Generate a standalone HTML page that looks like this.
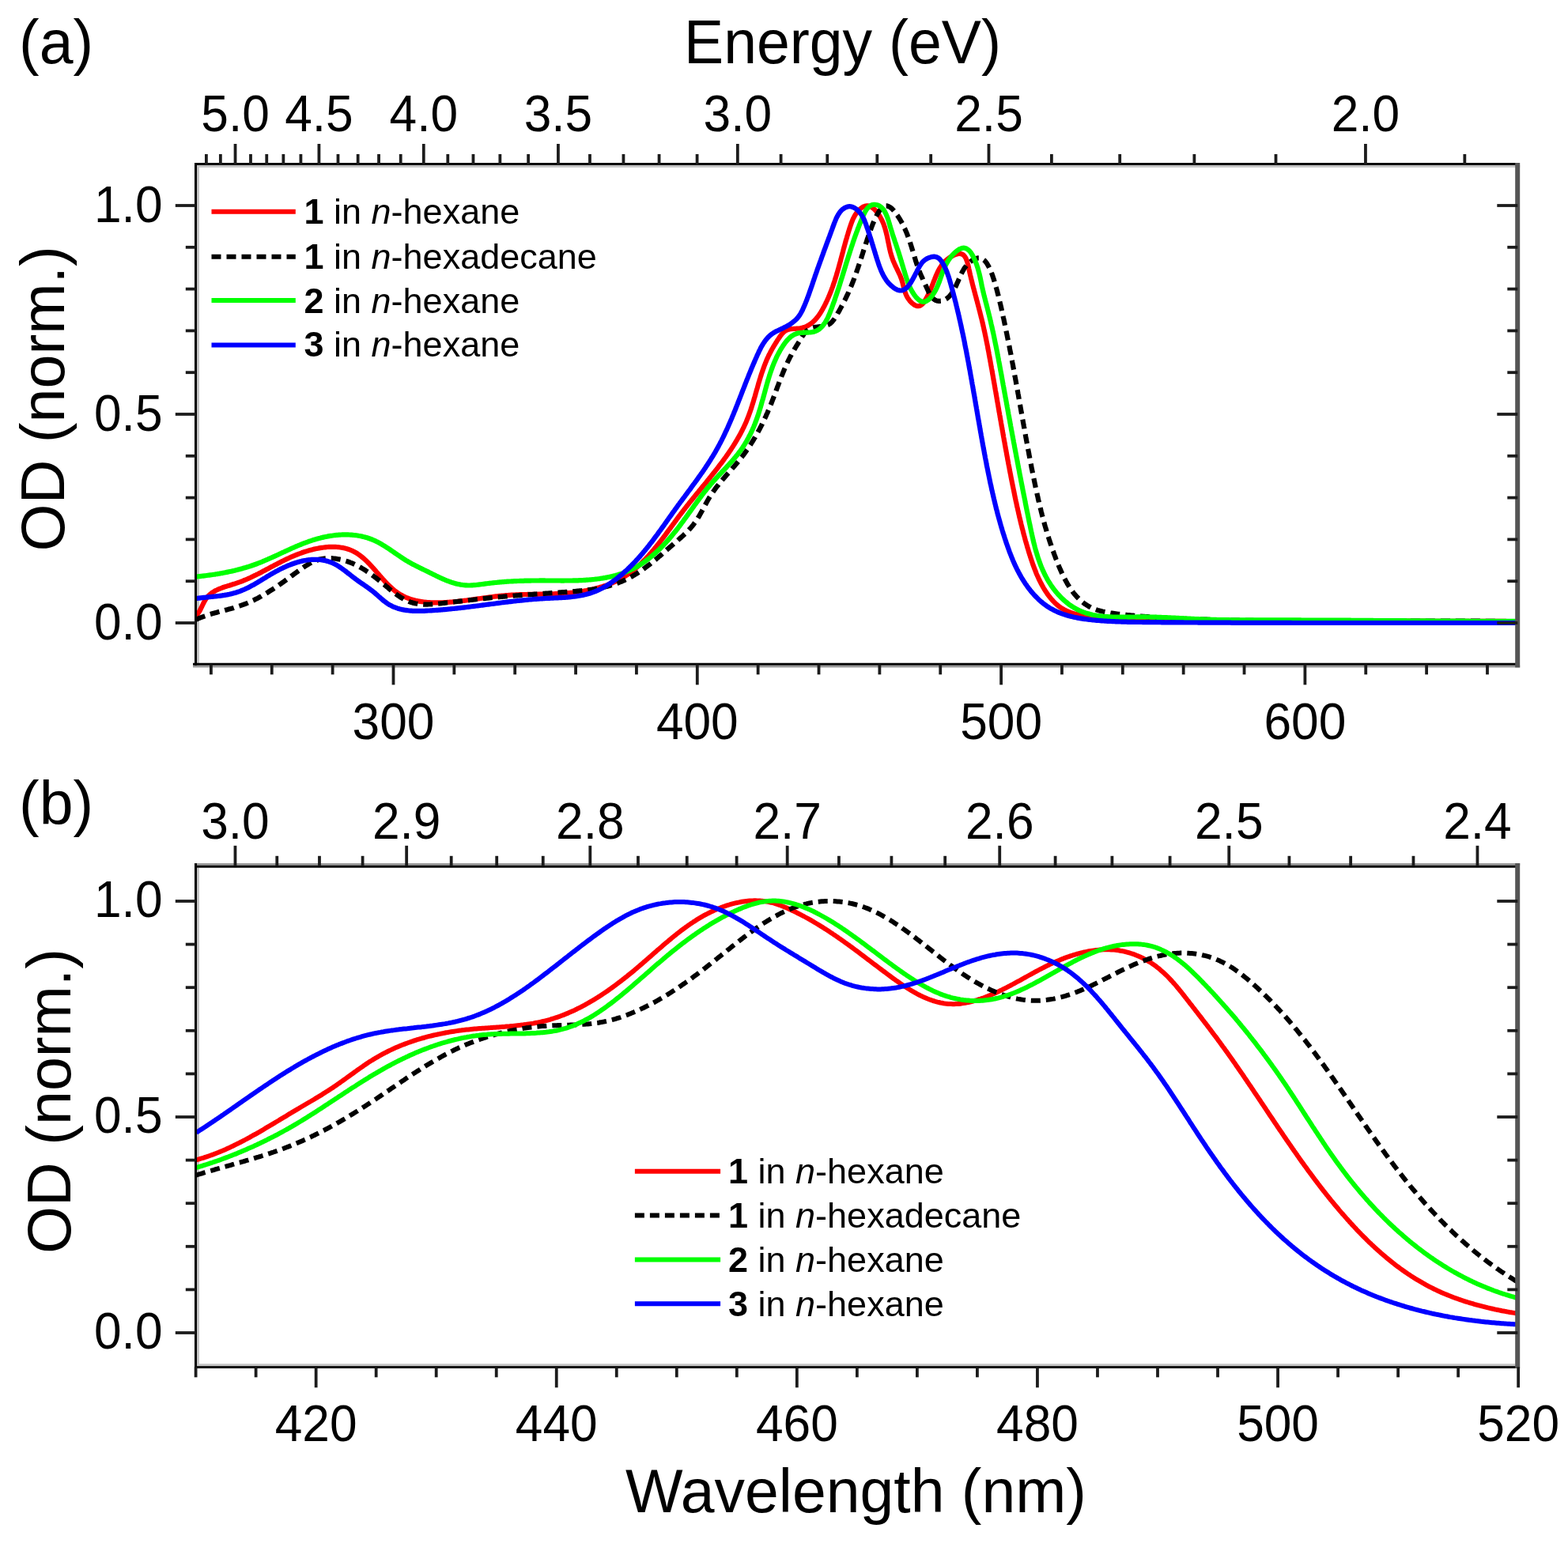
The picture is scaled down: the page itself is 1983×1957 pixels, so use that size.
<!DOCTYPE html>
<html><head><meta charset="utf-8"><title>OD spectra</title>
<style>html,body{margin:0;padding:0;background:#fff;overflow:hidden;}svg{display:block;}</style></head>
<body><svg xmlns="http://www.w3.org/2000/svg" width="1983" height="1957" viewBox="0 0 1983 1957">
<rect width="1983" height="1957" fill="#fff"/>
<defs><clipPath id="ca"><rect x="247.8" y="208.0" width="1671.5" height="632.3"/></clipPath>
<clipPath id="cb"><rect x="247.8" y="1095.8" width="1671.5" height="633.5"/></clipPath></defs>
<rect x="249.00" y="206.00" width="3.00" height="635.60" fill="#c4c4c4" stroke="none"/>
<rect x="246.00" y="208.80" width="1676.20" height="3.00" fill="#c4c4c4" stroke="none"/>
<rect x="244.00" y="841.50" width="1678.20" height="2.90" fill="#9a9a9a" stroke="none"/>
<rect x="249.00" y="1097.70" width="3.00" height="630.40" fill="#c4c4c4" stroke="none"/>
<rect x="246.00" y="1092.00" width="1676.20" height="2.90" fill="#9a9a9a" stroke="none"/>
<rect x="252.00" y="1725.20" width="1664.20" height="3.00" fill="#c4c4c4" stroke="none"/>
<g clip-path="url(#ca)" fill="none" stroke-linejoin="round">
<path d="M248.0,778.5 L249.0,777.5 L250.0,776.5 L250.8,775.4 L251.7,774.2 L252.5,772.9 L253.2,771.5 L253.9,770.1 L254.6,768.7 L255.3,767.3 L256.0,765.8 L256.7,764.3 L257.4,762.9 L258.1,761.5 L258.9,760.1 L259.7,758.7 L260.5,757.5 L261.4,756.3 L262.3,755.1 L263.3,754.0 L264.4,753.0 L265.5,752.0 L266.6,751.1 L267.7,750.2 L268.9,749.4 L270.2,748.6 L271.4,747.8 L272.7,747.1 L274.0,746.5 L275.4,745.8 L276.8,745.2 L278.2,744.6 L279.6,744.1 L281.0,743.5 L282.4,743.0 L283.9,742.5 L285.4,742.1 L286.8,741.6 L288.3,741.1 L289.8,740.7 L291.3,740.2 L292.8,739.7 L294.2,739.3 L295.7,738.8 L297.2,738.4 L298.6,737.9 L300.1,737.4 L301.5,736.9 L303.0,736.4 L304.4,735.9 L305.8,735.3 L307.2,734.8 L308.6,734.2 L310.0,733.6 L311.3,733.1 L312.7,732.5 L314.0,731.9 L315.4,731.3 L316.7,730.7 L318.1,730.0 L319.4,729.4 L320.7,728.8 L322.0,728.1 L323.4,727.5 L324.7,726.8 L326.0,726.2 L327.3,725.5 L328.6,724.9 L329.9,724.2 L331.2,723.5 L332.5,722.8 L333.8,722.1 L335.1,721.5 L336.3,720.8 L337.6,720.1 L338.9,719.4 L340.2,718.7 L341.5,718.0 L342.8,717.3 L344.1,716.6 L345.4,716.0 L346.7,715.3 L348.0,714.6 L349.3,713.9 L350.6,713.2 L351.9,712.5 L353.2,711.9 L354.5,711.2 L355.8,710.5 L357.2,709.8 L358.5,709.2 L359.8,708.5 L361.2,707.9 L362.5,707.2 L363.9,706.6 L365.3,706.0 L366.7,705.3 L368.0,704.7 L369.4,704.1 L370.8,703.5 L372.3,702.9 L373.7,702.3 L375.1,701.7 L376.6,701.2 L378.0,700.6 L379.5,700.1 L380.9,699.6 L382.4,699.0 L383.9,698.5 L385.4,698.0 L386.9,697.6 L388.4,697.1 L389.9,696.6 L391.4,696.2 L392.9,695.8 L394.4,695.4 L395.9,695.0 L397.5,694.6 L399.0,694.3 L400.5,694.0 L402.0,693.7 L403.6,693.4 L405.1,693.1 L406.6,692.9 L408.1,692.7 L409.6,692.5 L411.2,692.3 L412.7,692.1 L414.2,692.0 L415.7,691.9 L417.2,691.8 L418.7,691.8 L420.2,691.8 L421.7,691.8 L423.1,691.8 L424.6,691.9 L426.1,692.0 L427.5,692.1 L429.0,692.3 L430.4,692.5 L431.8,692.7 L433.3,692.9 L434.7,693.2 L436.1,693.5 L437.4,693.9 L438.8,694.3 L440.2,694.7 L441.5,695.2 L442.8,695.7 L444.2,696.2 L445.5,696.8 L446.8,697.4 L448.0,698.0 L449.3,698.7 L450.5,699.4 L451.7,700.2 L452.9,701.0 L454.1,701.8 L455.3,702.7 L456.5,703.6 L457.6,704.5 L458.8,705.5 L459.9,706.4 L461.1,707.5 L462.2,708.5 L463.3,709.5 L464.4,710.6 L465.5,711.7 L466.5,712.8 L467.6,713.9 L468.7,715.1 L469.7,716.2 L470.8,717.4 L471.9,718.5 L472.9,719.7 L474.0,720.9 L475.0,722.1 L476.0,723.3 L477.1,724.5 L478.1,725.7 L479.2,726.9 L480.2,728.1 L481.3,729.3 L482.3,730.5 L483.4,731.7 L484.4,732.9 L485.5,734.0 L486.5,735.2 L487.6,736.3 L488.7,737.5 L489.8,738.6 L490.9,739.7 L492.0,740.8 L493.1,741.8 L494.2,742.9 L495.3,743.9 L496.4,744.9 L497.6,745.9 L498.7,746.8 L499.9,747.8 L501.1,748.6 L502.3,749.5 L503.5,750.3 L504.7,751.1 L506.0,751.9 L507.2,752.6 L508.5,753.3 L509.7,754.0 L511.0,754.6 L512.3,755.2 L513.6,755.8 L515.0,756.3 L516.3,756.9 L517.6,757.3 L519.0,757.8 L520.4,758.3 L521.7,758.7 L523.1,759.1 L524.5,759.4 L525.9,759.8 L527.3,760.1 L528.8,760.4 L530.2,760.6 L531.6,760.9 L533.1,761.1 L534.5,761.3 L536.0,761.5 L537.4,761.7 L538.9,761.8 L540.4,762.0 L541.8,762.1 L543.3,762.2 L544.8,762.3 L546.3,762.3 L547.8,762.4 L549.3,762.4 L550.8,762.4 L552.3,762.4 L553.8,762.4 L555.3,762.4 L556.8,762.4 L558.3,762.3 L559.8,762.3 L561.3,762.2 L562.8,762.1 L564.3,762.0 L565.8,761.9 L567.4,761.8 L568.9,761.7 L570.4,761.6 L571.9,761.5 L573.4,761.3 L574.9,761.2 L576.4,761.0 L577.9,760.9 L579.4,760.7 L580.9,760.6 L582.4,760.4 L583.9,760.2 L585.4,760.0 L586.9,759.8 L588.4,759.7 L589.9,759.5 L591.4,759.3 L592.9,759.1 L594.4,758.9 L595.9,758.7 L597.4,758.5 L598.9,758.3 L600.4,758.0 L601.9,757.8 L603.4,757.6 L604.9,757.4 L606.4,757.2 L607.9,757.0 L609.4,756.8 L610.9,756.6 L612.4,756.4 L613.9,756.2 L615.4,756.0 L616.9,755.8 L618.4,755.6 L619.9,755.4 L621.4,755.2 L622.8,755.0 L624.3,754.8 L625.8,754.6 L627.3,754.4 L628.8,754.3 L630.3,754.1 L631.8,753.9 L633.3,753.8 L634.8,753.6 L636.3,753.5 L637.8,753.4 L639.3,753.2 L640.8,753.1 L642.3,753.0 L643.7,752.9 L645.2,752.8 L646.7,752.7 L648.2,752.6 L649.7,752.5 L651.2,752.5 L652.7,752.4 L654.2,752.3 L655.7,752.3 L657.2,752.2 L658.7,752.2 L660.2,752.1 L661.7,752.1 L663.1,752.0 L664.6,752.0 L666.1,752.0 L667.6,751.9 L669.1,751.9 L670.6,751.9 L672.1,751.9 L673.6,751.8 L675.1,751.8 L676.6,751.8 L678.1,751.8 L679.6,751.8 L681.1,751.7 L682.6,751.7 L684.1,751.7 L685.6,751.7 L687.1,751.6 L688.6,751.6 L690.1,751.6 L691.6,751.5 L693.1,751.5 L694.6,751.5 L696.1,751.4 L697.6,751.4 L699.1,751.3 L700.6,751.3 L702.1,751.2 L703.6,751.2 L705.1,751.1 L706.6,751.0 L708.1,750.9 L709.6,750.9 L711.1,750.8 L712.6,750.7 L714.1,750.6 L715.6,750.4 L717.1,750.3 L718.6,750.2 L720.1,750.1 L721.6,749.9 L723.1,749.8 L724.6,749.6 L726.1,749.4 L727.6,749.2 L729.1,749.0 L730.6,748.8 L732.1,748.6 L733.6,748.4 L735.1,748.2 L736.6,748.0 L738.1,747.7 L739.6,747.4 L741.1,747.2 L742.6,746.9 L744.1,746.6 L745.5,746.3 L747.0,746.0 L748.5,745.7 L749.9,745.3 L751.4,745.0 L752.9,744.6 L754.3,744.2 L755.7,743.8 L757.2,743.4 L758.6,743.0 L760.0,742.6 L761.5,742.2 L762.9,741.7 L764.3,741.2 L765.7,740.8 L767.1,740.3 L768.5,739.8 L769.9,739.2 L771.2,738.7 L772.6,738.1 L774.0,737.6 L775.3,737.0 L776.7,736.4 L778.0,735.8 L779.3,735.1 L780.6,734.5 L781.9,733.8 L783.2,733.2 L784.5,732.5 L785.8,731.8 L787.0,731.0 L788.3,730.3 L789.5,729.5 L790.8,728.7 L792.0,727.9 L793.2,727.1 L794.4,726.3 L795.6,725.4 L796.8,724.6 L798.0,723.7 L799.1,722.8 L800.3,721.9 L801.4,721.0 L802.6,720.1 L803.7,719.1 L804.8,718.2 L805.9,717.2 L807.0,716.2 L808.1,715.2 L809.2,714.2 L810.3,713.2 L811.4,712.1 L812.4,711.1 L813.5,710.0 L814.5,709.0 L815.6,707.9 L816.6,706.8 L817.7,705.7 L818.7,704.6 L819.7,703.5 L820.7,702.4 L821.7,701.2 L822.7,700.1 L823.7,699.0 L824.7,697.8 L825.7,696.6 L826.7,695.5 L827.6,694.3 L828.6,693.1 L829.6,691.9 L830.5,690.7 L831.5,689.5 L832.5,688.3 L833.4,687.1 L834.3,685.9 L835.3,684.7 L836.2,683.5 L837.2,682.3 L838.1,681.0 L839.0,679.8 L839.9,678.6 L840.9,677.3 L841.8,676.1 L842.7,674.9 L843.6,673.6 L844.5,672.4 L845.4,671.2 L846.4,669.9 L847.3,668.7 L848.2,667.4 L849.1,666.2 L850.0,665.0 L850.9,663.7 L851.8,662.5 L852.7,661.3 L853.6,660.0 L854.5,658.8 L855.4,657.6 L856.3,656.3 L857.2,655.1 L858.1,653.9 L859.0,652.7 L859.9,651.5 L860.8,650.3 L861.7,649.1 L862.7,647.9 L863.6,646.7 L864.5,645.5 L865.4,644.3 L866.3,643.2 L867.2,642.0 L868.1,640.8 L869.1,639.7 L870.0,638.5 L870.9,637.4 L871.8,636.2 L872.7,635.0 L873.7,633.9 L874.6,632.8 L875.5,631.6 L876.4,630.5 L877.4,629.3 L878.3,628.2 L879.2,627.0 L880.2,625.9 L881.1,624.8 L882.0,623.6 L883.0,622.5 L883.9,621.3 L884.8,620.2 L885.8,619.1 L886.7,617.9 L887.6,616.8 L888.6,615.6 L889.5,614.5 L890.4,613.4 L891.4,612.2 L892.3,611.1 L893.3,609.9 L894.2,608.8 L895.1,607.6 L896.1,606.4 L897.0,605.3 L898.0,604.1 L898.9,602.9 L899.8,601.8 L900.8,600.6 L901.7,599.4 L902.6,598.2 L903.6,597.1 L904.5,595.9 L905.4,594.7 L906.4,593.5 L907.3,592.3 L908.2,591.1 L909.1,589.9 L910.0,588.7 L910.9,587.5 L911.9,586.3 L912.8,585.1 L913.7,583.9 L914.6,582.7 L915.4,581.5 L916.3,580.2 L917.2,579.0 L918.1,577.8 L919.0,576.5 L919.8,575.3 L920.7,574.1 L921.5,572.8 L922.4,571.6 L923.2,570.3 L924.1,569.1 L924.9,567.8 L925.7,566.6 L926.6,565.3 L927.4,564.0 L928.2,562.7 L929.0,561.5 L929.8,560.2 L930.5,558.9 L931.3,557.6 L932.1,556.3 L932.8,555.0 L933.6,553.7 L934.3,552.4 L935.1,551.1 L935.8,549.8 L936.5,548.5 L937.2,547.1 L937.9,545.8 L938.6,544.5 L939.2,543.1 L939.9,541.8 L940.6,540.5 L941.2,539.1 L941.8,537.7 L942.5,536.4 L943.1,535.0 L943.7,533.6 L944.2,532.3 L944.8,530.9 L945.4,529.5 L945.9,528.1 L946.5,526.7 L947.0,525.3 L947.5,523.9 L948.0,522.5 L948.5,521.1 L949.0,519.7 L949.5,518.3 L950.0,516.9 L950.4,515.4 L950.9,514.0 L951.3,512.6 L951.8,511.1 L952.2,509.7 L952.7,508.3 L953.1,506.8 L953.5,505.4 L953.9,503.9 L954.4,502.5 L954.8,501.1 L955.2,499.6 L955.6,498.2 L956.0,496.7 L956.4,495.3 L956.8,493.8 L957.2,492.4 L957.7,490.9 L958.1,489.5 L958.5,488.0 L958.9,486.6 L959.3,485.1 L959.7,483.7 L960.2,482.2 L960.6,480.8 L961.0,479.4 L961.5,477.9 L961.9,476.5 L962.4,475.1 L962.8,473.6 L963.3,472.2 L963.8,470.8 L964.3,469.4 L964.8,467.9 L965.3,466.5 L965.8,465.1 L966.3,463.7 L966.8,462.3 L967.4,460.9 L967.9,459.5 L968.5,458.1 L969.1,456.7 L969.6,455.3 L970.2,454.0 L970.9,452.6 L971.5,451.2 L972.1,449.9 L972.8,448.5 L973.5,447.2 L974.2,445.8 L974.9,444.5 L975.6,443.2 L976.3,441.8 L977.1,440.5 L977.9,439.2 L978.6,437.9 L979.4,436.6 L980.2,435.3 L981.0,434.0 L981.8,432.8 L982.6,431.5 L983.4,430.2 L984.3,429.0 L985.1,427.7 L985.9,426.5 L986.8,425.2 L987.7,424.0 L988.6,422.9 L989.5,421.8 L990.5,420.7 L991.5,419.8 L992.6,418.9 L993.8,418.1 L995.1,417.5 L996.4,417.0 L997.9,416.6 L999.4,416.3 L1000.9,416.1 L1002.6,416.0 L1004.2,415.9 L1005.8,415.8 L1007.5,415.7 L1009.1,415.6 L1010.7,415.5 L1012.3,415.2 L1013.8,414.9 L1015.3,414.5 L1016.7,414.1 L1018.1,413.6 L1019.5,413.0 L1020.8,412.4 L1022.0,411.7 L1023.3,411.0 L1024.5,410.2 L1025.6,409.3 L1026.8,408.5 L1027.9,407.5 L1028.9,406.6 L1030.0,405.5 L1031.0,404.5 L1032.0,403.4 L1032.9,402.3 L1033.8,401.1 L1034.7,400.0 L1035.6,398.8 L1036.5,397.5 L1037.3,396.3 L1038.1,395.0 L1038.9,393.7 L1039.6,392.4 L1040.4,391.1 L1041.1,389.7 L1041.9,388.4 L1042.6,387.1 L1043.2,385.7 L1043.9,384.4 L1044.6,383.0 L1045.2,381.6 L1045.9,380.3 L1046.5,378.9 L1047.1,377.5 L1047.7,376.2 L1048.3,374.8 L1048.9,373.4 L1049.5,372.0 L1050.0,370.6 L1050.6,369.2 L1051.1,367.8 L1051.6,366.5 L1052.1,365.1 L1052.7,363.6 L1053.2,362.2 L1053.7,360.8 L1054.1,359.4 L1054.6,358.0 L1055.1,356.6 L1055.6,355.2 L1056.0,353.8 L1056.5,352.3 L1056.9,350.9 L1057.4,349.5 L1057.8,348.1 L1058.2,346.6 L1058.6,345.2 L1059.1,343.8 L1059.5,342.3 L1059.9,340.9 L1060.3,339.5 L1060.7,338.0 L1061.1,336.6 L1061.5,335.1 L1061.9,333.7 L1062.3,332.2 L1062.7,330.8 L1063.1,329.4 L1063.4,327.9 L1063.8,326.5 L1064.2,325.0 L1064.6,323.6 L1065.0,322.1 L1065.4,320.6 L1065.8,319.2 L1066.2,317.7 L1066.5,316.3 L1066.9,314.8 L1067.3,313.4 L1067.7,311.9 L1068.1,310.5 L1068.5,309.0 L1068.9,307.6 L1069.3,306.1 L1069.7,304.6 L1070.1,303.2 L1070.6,301.7 L1071.0,300.3 L1071.4,298.8 L1071.8,297.4 L1072.3,295.9 L1072.7,294.5 L1073.2,293.0 L1073.6,291.5 L1074.1,290.1 L1074.5,288.6 L1075.0,287.2 L1075.5,285.7 L1076.0,284.3 L1076.5,282.9 L1077.0,281.4 L1077.6,280.0 L1078.1,278.6 L1078.7,277.2 L1079.4,275.8 L1080.1,274.5 L1080.8,273.1 L1081.5,271.8 L1082.4,270.6 L1083.2,269.3 L1084.2,268.1 L1085.2,267.0 L1086.2,265.8 L1087.3,264.8 L1088.5,263.7 L1089.8,262.8 L1091.0,262.0 L1092.3,261.3 L1093.7,260.8 L1095.0,260.5 L1096.3,260.3 L1097.6,260.4 L1098.8,260.6 L1100.1,261.0 L1101.3,261.6 L1102.5,262.2 L1103.7,263.1 L1104.9,264.0 L1106.0,265.0 L1107.1,266.1 L1108.1,267.3 L1109.1,268.5 L1110.1,269.8 L1111.0,271.1 L1111.9,272.4 L1112.7,273.7 L1113.5,275.1 L1114.2,276.4 L1114.9,277.8 L1115.6,279.1 L1116.2,280.5 L1116.8,281.9 L1117.4,283.3 L1117.9,284.7 L1118.4,286.2 L1118.9,287.6 L1119.3,289.0 L1119.7,290.5 L1120.1,291.9 L1120.5,293.4 L1120.9,294.8 L1121.2,296.3 L1121.6,297.7 L1121.9,299.2 L1122.2,300.7 L1122.5,302.1 L1122.8,303.6 L1123.1,305.1 L1123.4,306.5 L1123.7,308.0 L1124.0,309.5 L1124.3,310.9 L1124.6,312.4 L1124.9,313.9 L1125.2,315.3 L1125.6,316.8 L1125.9,318.2 L1126.3,319.7 L1126.7,321.1 L1127.1,322.5 L1127.5,324.0 L1128.0,325.4 L1128.5,326.8 L1129.0,328.2 L1129.5,329.6 L1130.1,331.0 L1130.7,332.4 L1131.3,333.8 L1131.9,335.1 L1132.5,336.5 L1133.2,337.9 L1133.9,339.2 L1134.5,340.6 L1135.2,342.0 L1135.8,343.3 L1136.5,344.7 L1137.1,346.1 L1137.8,347.4 L1138.4,348.8 L1138.9,350.2 L1139.5,351.6 L1140.0,353.0 L1140.5,354.4 L1140.9,355.8 L1141.3,357.2 L1141.7,358.7 L1142.0,360.1 L1142.4,361.5 L1142.7,363.0 L1143.1,364.5 L1143.5,365.9 L1143.9,367.4 L1144.4,368.8 L1144.9,370.3 L1145.4,371.7 L1146.0,373.2 L1146.8,374.6 L1147.5,376.1 L1148.4,377.5 L1149.4,378.9 L1150.4,380.3 L1151.6,381.6 L1152.7,382.8 L1153.9,383.9 L1155.2,384.9 L1156.4,385.7 L1157.7,386.4 L1159.0,386.9 L1160.2,387.2 L1161.5,387.2 L1162.7,387.0 L1163.8,386.6 L1164.9,385.9 L1166.0,385.1 L1167.0,384.1 L1168.0,382.9 L1168.9,381.6 L1169.8,380.2 L1170.7,378.8 L1171.5,377.3 L1172.3,375.9 L1173.0,374.4 L1173.8,372.9 L1174.5,371.5 L1175.1,370.1 L1175.8,368.7 L1176.4,367.2 L1177.0,365.8 L1177.6,364.4 L1178.1,363.0 L1178.7,361.7 L1179.2,360.3 L1179.8,358.9 L1180.3,357.5 L1180.8,356.2 L1181.4,354.8 L1181.9,353.5 L1182.4,352.1 L1183.0,350.8 L1183.5,349.4 L1184.1,348.1 L1184.7,346.7 L1185.3,345.4 L1185.9,344.1 L1186.5,342.8 L1187.2,341.5 L1187.9,340.2 L1188.7,338.9 L1189.5,337.6 L1190.3,336.4 L1191.2,335.1 L1192.2,333.9 L1193.2,332.7 L1194.3,331.5 L1195.4,330.4 L1196.6,329.3 L1197.9,328.2 L1199.3,327.1 L1200.7,326.1 L1202.1,325.1 L1203.6,324.2 L1205.1,323.4 L1206.6,322.7 L1208.1,322.1 L1209.6,321.6 L1211.0,321.3 L1212.4,321.0 L1213.7,321.0 L1215.0,321.1 L1216.2,321.4 L1217.3,321.9 L1218.3,322.5 L1219.2,323.4 L1220.0,324.4 L1220.8,325.5 L1221.5,326.8 L1222.1,328.2 L1222.6,329.7 L1223.2,331.2 L1223.6,332.8 L1224.1,334.5 L1224.5,336.2 L1224.9,337.9 L1225.2,339.6 L1225.6,341.3 L1226.0,343.0 L1226.3,344.6 L1226.7,346.2 L1227.0,347.7 L1227.4,349.3 L1227.8,350.8 L1228.1,352.3 L1228.5,353.8 L1228.9,355.3 L1229.2,356.7 L1229.6,358.1 L1229.9,359.6 L1230.3,361.0 L1230.7,362.4 L1231.0,363.8 L1231.4,365.2 L1231.8,366.5 L1232.1,367.9 L1232.5,369.3 L1232.9,370.7 L1233.2,372.1 L1233.6,373.5 L1234.0,374.9 L1234.4,376.3 L1234.7,377.7 L1235.1,379.1 L1235.5,380.5 L1235.9,381.9 L1236.2,383.3 L1236.6,384.8 L1237.0,386.2 L1237.4,387.7 L1237.8,389.1 L1238.1,390.5 L1238.5,392.0 L1238.9,393.5 L1239.3,394.9 L1239.6,396.4 L1240.0,397.8 L1240.4,399.3 L1240.7,400.8 L1241.1,402.2 L1241.5,403.7 L1241.8,405.2 L1242.2,406.6 L1242.5,408.1 L1242.9,409.6 L1243.2,411.0 L1243.5,412.5 L1243.9,414.0 L1244.2,415.5 L1244.5,416.9 L1244.8,418.4 L1245.2,419.9 L1245.5,421.3 L1245.8,422.8 L1246.1,424.3 L1246.4,425.7 L1246.7,427.2 L1247.0,428.7 L1247.3,430.2 L1247.6,431.6 L1247.9,433.1 L1248.2,434.6 L1248.5,436.0 L1248.8,437.5 L1249.1,439.0 L1249.3,440.5 L1249.6,441.9 L1249.9,443.4 L1250.2,444.9 L1250.5,446.4 L1250.7,447.8 L1251.0,449.3 L1251.3,450.8 L1251.5,452.3 L1251.8,453.7 L1252.1,455.2 L1252.3,456.7 L1252.6,458.2 L1252.9,459.6 L1253.1,461.1 L1253.4,462.6 L1253.7,464.0 L1253.9,465.5 L1254.2,467.0 L1254.5,468.5 L1254.7,469.9 L1255.0,471.4 L1255.2,472.9 L1255.5,474.4 L1255.8,475.8 L1256.0,477.3 L1256.3,478.8 L1256.5,480.3 L1256.8,481.7 L1257.0,483.2 L1257.3,484.7 L1257.6,486.2 L1257.8,487.6 L1258.1,489.1 L1258.3,490.6 L1258.6,492.1 L1258.8,493.5 L1259.1,495.0 L1259.4,496.5 L1259.6,498.0 L1259.9,499.4 L1260.1,500.9 L1260.4,502.4 L1260.6,503.9 L1260.9,505.3 L1261.1,506.8 L1261.4,508.3 L1261.7,509.8 L1261.9,511.2 L1262.2,512.7 L1262.4,514.2 L1262.7,515.7 L1262.9,517.1 L1263.2,518.6 L1263.4,520.1 L1263.7,521.6 L1264.0,523.0 L1264.2,524.5 L1264.5,526.0 L1264.7,527.5 L1265.0,528.9 L1265.2,530.4 L1265.5,531.9 L1265.8,533.4 L1266.0,534.8 L1266.3,536.3 L1266.5,537.8 L1266.8,539.3 L1267.1,540.7 L1267.3,542.2 L1267.6,543.7 L1267.8,545.2 L1268.1,546.6 L1268.4,548.1 L1268.6,549.6 L1268.9,551.1 L1269.1,552.5 L1269.4,554.0 L1269.7,555.5 L1269.9,557.0 L1270.2,558.4 L1270.5,559.9 L1270.7,561.4 L1271.0,562.9 L1271.3,564.3 L1271.5,565.8 L1271.8,567.3 L1272.1,568.8 L1272.3,570.2 L1272.6,571.7 L1272.9,573.2 L1273.1,574.7 L1273.4,576.1 L1273.7,577.6 L1274.0,579.1 L1274.2,580.6 L1274.5,582.1 L1274.8,583.5 L1275.1,585.0 L1275.3,586.5 L1275.6,588.0 L1275.9,589.4 L1276.2,590.9 L1276.5,592.4 L1276.7,593.9 L1277.0,595.3 L1277.3,596.8 L1277.6,598.3 L1277.9,599.8 L1278.2,601.2 L1278.4,602.7 L1278.7,604.2 L1279.0,605.7 L1279.3,607.2 L1279.6,608.6 L1279.9,610.1 L1280.2,611.6 L1280.5,613.1 L1280.8,614.5 L1281.1,616.0 L1281.4,617.5 L1281.7,619.0 L1282.0,620.4 L1282.3,621.9 L1282.6,623.4 L1282.9,624.9 L1283.2,626.3 L1283.5,627.8 L1283.8,629.3 L1284.1,630.8 L1284.4,632.2 L1284.7,633.7 L1285.1,635.2 L1285.4,636.7 L1285.7,638.1 L1286.0,639.6 L1286.3,641.1 L1286.7,642.5 L1287.0,644.0 L1287.3,645.5 L1287.7,646.9 L1288.0,648.4 L1288.3,649.9 L1288.7,651.3 L1289.0,652.8 L1289.3,654.3 L1289.7,655.7 L1290.0,657.2 L1290.4,658.6 L1290.7,660.1 L1291.1,661.6 L1291.4,663.0 L1291.8,664.5 L1292.2,665.9 L1292.5,667.4 L1292.9,668.8 L1293.3,670.3 L1293.7,671.7 L1294.0,673.2 L1294.4,674.6 L1294.8,676.1 L1295.2,677.5 L1295.6,679.0 L1296.0,680.4 L1296.3,681.8 L1296.7,683.3 L1297.1,684.7 L1297.6,686.1 L1298.0,687.6 L1298.4,689.0 L1298.8,690.4 L1299.2,691.9 L1299.6,693.3 L1300.1,694.7 L1300.5,696.1 L1300.9,697.5 L1301.3,699.0 L1301.8,700.4 L1302.2,701.8 L1302.7,703.2 L1303.1,704.6 L1303.6,706.0 L1304.0,707.4 L1304.5,708.8 L1305.0,710.2 L1305.5,711.6 L1305.9,713.0 L1306.4,714.4 L1306.9,715.8 L1307.5,717.2 L1308.0,718.6 L1308.5,720.0 L1309.1,721.4 L1309.6,722.8 L1310.2,724.2 L1310.7,725.6 L1311.3,727.0 L1311.9,728.3 L1312.6,729.7 L1313.2,731.1 L1313.8,732.5 L1314.5,733.9 L1315.2,735.3 L1315.9,736.6 L1316.6,738.0 L1317.3,739.4 L1318.1,740.8 L1318.8,742.1 L1319.6,743.5 L1320.4,744.8 L1321.2,746.2 L1322.0,747.5 L1322.9,748.8 L1323.8,750.1 L1324.6,751.4 L1325.5,752.6 L1326.5,753.9 L1327.4,755.1 L1328.4,756.3 L1329.3,757.5 L1330.3,758.6 L1331.3,759.8 L1332.4,760.9 L1333.4,761.9 L1334.5,763.0 L1335.6,764.0 L1336.7,765.0 L1337.8,765.9 L1338.9,766.8 L1340.1,767.7 L1341.3,768.5 L1342.5,769.3 L1343.7,770.1 L1345.0,770.8 L1346.2,771.5 L1347.5,772.1 L1348.8,772.7 L1350.1,773.3 L1351.4,773.9 L1352.8,774.4 L1354.1,774.9 L1355.5,775.3 L1356.9,775.8 L1358.2,776.2 L1359.7,776.6 L1361.1,776.9 L1362.5,777.3 L1363.9,777.6 L1365.4,777.9 L1366.8,778.2 L1368.3,778.4 L1369.8,778.7 L1371.2,778.9 L1372.7,779.1 L1374.2,779.3 L1375.7,779.5 L1377.2,779.7 L1378.7,779.9 L1380.2,780.0 L1381.7,780.2 L1383.2,780.3 L1384.8,780.4 L1386.3,780.5 L1387.8,780.7 L1389.3,780.8 L1390.8,780.9 L1392.3,781.0 L1393.9,781.1 L1395.4,781.2 L1396.9,781.3 L1398.4,781.4 L1399.9,781.5 L1401.4,781.6 L1403.0,781.7 L1404.5,781.8 L1406.0,781.9 L1407.5,782.0 L1409.0,782.1 L1410.5,782.2 L1412.0,782.3 L1413.6,782.4 L1415.1,782.5 L1416.6,782.5 L1418.1,782.6 L1419.6,782.7 L1421.1,782.8 L1422.6,782.9 L1424.1,782.9 L1425.6,783.0 L1427.1,783.1 L1428.6,783.1 L1430.2,783.2 L1431.7,783.3 L1433.2,783.3 L1434.7,783.4 L1436.2,783.5 L1437.7,783.5 L1439.2,783.6 L1440.7,783.6 L1442.2,783.7 L1443.7,783.8 L1445.2,783.8 L1446.7,783.9 L1448.2,783.9 L1449.7,784.0 L1451.2,784.0 L1452.7,784.0 L1454.2,784.1 L1455.7,784.1 L1457.2,784.2 L1458.7,784.2 L1460.2,784.3 L1461.7,784.3 L1463.2,784.3 L1464.7,784.4 L1466.2,784.4 L1467.7,784.4 L1469.2,784.5 L1470.7,784.5 L1472.2,784.5 L1473.7,784.6 L1475.2,784.6 L1476.7,784.6 L1478.2,784.6 L1479.7,784.7 L1481.2,784.7 L1482.7,784.7 L1484.2,784.7 L1485.7,784.8 L1487.2,784.8 L1488.7,784.8 L1490.2,784.8 L1491.7,784.8 L1493.2,784.9 L1494.7,784.9 L1496.2,784.9 L1497.7,784.9 L1499.2,784.9 L1500.7,784.9 L1502.2,785.0 L1503.7,785.0 L1505.2,785.0 L1506.7,785.0 L1508.2,785.0 L1509.7,785.0 L1511.2,785.0 L1512.7,785.0 L1514.2,785.0 L1515.7,785.1 L1517.2,785.1 L1518.7,785.1 L1520.2,785.1 L1521.7,785.1 L1523.2,785.1 L1524.6,785.1 L1526.1,785.1 L1527.6,785.1 L1529.1,785.1 L1530.6,785.1 L1532.1,785.1 L1533.6,785.1 L1535.1,785.1 L1536.6,785.1 L1538.1,785.1 L1539.6,785.1 L1541.1,785.1 L1542.6,785.1 L1544.1,785.1 L1545.6,785.1 L1547.1,785.1 L1548.6,785.1 L1550.1,785.1 L1551.6,785.1 L1553.1,785.1 L1554.6,785.1 L1556.1,785.1 L1557.6,785.1 L1559.0,785.1 L1560.5,785.2 L1562.0,785.2 L1563.5,785.2 L1565.0,785.2 L1566.5,785.2 L1568.0,785.2 L1569.5,785.2 L1571.0,785.2 L1572.5,785.2 L1574.0,785.2 L1575.5,785.2 L1577.0,785.2 L1578.5,785.2 L1580.0,785.2 L1581.5,785.2 L1583.0,785.2 L1584.5,785.2 L1586.0,785.2 L1587.5,785.2 L1589.0,785.2 L1590.5,785.2 L1592.0,785.2 L1593.5,785.2 L1595.0,785.2 L1596.5,785.2 L1598.0,785.2 L1599.5,785.2 L1601.0,785.2 L1602.5,785.2 L1604.0,785.2 L1605.5,785.2 L1607.0,785.2 L1608.5,785.2 L1610.0,785.2 L1611.5,785.2 L1613.0,785.2 L1614.5,785.2 L1616.0,785.2 L1617.5,785.2 L1619.0,785.2 L1620.5,785.2 L1622.0,785.2 L1623.5,785.3 L1625.0,785.3 L1626.5,785.3 L1628.0,785.3 L1629.5,785.3 L1631.0,785.3 L1632.5,785.3 L1634.0,785.3 L1635.5,785.3 L1637.0,785.3 L1638.5,785.3 L1640.0,785.3 L1641.5,785.3 L1643.0,785.3 L1644.5,785.3 L1646.0,785.3 L1647.5,785.3 L1649.0,785.3 L1650.5,785.3 L1652.0,785.3 L1653.5,785.3 L1655.0,785.3 L1656.5,785.3 L1658.0,785.3 L1659.5,785.3 L1661.0,785.3 L1662.5,785.3 L1664.0,785.4 L1665.5,785.4 L1667.0,785.4 L1668.5,785.4 L1670.0,785.4 L1671.5,785.4 L1673.0,785.4 L1674.5,785.4 L1676.0,785.4 L1677.5,785.4 L1679.0,785.4 L1680.5,785.4 L1682.0,785.4 L1683.5,785.4 L1685.0,785.4 L1686.5,785.4 L1688.0,785.4 L1689.5,785.4 L1691.0,785.4 L1692.5,785.4 L1694.0,785.4 L1695.5,785.4 L1697.0,785.4 L1698.5,785.4 L1700.0,785.5 L1701.5,785.5 L1703.0,785.5 L1704.5,785.5 L1706.0,785.5 L1707.5,785.5 L1709.0,785.5 L1710.5,785.5 L1712.0,785.5 L1713.5,785.5 L1715.0,785.5 L1716.5,785.5 L1718.0,785.5 L1719.5,785.5 L1721.0,785.5 L1722.5,785.5 L1724.0,785.5 L1725.5,785.5 L1727.0,785.5 L1728.5,785.5 L1730.0,785.5 L1731.5,785.5 L1733.0,785.6 L1734.5,785.6 L1736.0,785.6 L1737.5,785.6 L1739.0,785.6 L1740.5,785.6 L1742.0,785.6 L1743.5,785.6 L1745.0,785.6 L1746.5,785.6 L1748.0,785.6 L1749.5,785.6 L1751.0,785.6 L1752.5,785.6 L1754.0,785.6 L1755.5,785.6 L1757.0,785.6 L1758.5,785.6 L1760.0,785.6 L1761.5,785.6 L1763.0,785.6 L1764.5,785.6 L1766.0,785.6 L1767.5,785.7 L1769.0,785.7 L1770.5,785.7 L1772.1,785.7 L1773.6,785.7 L1775.1,785.7 L1776.6,785.7 L1778.1,785.7 L1779.6,785.7 L1781.1,785.7 L1782.6,785.7 L1784.1,785.7 L1785.6,785.7 L1787.1,785.7 L1788.6,785.7 L1790.1,785.7 L1791.6,785.7 L1793.1,785.7 L1794.6,785.7 L1796.1,785.7 L1797.6,785.7 L1799.1,785.7 L1800.6,785.7 L1802.1,785.7 L1803.6,785.8 L1805.1,785.8 L1806.6,785.8 L1808.1,785.8 L1809.6,785.8 L1811.1,785.8 L1812.6,785.8 L1814.1,785.8 L1815.6,785.8 L1817.1,785.8 L1818.6,785.8 L1820.1,785.8 L1821.6,785.8 L1823.1,785.8 L1824.6,785.8 L1826.1,785.8 L1827.6,785.8 L1829.1,785.8 L1830.6,785.8 L1832.1,785.8 L1833.6,785.8 L1835.1,785.8 L1836.6,785.8 L1838.1,785.8 L1839.6,785.8 L1841.1,785.8 L1842.6,785.8 L1844.1,785.9 L1845.6,785.9 L1847.1,785.9 L1848.6,785.9 L1850.1,785.9 L1851.6,785.9 L1853.1,785.9 L1854.6,785.9 L1856.1,785.9 L1857.6,785.9 L1859.1,785.9 L1860.6,785.9 L1862.1,785.9 L1863.5,785.9 L1865.0,785.9 L1866.5,785.9 L1868.0,785.9 L1869.5,785.9 L1871.0,785.9 L1872.5,785.9 L1874.0,785.9 L1875.5,785.9 L1877.0,785.9 L1878.5,785.9 L1880.0,785.9 L1881.5,785.9 L1883.0,785.9 L1884.5,785.9 L1886.0,785.9 L1887.5,785.9 L1889.0,785.9 L1890.5,785.9 L1892.0,785.9 L1893.5,785.9 L1895.0,785.9 L1896.5,785.9 L1898.0,785.9 L1899.5,785.9 L1901.0,785.9 L1902.5,785.9 L1904.0,785.9 L1905.5,786.0 L1907.0,786.0 L1908.5,786.0 L1910.0,786.0 L1911.5,786.0 L1913.0,786.0 L1914.4,786.0 L1915.9,786.0 L1917.4,786.0 L1918.9,786.0" stroke="#ff0000" stroke-width="6.2"/>
<path d="M248.1,783.7 L249.5,783.1 L250.8,782.5 L252.1,781.9 L253.5,781.3 L254.9,780.8 L256.3,780.3 L257.7,779.8 L259.1,779.3 L260.5,778.8 L261.9,778.3 L263.3,777.8 L264.8,777.4 L266.2,777.0 L267.6,776.5 L269.1,776.1 L270.5,775.7 L272.0,775.3 L273.5,774.9 L274.9,774.5 L276.4,774.1 L277.9,773.7 L279.3,773.3 L280.8,773.0 L282.3,772.6 L283.8,772.2 L285.2,771.8 L286.7,771.4 L288.2,771.0 L289.6,770.6 L291.1,770.2 L292.6,769.8 L294.0,769.4 L295.5,769.0 L296.9,768.5 L298.4,768.1 L299.8,767.7 L301.3,767.2 L302.7,766.7 L304.1,766.2 L305.5,765.7 L306.9,765.2 L308.3,764.7 L309.7,764.1 L311.1,763.6 L312.5,763.0 L313.8,762.4 L315.2,761.8 L316.5,761.2 L317.9,760.6 L319.2,760.0 L320.6,759.4 L321.9,758.7 L323.2,758.0 L324.5,757.4 L325.9,756.7 L327.2,756.0 L328.5,755.3 L329.8,754.6 L331.1,753.8 L332.4,753.1 L333.6,752.4 L334.9,751.6 L336.2,750.9 L337.5,750.1 L338.7,749.3 L340.0,748.5 L341.3,747.7 L342.5,746.9 L343.8,746.1 L345.0,745.3 L346.3,744.5 L347.5,743.7 L348.8,742.8 L350.0,742.0 L351.2,741.2 L352.5,740.3 L353.7,739.4 L355.0,738.6 L356.2,737.7 L357.4,736.8 L358.6,736.0 L359.9,735.1 L361.1,734.2 L362.3,733.3 L363.5,732.4 L364.8,731.5 L366.0,730.6 L367.2,729.7 L368.4,728.8 L369.7,727.9 L370.9,727.0 L372.1,726.1 L373.3,725.2 L374.6,724.3 L375.8,723.4 L377.0,722.5 L378.3,721.6 L379.5,720.7 L380.7,719.8 L382.0,718.9 L383.2,718.1 L384.5,717.2 L385.7,716.4 L387.0,715.6 L388.3,714.8 L389.6,714.0 L390.8,713.3 L392.1,712.6 L393.5,711.9 L394.8,711.2 L396.1,710.6 L397.4,710.0 L398.8,709.5 L400.2,708.9 L401.5,708.5 L402.9,708.0 L404.3,707.6 L405.7,707.3 L407.2,707.0 L408.6,706.8 L410.1,706.6 L411.6,706.4 L413.0,706.3 L414.5,706.2 L416.0,706.2 L417.5,706.2 L419.0,706.2 L420.6,706.3 L422.1,706.5 L423.6,706.6 L425.1,706.8 L426.6,707.1 L428.2,707.3 L429.7,707.6 L431.2,707.9 L432.7,708.3 L434.2,708.7 L435.7,709.1 L437.2,709.6 L438.6,710.0 L440.1,710.5 L441.5,711.0 L443.0,711.6 L444.4,712.1 L445.8,712.7 L447.2,713.3 L448.5,714.0 L449.9,714.6 L451.2,715.3 L452.6,716.0 L453.9,716.7 L455.2,717.4 L456.5,718.1 L457.8,718.9 L459.0,719.6 L460.3,720.4 L461.6,721.2 L462.8,722.0 L464.0,722.8 L465.3,723.6 L466.5,724.5 L467.7,725.3 L468.9,726.2 L470.1,727.0 L471.3,727.9 L472.5,728.8 L473.6,729.7 L474.8,730.6 L476.0,731.5 L477.1,732.4 L478.3,733.3 L479.4,734.3 L480.6,735.2 L481.7,736.1 L482.9,737.1 L484.0,738.0 L485.2,739.0 L486.4,739.9 L487.5,740.9 L488.7,741.9 L489.9,742.8 L491.0,743.8 L492.2,744.8 L493.4,745.8 L494.6,746.8 L495.8,747.7 L497.0,748.7 L498.3,749.6 L499.5,750.6 L500.7,751.5 L502.0,752.4 L503.2,753.3 L504.5,754.1 L505.7,755.0 L507.0,755.8 L508.3,756.6 L509.6,757.3 L510.9,758.1 L512.2,758.8 L513.5,759.4 L514.9,760.0 L516.2,760.6 L517.6,761.2 L518.9,761.7 L520.3,762.1 L521.7,762.5 L523.1,762.9 L524.5,763.2 L525.9,763.5 L527.4,763.7 L528.8,764.0 L530.3,764.1 L531.7,764.3 L533.2,764.4 L534.7,764.5 L536.1,764.6 L537.6,764.6 L539.1,764.6 L540.6,764.6 L542.1,764.5 L543.6,764.5 L545.1,764.4 L546.6,764.3 L548.1,764.2 L549.6,764.1 L551.1,764.0 L552.7,763.8 L554.2,763.7 L555.7,763.5 L557.2,763.4 L558.7,763.2 L560.2,763.0 L561.7,762.9 L563.3,762.7 L564.8,762.5 L566.3,762.4 L567.8,762.2 L569.3,762.0 L570.8,761.8 L572.3,761.7 L573.8,761.5 L575.3,761.3 L576.8,761.1 L578.3,761.0 L579.8,760.8 L581.3,760.6 L582.8,760.4 L584.3,760.3 L585.8,760.1 L587.3,759.9 L588.8,759.7 L590.2,759.6 L591.7,759.4 L593.2,759.2 L594.7,759.0 L596.2,758.9 L597.7,758.7 L599.2,758.5 L600.7,758.4 L602.2,758.2 L603.6,758.0 L605.1,757.9 L606.6,757.7 L608.1,757.5 L609.6,757.4 L611.1,757.2 L612.6,757.1 L614.1,756.9 L615.5,756.7 L617.0,756.6 L618.5,756.4 L620.0,756.3 L621.5,756.1 L623.0,756.0 L624.5,755.8 L626.0,755.7 L627.4,755.6 L628.9,755.4 L630.4,755.3 L631.9,755.1 L633.4,755.0 L634.9,754.9 L636.4,754.7 L637.9,754.6 L639.4,754.5 L640.8,754.4 L642.3,754.2 L643.8,754.1 L645.3,754.0 L646.8,753.9 L648.3,753.8 L649.8,753.6 L651.3,753.5 L652.8,753.4 L654.3,753.3 L655.8,753.2 L657.3,753.1 L658.7,752.9 L660.2,752.8 L661.7,752.7 L663.2,752.6 L664.7,752.5 L666.2,752.4 L667.7,752.3 L669.2,752.2 L670.7,752.1 L672.2,752.0 L673.7,751.9 L675.2,751.7 L676.7,751.6 L678.1,751.5 L679.6,751.4 L681.1,751.3 L682.6,751.2 L684.1,751.1 L685.6,751.0 L687.1,750.9 L688.6,750.8 L690.1,750.7 L691.6,750.6 L693.1,750.5 L694.6,750.4 L696.1,750.3 L697.5,750.2 L699.0,750.1 L700.5,750.0 L702.0,749.9 L703.5,749.8 L705.0,749.6 L706.5,749.5 L708.0,749.4 L709.5,749.3 L711.0,749.2 L712.5,749.1 L713.9,749.0 L715.4,748.9 L716.9,748.8 L718.4,748.7 L719.9,748.5 L721.4,748.4 L722.9,748.3 L724.4,748.2 L725.9,748.1 L727.3,748.0 L728.8,747.8 L730.3,747.7 L731.8,747.6 L733.3,747.4 L734.8,747.3 L736.3,747.1 L737.7,747.0 L739.2,746.8 L740.7,746.7 L742.2,746.5 L743.7,746.3 L745.1,746.1 L746.6,745.9 L748.1,745.7 L749.6,745.5 L751.0,745.2 L752.5,745.0 L754.0,744.7 L755.5,744.5 L756.9,744.2 L758.4,743.9 L759.9,743.6 L761.3,743.3 L762.8,743.0 L764.2,742.6 L765.7,742.3 L767.1,741.9 L768.6,741.6 L770.0,741.2 L771.4,740.8 L772.9,740.3 L774.3,739.9 L775.7,739.5 L777.1,739.0 L778.5,738.5 L779.9,738.0 L781.3,737.5 L782.7,737.0 L784.1,736.4 L785.5,735.9 L786.9,735.3 L788.2,734.7 L789.6,734.1 L790.9,733.5 L792.2,732.9 L793.6,732.2 L794.9,731.5 L796.2,730.8 L797.5,730.1 L798.8,729.4 L800.1,728.7 L801.4,727.9 L802.6,727.2 L803.9,726.4 L805.2,725.6 L806.4,724.8 L807.7,724.0 L808.9,723.2 L810.1,722.4 L811.4,721.5 L812.6,720.7 L813.8,719.8 L815.0,718.9 L816.2,718.0 L817.4,717.1 L818.6,716.2 L819.8,715.3 L821.0,714.4 L822.2,713.5 L823.4,712.5 L824.5,711.6 L825.7,710.6 L826.9,709.7 L828.0,708.7 L829.2,707.8 L830.4,706.8 L831.5,705.8 L832.7,704.8 L833.8,703.8 L835.0,702.9 L836.1,701.9 L837.3,700.9 L838.4,699.9 L839.6,698.9 L840.7,697.9 L841.8,696.9 L843.0,695.9 L844.1,694.9 L845.3,693.9 L846.4,692.9 L847.5,691.9 L848.7,690.9 L849.8,689.9 L851.0,688.9 L852.1,687.9 L853.2,686.9 L854.4,686.0 L855.5,685.0 L856.7,684.0 L857.8,683.0 L858.9,682.0 L860.0,681.0 L861.2,680.0 L862.3,679.0 L863.4,678.0 L864.5,677.0 L865.5,676.0 L866.6,675.0 L867.7,673.9 L868.7,672.9 L869.8,671.8 L870.8,670.8 L871.8,669.7 L872.8,668.6 L873.8,667.5 L874.7,666.4 L875.7,665.2 L876.6,664.1 L877.5,662.9 L878.4,661.7 L879.3,660.5 L880.1,659.3 L880.9,658.0 L881.7,656.8 L882.5,655.5 L883.3,654.2 L884.1,653.0 L884.8,651.7 L885.6,650.3 L886.3,649.0 L887.1,647.7 L887.8,646.4 L888.5,645.0 L889.2,643.7 L889.9,642.4 L890.7,641.0 L891.4,639.7 L892.1,638.3 L892.8,637.0 L893.5,635.7 L894.3,634.3 L895.0,633.0 L895.8,631.7 L896.5,630.4 L897.3,629.1 L898.1,627.8 L898.9,626.5 L899.7,625.3 L900.6,624.0 L901.4,622.8 L902.3,621.5 L903.2,620.3 L904.0,619.1 L904.9,617.9 L905.8,616.7 L906.7,615.5 L907.7,614.3 L908.6,613.2 L909.5,612.0 L910.5,610.8 L911.4,609.7 L912.4,608.5 L913.3,607.4 L914.3,606.2 L915.3,605.1 L916.3,603.9 L917.2,602.8 L918.2,601.7 L919.2,600.5 L920.2,599.4 L921.2,598.3 L922.2,597.2 L923.2,596.0 L924.1,594.9 L925.1,593.8 L926.1,592.6 L927.1,591.5 L928.1,590.4 L929.1,589.2 L930.0,588.1 L931.0,587.0 L932.0,585.8 L932.9,584.7 L933.9,583.5 L934.8,582.4 L935.7,581.2 L936.7,580.0 L937.6,578.8 L938.5,577.7 L939.4,576.5 L940.3,575.3 L941.2,574.1 L942.1,572.9 L942.9,571.7 L943.8,570.4 L944.6,569.2 L945.5,568.0 L946.3,566.7 L947.2,565.5 L948.0,564.3 L948.8,563.0 L949.6,561.8 L950.4,560.5 L951.2,559.2 L952.0,558.0 L952.8,556.7 L953.5,555.4 L954.3,554.1 L955.1,552.8 L955.8,551.5 L956.6,550.2 L957.3,548.9 L958.0,547.6 L958.7,546.3 L959.4,545.0 L960.2,543.7 L960.9,542.3 L961.5,541.0 L962.2,539.7 L962.9,538.4 L963.6,537.0 L964.2,535.7 L964.9,534.3 L965.6,533.0 L966.2,531.6 L966.8,530.3 L967.5,528.9 L968.1,527.5 L968.7,526.2 L969.3,524.8 L969.9,523.4 L970.6,522.1 L971.1,520.7 L971.7,519.3 L972.3,517.9 L972.9,516.5 L973.5,515.1 L974.0,513.8 L974.6,512.4 L975.2,511.0 L975.7,509.6 L976.2,508.2 L976.8,506.8 L977.3,505.4 L977.9,504.0 L978.4,502.6 L978.9,501.2 L979.5,499.8 L980.0,498.4 L980.5,497.0 L981.0,495.5 L981.5,494.1 L982.1,492.7 L982.6,491.3 L983.1,489.9 L983.6,488.5 L984.2,487.1 L984.7,485.7 L985.2,484.3 L985.7,482.9 L986.3,481.5 L986.8,480.1 L987.4,478.7 L987.9,477.3 L988.4,475.9 L989.0,474.5 L989.6,473.1 L990.1,471.7 L990.7,470.4 L991.3,469.0 L991.8,467.6 L992.4,466.2 L993.0,464.8 L993.6,463.5 L994.2,462.1 L994.8,460.7 L995.5,459.4 L996.1,458.0 L996.7,456.7 L997.4,455.3 L998.1,454.0 L998.7,452.6 L999.4,451.3 L1000.1,450.0 L1000.8,448.7 L1001.5,447.3 L1002.3,446.0 L1003.0,444.7 L1003.8,443.4 L1004.5,442.1 L1005.3,440.8 L1006.1,439.5 L1006.9,438.2 L1007.7,436.9 L1008.5,435.6 L1009.3,434.3 L1010.1,433.0 L1010.9,431.7 L1011.7,430.3 L1012.5,429.0 L1013.3,427.7 L1014.2,426.3 L1015.0,425.0 L1015.9,423.8 L1016.7,422.5 L1017.7,421.4 L1018.6,420.3 L1019.6,419.2 L1020.6,418.2 L1021.7,417.4 L1022.9,416.6 L1024.1,415.9 L1025.4,415.3 L1026.7,414.8 L1028.1,414.5 L1029.6,414.1 L1031.0,413.9 L1032.5,413.7 L1034.0,413.5 L1035.5,413.3 L1037.1,413.2 L1038.6,413.0 L1040.1,412.8 L1041.5,412.6 L1043.0,412.3 L1044.3,412.0 L1045.7,411.5 L1047.0,411.0 L1048.2,410.4 L1049.3,409.7 L1050.4,408.9 L1051.4,408.0 L1052.4,407.0 L1053.3,405.9 L1054.2,404.8 L1055.0,403.6 L1055.8,402.4 L1056.6,401.2 L1057.4,399.9 L1058.2,398.6 L1058.9,397.3 L1059.6,396.0 L1060.4,394.8 L1061.1,393.5 L1061.8,392.2 L1062.5,390.9 L1063.2,389.6 L1063.9,388.3 L1064.6,387.0 L1065.3,385.7 L1066.0,384.4 L1066.7,383.0 L1067.4,381.7 L1068.0,380.4 L1068.7,379.1 L1069.3,377.8 L1070.0,376.4 L1070.6,375.1 L1071.2,373.8 L1071.9,372.5 L1072.5,371.1 L1073.1,369.8 L1073.7,368.4 L1074.3,367.1 L1074.9,365.7 L1075.5,364.4 L1076.0,363.0 L1076.6,361.6 L1077.2,360.3 L1077.7,358.9 L1078.3,357.5 L1078.8,356.1 L1079.3,354.8 L1079.9,353.4 L1080.4,352.0 L1080.9,350.6 L1081.4,349.2 L1081.9,347.8 L1082.4,346.4 L1082.9,345.0 L1083.4,343.6 L1083.9,342.1 L1084.4,340.7 L1084.9,339.3 L1085.4,337.9 L1085.8,336.5 L1086.3,335.1 L1086.8,333.6 L1087.2,332.2 L1087.7,330.8 L1088.2,329.3 L1088.6,327.9 L1089.1,326.5 L1089.6,325.1 L1090.0,323.6 L1090.5,322.2 L1091.0,320.8 L1091.4,319.3 L1091.9,317.9 L1092.3,316.5 L1092.8,315.0 L1093.3,313.6 L1093.7,312.2 L1094.2,310.7 L1094.7,309.3 L1095.1,307.9 L1095.6,306.4 L1096.1,305.0 L1096.5,303.6 L1097.0,302.1 L1097.5,300.7 L1098.0,299.3 L1098.5,297.9 L1099.0,296.5 L1099.5,295.0 L1100.0,293.6 L1100.5,292.2 L1101.0,290.8 L1101.5,289.4 L1102.0,288.0 L1102.5,286.6 L1103.1,285.2 L1103.6,283.8 L1104.2,282.4 L1104.8,281.0 L1105.4,279.6 L1106.0,278.1 L1106.7,276.7 L1107.3,275.3 L1108.1,273.8 L1108.8,272.4 L1109.6,270.9 L1110.5,269.5 L1111.3,268.1 L1112.2,266.7 L1113.2,265.5 L1114.1,264.3 L1115.1,263.2 L1116.1,262.3 L1117.1,261.5 L1118.1,260.9 L1119.2,260.5 L1120.3,260.4 L1121.3,260.4 L1122.4,260.6 L1123.5,261.0 L1124.6,261.5 L1125.7,262.2 L1126.8,263.0 L1127.9,263.9 L1128.9,265.0 L1130.0,266.1 L1131.0,267.3 L1132.0,268.6 L1133.1,269.9 L1134.0,271.3 L1135.0,272.6 L1135.9,274.0 L1136.8,275.4 L1137.7,276.8 L1138.5,278.2 L1139.3,279.5 L1140.1,280.9 L1140.8,282.3 L1141.6,283.7 L1142.3,285.1 L1143.0,286.5 L1143.6,287.9 L1144.3,289.3 L1144.9,290.7 L1145.5,292.1 L1146.1,293.5 L1146.7,294.9 L1147.2,296.3 L1147.8,297.7 L1148.3,299.1 L1148.8,300.5 L1149.3,301.9 L1149.8,303.3 L1150.3,304.7 L1150.8,306.1 L1151.2,307.5 L1151.7,309.0 L1152.1,310.4 L1152.6,311.8 L1153.0,313.2 L1153.4,314.6 L1153.9,316.0 L1154.3,317.4 L1154.7,318.8 L1155.1,320.2 L1155.5,321.6 L1156.0,323.0 L1156.4,324.4 L1156.8,325.8 L1157.3,327.3 L1157.7,328.7 L1158.1,330.1 L1158.6,331.5 L1159.0,332.9 L1159.5,334.3 L1160.0,335.7 L1160.5,337.1 L1161.0,338.5 L1161.5,339.9 L1162.0,341.3 L1162.5,342.6 L1163.1,344.0 L1163.6,345.4 L1164.2,346.8 L1164.8,348.2 L1165.4,349.6 L1166.1,351.0 L1166.7,352.4 L1167.3,353.8 L1168.0,355.2 L1168.7,356.7 L1169.3,358.1 L1170.0,359.6 L1170.7,361.1 L1171.4,362.6 L1172.1,364.2 L1172.8,365.7 L1173.5,367.2 L1174.2,368.8 L1174.9,370.2 L1175.7,371.7 L1176.5,373.0 L1177.4,374.4 L1178.2,375.6 L1179.2,376.7 L1180.2,377.7 L1181.2,378.6 L1182.3,379.4 L1183.4,380.0 L1184.6,380.4 L1185.9,380.7 L1187.2,380.8 L1188.6,380.8 L1190.0,380.7 L1191.3,380.4 L1192.7,380.0 L1194.0,379.5 L1195.2,378.9 L1196.4,378.3 L1197.6,377.5 L1198.6,376.7 L1199.7,375.7 L1200.7,374.8 L1201.6,373.7 L1202.6,372.6 L1203.4,371.4 L1204.3,370.2 L1205.1,368.9 L1205.9,367.6 L1206.6,366.2 L1207.4,364.8 L1208.1,363.4 L1208.8,362.0 L1209.5,360.5 L1210.1,359.0 L1210.8,357.5 L1211.5,356.1 L1212.1,354.6 L1212.7,353.1 L1213.4,351.6 L1214.0,350.1 L1214.7,348.7 L1215.3,347.2 L1216.0,345.8 L1216.7,344.5 L1217.4,343.1 L1218.2,341.8 L1218.9,340.5 L1219.7,339.2 L1220.6,338.0 L1221.5,336.8 L1222.4,335.6 L1223.4,334.5 L1224.5,333.4 L1225.6,332.3 L1226.8,331.3 L1228.0,330.4 L1229.3,329.5 L1230.6,328.7 L1232.0,328.0 L1233.3,327.4 L1234.7,326.9 L1236.0,326.6 L1237.4,326.4 L1238.7,326.4 L1239.9,326.5 L1241.1,326.9 L1242.3,327.5 L1243.4,328.2 L1244.5,329.0 L1245.5,330.0 L1246.5,331.1 L1247.4,332.3 L1248.3,333.6 L1249.1,335.0 L1249.9,336.4 L1250.7,337.8 L1251.4,339.2 L1252.1,340.7 L1252.7,342.1 L1253.3,343.6 L1253.9,345.1 L1254.5,346.5 L1255.0,348.0 L1255.5,349.4 L1256.0,350.9 L1256.5,352.4 L1256.9,353.8 L1257.4,355.3 L1257.8,356.7 L1258.3,358.2 L1258.7,359.7 L1259.1,361.1 L1259.5,362.6 L1259.9,364.0 L1260.3,365.5 L1260.7,366.9 L1261.1,368.4 L1261.5,369.8 L1261.8,371.3 L1262.2,372.7 L1262.6,374.2 L1262.9,375.6 L1263.3,377.1 L1263.6,378.5 L1264.0,380.0 L1264.3,381.4 L1264.7,382.9 L1265.0,384.3 L1265.4,385.8 L1265.7,387.2 L1266.0,388.7 L1266.4,390.1 L1266.7,391.6 L1267.0,393.0 L1267.3,394.5 L1267.7,395.9 L1268.0,397.4 L1268.3,398.8 L1268.6,400.3 L1268.9,401.7 L1269.3,403.2 L1269.6,404.6 L1269.9,406.1 L1270.2,407.6 L1270.5,409.0 L1270.8,410.5 L1271.1,411.9 L1271.4,413.4 L1271.7,414.9 L1272.0,416.3 L1272.3,417.8 L1272.6,419.3 L1272.9,420.7 L1273.2,422.2 L1273.5,423.7 L1273.8,425.1 L1274.1,426.6 L1274.4,428.1 L1274.7,429.5 L1275.0,431.0 L1275.3,432.5 L1275.6,433.9 L1275.9,435.4 L1276.2,436.9 L1276.5,438.3 L1276.8,439.8 L1277.0,441.3 L1277.3,442.8 L1277.6,444.2 L1277.9,445.7 L1278.2,447.2 L1278.5,448.7 L1278.7,450.1 L1279.0,451.6 L1279.3,453.1 L1279.6,454.6 L1279.9,456.0 L1280.1,457.5 L1280.4,459.0 L1280.7,460.5 L1281.0,462.0 L1281.2,463.4 L1281.5,464.9 L1281.8,466.4 L1282.1,467.9 L1282.3,469.4 L1282.6,470.8 L1282.9,472.3 L1283.2,473.8 L1283.4,475.3 L1283.7,476.8 L1284.0,478.2 L1284.2,479.7 L1284.5,481.2 L1284.8,482.7 L1285.0,484.2 L1285.3,485.7 L1285.6,487.1 L1285.8,488.6 L1286.1,490.1 L1286.4,491.6 L1286.6,493.1 L1286.9,494.5 L1287.2,496.0 L1287.4,497.5 L1287.7,499.0 L1288.0,500.5 L1288.2,502.0 L1288.5,503.4 L1288.7,504.9 L1289.0,506.4 L1289.3,507.9 L1289.5,509.4 L1289.8,510.9 L1290.1,512.3 L1290.3,513.8 L1290.6,515.3 L1290.9,516.8 L1291.1,518.3 L1291.4,519.8 L1291.6,521.2 L1291.9,522.7 L1292.2,524.2 L1292.4,525.7 L1292.7,527.2 L1293.0,528.7 L1293.2,530.1 L1293.5,531.6 L1293.8,533.1 L1294.0,534.6 L1294.3,536.1 L1294.6,537.5 L1294.8,539.0 L1295.1,540.5 L1295.4,542.0 L1295.6,543.5 L1295.9,544.9 L1296.2,546.4 L1296.4,547.9 L1296.7,549.4 L1297.0,550.9 L1297.2,552.3 L1297.5,553.8 L1297.8,555.3 L1298.0,556.8 L1298.3,558.2 L1298.6,559.7 L1298.9,561.2 L1299.1,562.7 L1299.4,564.1 L1299.7,565.6 L1299.9,567.1 L1300.2,568.6 L1300.5,570.0 L1300.8,571.5 L1301.1,573.0 L1301.3,574.5 L1301.6,575.9 L1301.9,577.4 L1302.2,578.9 L1302.4,580.3 L1302.7,581.8 L1303.0,583.3 L1303.3,584.7 L1303.6,586.2 L1303.9,587.7 L1304.2,589.1 L1304.4,590.6 L1304.7,592.1 L1305.0,593.5 L1305.3,595.0 L1305.6,596.4 L1305.9,597.9 L1306.2,599.4 L1306.5,600.8 L1306.8,602.3 L1307.1,603.7 L1307.4,605.2 L1307.7,606.7 L1308.0,608.1 L1308.3,609.6 L1308.6,611.0 L1308.9,612.5 L1309.2,613.9 L1309.5,615.4 L1309.8,616.8 L1310.1,618.3 L1310.4,619.7 L1310.7,621.2 L1311.1,622.6 L1311.4,624.1 L1311.7,625.5 L1312.0,627.0 L1312.4,628.4 L1312.7,629.9 L1313.0,631.3 L1313.3,632.8 L1313.7,634.2 L1314.0,635.7 L1314.4,637.1 L1314.7,638.6 L1315.1,640.0 L1315.4,641.4 L1315.8,642.9 L1316.1,644.3 L1316.5,645.8 L1316.8,647.2 L1317.2,648.7 L1317.6,650.1 L1317.9,651.5 L1318.3,653.0 L1318.7,654.4 L1319.1,655.9 L1319.5,657.3 L1319.8,658.7 L1320.2,660.2 L1320.6,661.6 L1321.0,663.1 L1321.4,664.5 L1321.8,665.9 L1322.3,667.4 L1322.7,668.8 L1323.1,670.2 L1323.5,671.7 L1323.9,673.1 L1324.4,674.6 L1324.8,676.0 L1325.3,677.4 L1325.7,678.9 L1326.2,680.3 L1326.6,681.7 L1327.1,683.2 L1327.5,684.6 L1328.0,686.0 L1328.5,687.5 L1329.0,688.9 L1329.5,690.3 L1329.9,691.8 L1330.4,693.2 L1330.9,694.6 L1331.4,696.1 L1332.0,697.5 L1332.5,699.0 L1333.0,700.4 L1333.5,701.8 L1334.1,703.3 L1334.6,704.7 L1335.1,706.1 L1335.7,707.6 L1336.3,709.0 L1336.8,710.4 L1337.4,711.9 L1338.0,713.3 L1338.5,714.7 L1339.1,716.2 L1339.7,717.6 L1340.3,719.0 L1340.9,720.4 L1341.6,721.9 L1342.2,723.3 L1342.8,724.7 L1343.5,726.1 L1344.1,727.5 L1344.8,728.8 L1345.5,730.2 L1346.2,731.6 L1346.9,732.9 L1347.6,734.3 L1348.3,735.6 L1349.1,736.9 L1349.8,738.3 L1350.6,739.6 L1351.4,740.8 L1352.2,742.1 L1353.0,743.4 L1353.8,744.6 L1354.6,745.8 L1355.5,747.0 L1356.3,748.2 L1357.2,749.4 L1358.1,750.6 L1359.0,751.7 L1360.0,752.8 L1360.9,753.9 L1361.9,755.0 L1362.9,756.0 L1363.9,757.0 L1364.9,758.0 L1365.9,759.0 L1367.0,760.0 L1368.1,760.9 L1369.2,761.8 L1370.3,762.7 L1371.4,763.5 L1372.6,764.4 L1373.8,765.1 L1375.0,765.9 L1376.2,766.6 L1377.4,767.4 L1378.7,768.0 L1380.0,768.7 L1381.3,769.3 L1382.7,769.9 L1384.0,770.4 L1385.4,770.9 L1386.8,771.4 L1388.2,771.9 L1389.7,772.3 L1391.1,772.7 L1392.6,773.1 L1394.1,773.5 L1395.6,773.8 L1397.1,774.1 L1398.6,774.4 L1400.1,774.7 L1401.7,775.0 L1403.2,775.2 L1404.7,775.5 L1406.3,775.7 L1407.8,775.9 L1409.4,776.1 L1410.9,776.3 L1412.5,776.5 L1414.0,776.7 L1415.6,776.9 L1417.1,777.0 L1418.7,777.2 L1420.2,777.4 L1421.7,777.5 L1423.2,777.7 L1424.8,777.9 L1426.3,778.0 L1427.8,778.2 L1429.3,778.3 L1430.8,778.5 L1432.3,778.6 L1433.8,778.7 L1435.2,778.9 L1436.7,779.0 L1438.2,779.2 L1439.7,779.3 L1441.2,779.4 L1442.6,779.5 L1444.1,779.7 L1445.6,779.8 L1447.1,779.9 L1448.5,780.0 L1450.0,780.1 L1451.5,780.2 L1453.0,780.3 L1454.4,780.5 L1455.9,780.6 L1457.4,780.7 L1458.8,780.8 L1460.3,780.9 L1461.8,781.0 L1463.3,781.1 L1464.8,781.1 L1466.2,781.2 L1467.7,781.3 L1469.2,781.4 L1470.7,781.5 L1472.2,781.6 L1473.6,781.7 L1475.1,781.8 L1476.6,781.8 L1478.1,781.9 L1479.6,782.0 L1481.1,782.1 L1482.6,782.1 L1484.1,782.2 L1485.6,782.3 L1487.1,782.4 L1488.5,782.4 L1490.0,782.5 L1491.5,782.6 L1493.0,782.6 L1494.5,782.7 L1496.0,782.7 L1497.5,782.8 L1499.0,782.9 L1500.5,782.9 L1502.0,783.0 L1503.5,783.0 L1505.0,783.1 L1506.5,783.1 L1508.0,783.2 L1509.5,783.2 L1511.0,783.3 L1512.5,783.3 L1514.0,783.4 L1515.5,783.4 L1517.0,783.5 L1518.5,783.5 L1520.0,783.6 L1521.5,783.6 L1523.0,783.7 L1524.5,783.7 L1526.0,783.7 L1527.5,783.8 L1529.0,783.8 L1530.5,783.9 L1532.0,783.9 L1533.5,783.9 L1535.0,784.0 L1536.5,784.0 L1538.1,784.1 L1539.6,784.1 L1541.1,784.1 L1542.6,784.2 L1544.1,784.2 L1545.6,784.2 L1547.1,784.3 L1548.6,784.3 L1550.1,784.3 L1551.6,784.4 L1553.1,784.4 L1554.6,784.4 L1556.1,784.5 L1557.6,784.5 L1559.1,784.5 L1560.6,784.5 L1562.1,784.6 L1563.6,784.6 L1565.1,784.6 L1566.6,784.7 L1568.1,784.7 L1569.6,784.7 L1571.1,784.7 L1572.6,784.8 L1574.1,784.8 L1575.6,784.8 L1577.1,784.8 L1578.6,784.9 L1580.1,784.9 L1581.6,784.9 L1583.1,784.9 L1584.6,784.9 L1586.1,785.0 L1587.6,785.0 L1589.1,785.0 L1590.6,785.0 L1592.1,785.1 L1593.6,785.1 L1595.1,785.1 L1596.6,785.1 L1598.1,785.1 L1599.6,785.1 L1601.1,785.2 L1602.6,785.2 L1604.1,785.2 L1605.6,785.2 L1607.1,785.2 L1608.6,785.2 L1610.1,785.3 L1611.6,785.3 L1613.1,785.3 L1614.6,785.3 L1616.1,785.3 L1617.6,785.3 L1619.1,785.3 L1620.6,785.3 L1622.1,785.4 L1623.6,785.4 L1625.1,785.4 L1626.6,785.4 L1628.1,785.4 L1629.6,785.4 L1631.1,785.4 L1632.6,785.4 L1634.1,785.4 L1635.6,785.5 L1637.1,785.5 L1638.6,785.5 L1640.1,785.5 L1641.6,785.5 L1643.1,785.5 L1644.6,785.5 L1646.1,785.5 L1647.6,785.5 L1649.1,785.5 L1650.6,785.5 L1652.1,785.5 L1653.6,785.5 L1655.1,785.5 L1656.6,785.6 L1658.1,785.6 L1659.6,785.6 L1661.1,785.6 L1662.6,785.6 L1664.1,785.6 L1665.6,785.6 L1667.1,785.6 L1668.6,785.6 L1670.1,785.6 L1671.6,785.6 L1673.1,785.6 L1674.6,785.6 L1676.1,785.6 L1677.6,785.6 L1679.1,785.6 L1680.6,785.6 L1682.1,785.6 L1683.6,785.6 L1685.1,785.6 L1686.6,785.6 L1688.1,785.6 L1689.6,785.6 L1691.1,785.6 L1692.6,785.6 L1694.1,785.6 L1695.6,785.6 L1697.1,785.6 L1698.6,785.6 L1700.1,785.6 L1701.6,785.6 L1703.1,785.6 L1704.6,785.6 L1706.1,785.6 L1707.6,785.6 L1709.1,785.6 L1710.6,785.6 L1712.1,785.6 L1713.6,785.6 L1715.1,785.6 L1716.6,785.6 L1718.1,785.6 L1719.6,785.6 L1721.1,785.6 L1722.6,785.6 L1724.1,785.6 L1725.6,785.6 L1727.1,785.6 L1728.6,785.6 L1730.1,785.6 L1731.6,785.6 L1733.1,785.6 L1734.6,785.6 L1736.1,785.6 L1737.6,785.6 L1739.1,785.6 L1740.5,785.6 L1742.0,785.6 L1743.5,785.6 L1745.0,785.6 L1746.5,785.6 L1748.0,785.6 L1749.5,785.6 L1751.0,785.6 L1752.5,785.6 L1754.0,785.6 L1755.5,785.6 L1757.0,785.5 L1758.5,785.5 L1760.0,785.5 L1761.5,785.5 L1763.0,785.5 L1764.5,785.5 L1766.0,785.5 L1767.5,785.5 L1769.0,785.5 L1770.5,785.5 L1772.0,785.5 L1773.5,785.5 L1775.0,785.5 L1776.5,785.5 L1778.0,785.5 L1779.5,785.5 L1781.0,785.5 L1782.5,785.5 L1784.0,785.5 L1785.5,785.5 L1787.0,785.5 L1788.5,785.5 L1790.0,785.5 L1791.5,785.5 L1793.0,785.5 L1794.5,785.5 L1796.0,785.5 L1797.5,785.5 L1799.0,785.5 L1800.5,785.5 L1802.0,785.5 L1803.5,785.5 L1805.0,785.5 L1806.5,785.5 L1808.0,785.5 L1809.5,785.5 L1811.0,785.5 L1812.5,785.5 L1814.0,785.5 L1815.5,785.5 L1817.0,785.5 L1818.5,785.5 L1820.0,785.5 L1821.5,785.5 L1823.0,785.5 L1824.5,785.5 L1826.0,785.5 L1827.5,785.5 L1829.0,785.5 L1830.5,785.5 L1832.0,785.5 L1833.5,785.5 L1835.0,785.6 L1836.5,785.6 L1838.0,785.6 L1839.5,785.6 L1841.0,785.6 L1842.5,785.6 L1844.0,785.6 L1845.5,785.6 L1847.0,785.6 L1848.5,785.6 L1850.0,785.6 L1851.5,785.6 L1853.0,785.6 L1854.5,785.6 L1856.0,785.6 L1857.5,785.6 L1859.0,785.7 L1860.5,785.7 L1862.0,785.7 L1863.5,785.7 L1865.0,785.7 L1866.5,785.7 L1868.0,785.7 L1869.5,785.7 L1871.0,785.7 L1872.5,785.7 L1874.0,785.8 L1875.5,785.8 L1877.0,785.8 L1878.5,785.8 L1880.0,785.8 L1881.5,785.8 L1883.0,785.8 L1884.5,785.8 L1886.0,785.9 L1887.5,785.9 L1889.0,785.9 L1890.5,785.9 L1892.0,785.9 L1893.5,785.9 L1895.0,785.9 L1896.5,786.0 L1898.0,786.0 L1899.5,786.0 L1901.0,786.0 L1902.5,786.0 L1904.0,786.1 L1905.5,786.1 L1907.0,786.1 L1908.5,786.1 L1910.0,786.1 L1911.5,786.1 L1913.0,786.2 L1914.5,786.2 L1916.0,786.2 L1917.5,786.2 L1919.0,786.3" stroke="#000000" stroke-width="6.2" stroke-dasharray="12 7"/>
<path d="M248.0,729.5 L249.5,729.4 L251.0,729.2 L252.5,729.1 L254.0,728.9 L255.4,728.7 L256.9,728.6 L258.4,728.4 L259.9,728.2 L261.4,728.0 L262.9,727.8 L264.4,727.6 L265.9,727.4 L267.4,727.2 L268.8,727.0 L270.3,726.8 L271.8,726.6 L273.3,726.3 L274.8,726.1 L276.3,725.8 L277.7,725.6 L279.2,725.3 L280.7,725.1 L282.2,724.8 L283.7,724.5 L285.1,724.2 L286.6,723.9 L288.1,723.6 L289.5,723.3 L291.0,723.0 L292.5,722.7 L293.9,722.4 L295.4,722.0 L296.9,721.7 L298.3,721.3 L299.8,721.0 L301.2,720.6 L302.7,720.2 L304.1,719.8 L305.6,719.4 L307.0,719.0 L308.4,718.6 L309.9,718.2 L311.3,717.8 L312.8,717.3 L314.2,716.9 L315.6,716.4 L317.0,716.0 L318.4,715.5 L319.9,715.0 L321.3,714.5 L322.7,714.0 L324.1,713.5 L325.5,713.0 L326.9,712.4 L328.3,711.9 L329.7,711.3 L331.1,710.8 L332.4,710.2 L333.8,709.6 L335.2,709.0 L336.6,708.4 L338.0,707.8 L339.3,707.2 L340.7,706.6 L342.1,706.0 L343.5,705.4 L344.8,704.8 L346.2,704.2 L347.6,703.6 L348.9,702.9 L350.3,702.3 L351.6,701.7 L353.0,701.0 L354.4,700.4 L355.7,699.8 L357.1,699.1 L358.5,698.5 L359.8,697.9 L361.2,697.2 L362.6,696.6 L363.9,696.0 L365.3,695.4 L366.7,694.7 L368.0,694.1 L369.4,693.5 L370.8,692.9 L372.2,692.3 L373.5,691.7 L374.9,691.1 L376.3,690.5 L377.7,689.9 L379.1,689.4 L380.5,688.8 L381.9,688.2 L383.3,687.7 L384.7,687.1 L386.1,686.6 L387.5,686.1 L388.9,685.6 L390.3,685.0 L391.7,684.6 L393.2,684.1 L394.6,683.6 L396.0,683.1 L397.5,682.7 L398.9,682.3 L400.3,681.8 L401.8,681.4 L403.3,681.0 L404.7,680.7 L406.2,680.3 L407.7,679.9 L409.1,679.6 L410.6,679.3 L412.1,679.0 L413.6,678.7 L415.0,678.4 L416.5,678.1 L418.0,677.9 L419.5,677.7 L421.0,677.5 L422.5,677.3 L424.0,677.1 L425.5,676.9 L427.0,676.8 L428.5,676.7 L429.9,676.6 L431.4,676.5 L432.9,676.4 L434.4,676.4 L435.9,676.4 L437.4,676.4 L438.9,676.4 L440.4,676.4 L441.8,676.5 L443.3,676.6 L444.8,676.7 L446.3,676.8 L447.7,677.0 L449.2,677.1 L450.7,677.3 L452.1,677.5 L453.6,677.8 L455.0,678.0 L456.5,678.3 L457.9,678.6 L459.3,679.0 L460.8,679.3 L462.2,679.7 L463.6,680.1 L465.0,680.5 L466.4,681.0 L467.8,681.5 L469.2,682.0 L470.6,682.5 L471.9,683.1 L473.3,683.7 L474.7,684.3 L476.0,685.0 L477.3,685.6 L478.7,686.3 L480.0,687.1 L481.3,687.8 L482.6,688.5 L483.9,689.3 L485.2,690.1 L486.5,690.9 L487.8,691.7 L489.1,692.6 L490.4,693.4 L491.7,694.2 L493.0,695.1 L494.2,696.0 L495.5,696.8 L496.8,697.7 L498.1,698.6 L499.3,699.5 L500.6,700.3 L501.9,701.2 L503.1,702.1 L504.4,702.9 L505.7,703.8 L506.9,704.7 L508.2,705.5 L509.5,706.3 L510.7,707.2 L512.0,708.0 L513.3,708.8 L514.6,709.6 L515.9,710.3 L517.1,711.1 L518.4,711.8 L519.7,712.5 L521.0,713.2 L522.3,713.9 L523.6,714.6 L525.0,715.3 L526.3,716.0 L527.6,716.6 L528.9,717.3 L530.2,717.9 L531.5,718.6 L532.9,719.2 L534.2,719.9 L535.5,720.5 L536.9,721.2 L538.2,721.8 L539.5,722.5 L540.9,723.1 L542.2,723.8 L543.5,724.5 L544.9,725.1 L546.2,725.8 L547.6,726.5 L548.9,727.1 L550.3,727.8 L551.7,728.5 L553.0,729.1 L554.4,729.8 L555.8,730.4 L557.1,731.1 L558.5,731.7 L559.9,732.3 L561.3,732.9 L562.7,733.5 L564.0,734.1 L565.4,734.6 L566.8,735.2 L568.2,735.7 L569.7,736.2 L571.1,736.7 L572.5,737.1 L573.9,737.6 L575.4,738.0 L576.8,738.4 L578.2,738.7 L579.7,739.0 L581.1,739.3 L582.6,739.6 L584.1,739.8 L585.5,740.0 L587.0,740.2 L588.5,740.3 L590.0,740.4 L591.5,740.5 L593.0,740.5 L594.5,740.5 L596.0,740.4 L597.5,740.3 L599.0,740.2 L600.6,740.1 L602.1,740.0 L603.6,739.8 L605.2,739.6 L606.7,739.4 L608.2,739.2 L609.7,739.0 L611.3,738.8 L612.8,738.6 L614.3,738.4 L615.8,738.2 L617.4,738.0 L618.9,737.8 L620.4,737.7 L621.9,737.5 L623.4,737.3 L624.9,737.2 L626.4,737.0 L627.9,736.9 L629.4,736.7 L630.9,736.6 L632.4,736.4 L633.9,736.3 L635.4,736.2 L636.9,736.1 L638.3,735.9 L639.8,735.8 L641.3,735.7 L642.8,735.6 L644.3,735.5 L645.7,735.5 L647.2,735.4 L648.7,735.3 L650.2,735.2 L651.6,735.1 L653.1,735.1 L654.6,735.0 L656.1,735.0 L657.5,734.9 L659.0,734.8 L660.5,734.8 L662.0,734.8 L663.4,734.7 L664.9,734.7 L666.4,734.6 L667.8,734.6 L669.3,734.6 L670.8,734.6 L672.3,734.5 L673.8,734.5 L675.2,734.5 L676.7,734.5 L678.2,734.5 L679.7,734.5 L681.2,734.5 L682.7,734.4 L684.1,734.4 L685.6,734.4 L687.1,734.4 L688.6,734.4 L690.1,734.5 L691.6,734.5 L693.1,734.5 L694.6,734.5 L696.1,734.5 L697.6,734.5 L699.2,734.5 L700.7,734.5 L702.2,734.5 L703.7,734.5 L705.2,734.5 L706.7,734.5 L708.3,734.5 L709.8,734.6 L711.3,734.6 L712.8,734.6 L714.3,734.5 L715.9,734.5 L717.4,734.5 L718.9,734.5 L720.4,734.5 L722.0,734.5 L723.5,734.5 L725.0,734.4 L726.5,734.4 L728.0,734.4 L729.6,734.3 L731.1,734.3 L732.6,734.2 L734.1,734.1 L735.6,734.1 L737.1,734.0 L738.7,733.9 L740.2,733.8 L741.7,733.7 L743.2,733.6 L744.7,733.5 L746.2,733.4 L747.7,733.3 L749.2,733.1 L750.7,733.0 L752.2,732.8 L753.7,732.6 L755.1,732.5 L756.6,732.3 L758.1,732.1 L759.6,731.8 L761.0,731.6 L762.5,731.4 L764.0,731.1 L765.4,730.9 L766.9,730.6 L768.4,730.3 L769.8,730.0 L771.2,729.7 L772.7,729.4 L774.1,729.1 L775.5,728.7 L777.0,728.3 L778.4,728.0 L779.8,727.6 L781.2,727.2 L782.6,726.7 L784.0,726.3 L785.4,725.8 L786.8,725.4 L788.2,724.9 L789.5,724.4 L790.9,723.8 L792.3,723.3 L793.6,722.7 L795.0,722.2 L796.3,721.6 L797.6,720.9 L798.9,720.3 L800.3,719.7 L801.6,719.0 L802.9,718.3 L804.2,717.6 L805.5,716.9 L806.7,716.1 L808.0,715.3 L809.3,714.6 L810.5,713.8 L811.8,712.9 L813.0,712.1 L814.3,711.2 L815.5,710.4 L816.7,709.5 L817.9,708.6 L819.1,707.7 L820.3,706.8 L821.5,705.8 L822.7,704.9 L823.9,703.9 L825.0,702.9 L826.2,701.9 L827.3,700.9 L828.5,699.9 L829.6,698.9 L830.7,697.8 L831.8,696.8 L833.0,695.7 L834.1,694.6 L835.2,693.6 L836.2,692.5 L837.3,691.4 L838.4,690.3 L839.5,689.1 L840.5,688.0 L841.6,686.9 L842.6,685.8 L843.6,684.6 L844.7,683.5 L845.7,682.3 L846.7,681.2 L847.7,680.0 L848.7,678.8 L849.7,677.7 L850.6,676.5 L851.6,675.3 L852.6,674.1 L853.5,672.9 L854.5,671.8 L855.4,670.6 L856.3,669.4 L857.3,668.2 L858.2,667.0 L859.1,665.8 L860.0,664.6 L860.9,663.4 L861.8,662.2 L862.7,661.0 L863.6,659.8 L864.5,658.6 L865.3,657.4 L866.2,656.2 L867.1,655.0 L867.9,653.8 L868.8,652.6 L869.7,651.4 L870.5,650.2 L871.4,649.0 L872.2,647.8 L873.1,646.6 L874.0,645.4 L874.8,644.2 L875.7,643.0 L876.5,641.8 L877.4,640.6 L878.2,639.4 L879.1,638.2 L880.0,637.1 L880.8,635.9 L881.7,634.7 L882.5,633.5 L883.4,632.3 L884.3,631.1 L885.2,629.9 L886.1,628.8 L886.9,627.6 L887.8,626.4 L888.7,625.2 L889.6,624.1 L890.5,622.9 L891.4,621.7 L892.4,620.6 L893.3,619.4 L894.2,618.2 L895.2,617.1 L896.1,615.9 L897.1,614.8 L898.0,613.7 L899.0,612.5 L900.0,611.4 L901.0,610.2 L902.0,609.1 L903.0,608.0 L904.0,606.9 L905.0,605.8 L906.0,604.6 L907.1,603.5 L908.1,602.4 L909.1,601.3 L910.2,600.2 L911.2,599.1 L912.3,598.0 L913.3,596.8 L914.3,595.7 L915.4,594.6 L916.4,593.5 L917.5,592.4 L918.5,591.3 L919.5,590.2 L920.6,589.0 L921.6,587.9 L922.6,586.8 L923.6,585.6 L924.7,584.5 L925.7,583.4 L926.7,582.2 L927.7,581.1 L928.6,579.9 L929.6,578.8 L930.6,577.6 L931.5,576.4 L932.5,575.3 L933.4,574.1 L934.3,572.9 L935.2,571.7 L936.1,570.5 L937.0,569.3 L937.8,568.0 L938.7,566.8 L939.5,565.6 L940.3,564.3 L941.1,563.1 L941.9,561.8 L942.7,560.6 L943.4,559.3 L944.2,558.0 L944.9,556.7 L945.6,555.4 L946.4,554.1 L947.0,552.8 L947.7,551.5 L948.4,550.2 L949.1,548.9 L949.7,547.5 L950.4,546.2 L951.0,544.8 L951.6,543.5 L952.2,542.1 L952.8,540.8 L953.4,539.4 L953.9,538.0 L954.5,536.6 L955.0,535.2 L955.6,533.8 L956.1,532.4 L956.6,531.0 L957.1,529.6 L957.6,528.2 L958.1,526.8 L958.6,525.4 L959.1,523.9 L959.5,522.5 L960.0,521.1 L960.4,519.6 L960.9,518.2 L961.3,516.7 L961.8,515.3 L962.2,513.8 L962.6,512.4 L963.0,510.9 L963.4,509.4 L963.8,508.0 L964.2,506.5 L964.7,505.1 L965.1,503.6 L965.5,502.1 L965.9,500.7 L966.3,499.2 L966.7,497.7 L967.1,496.2 L967.5,494.8 L967.9,493.3 L968.3,491.8 L968.7,490.4 L969.1,488.9 L969.5,487.4 L969.9,486.0 L970.3,484.5 L970.7,483.1 L971.2,481.6 L971.6,480.2 L972.0,478.7 L972.5,477.3 L972.9,475.8 L973.4,474.4 L973.8,473.0 L974.3,471.5 L974.8,470.1 L975.3,468.7 L975.8,467.3 L976.3,465.9 L976.8,464.4 L977.3,463.0 L977.9,461.7 L978.4,460.3 L979.0,458.9 L979.6,457.5 L980.2,456.1 L980.8,454.8 L981.4,453.4 L982.0,452.1 L982.6,450.7 L983.3,449.4 L984.0,448.1 L984.7,446.8 L985.4,445.5 L986.1,444.2 L986.8,442.9 L987.6,441.6 L988.4,440.3 L989.2,439.1 L990.0,437.8 L990.8,436.6 L991.7,435.4 L992.5,434.2 L993.4,433.0 L994.4,431.8 L995.3,430.7 L996.3,429.6 L997.3,428.6 L998.3,427.6 L999.4,426.6 L1000.5,425.7 L1001.7,424.9 L1002.9,424.1 L1004.1,423.4 L1005.4,422.8 L1006.7,422.3 L1008.0,421.8 L1009.4,421.4 L1010.9,421.2 L1012.4,421.0 L1013.9,420.8 L1015.5,420.8 L1017.0,420.7 L1018.6,420.7 L1020.2,420.6 L1021.8,420.6 L1023.4,420.5 L1025.0,420.4 L1026.5,420.2 L1028.0,419.9 L1029.5,419.6 L1030.9,419.1 L1032.3,418.6 L1033.6,417.9 L1034.9,417.1 L1036.1,416.3 L1037.3,415.3 L1038.4,414.3 L1039.4,413.2 L1040.5,412.1 L1041.4,410.9 L1042.3,409.7 L1043.2,408.5 L1044.0,407.2 L1044.8,405.9 L1045.5,404.5 L1046.2,403.2 L1046.9,401.8 L1047.5,400.4 L1048.2,399.0 L1048.7,397.6 L1049.3,396.2 L1049.9,394.8 L1050.4,393.3 L1051.0,391.9 L1051.5,390.5 L1052.1,389.1 L1052.6,387.6 L1053.1,386.2 L1053.6,384.8 L1054.1,383.4 L1054.7,381.9 L1055.2,380.5 L1055.7,379.1 L1056.1,377.7 L1056.6,376.3 L1057.1,374.8 L1057.6,373.4 L1058.1,372.0 L1058.5,370.6 L1059.0,369.2 L1059.5,367.8 L1059.9,366.4 L1060.4,364.9 L1060.9,363.5 L1061.3,362.1 L1061.8,360.7 L1062.2,359.3 L1062.6,357.9 L1063.1,356.5 L1063.5,355.1 L1064.0,353.6 L1064.4,352.2 L1064.9,350.8 L1065.3,349.4 L1065.7,348.0 L1066.2,346.6 L1066.6,345.2 L1067.0,343.7 L1067.5,342.3 L1067.9,340.9 L1068.3,339.5 L1068.8,338.1 L1069.2,336.7 L1069.6,335.3 L1070.1,333.8 L1070.5,332.4 L1070.9,331.0 L1071.4,329.6 L1071.8,328.2 L1072.3,326.8 L1072.7,325.3 L1073.2,323.9 L1073.6,322.5 L1074.1,321.1 L1074.5,319.6 L1075.0,318.2 L1075.4,316.8 L1075.9,315.4 L1076.4,313.9 L1076.8,312.5 L1077.3,311.1 L1077.8,309.7 L1078.3,308.2 L1078.7,306.8 L1079.2,305.4 L1079.7,303.9 L1080.2,302.5 L1080.7,301.0 L1081.2,299.6 L1081.7,298.2 L1082.3,296.7 L1082.8,295.3 L1083.3,293.8 L1083.9,292.4 L1084.4,290.9 L1084.9,289.5 L1085.5,288.0 L1086.1,286.6 L1086.6,285.1 L1087.2,283.6 L1087.8,282.2 L1088.4,280.7 L1089.0,279.3 L1089.6,277.8 L1090.2,276.3 L1090.8,274.8 L1091.5,273.4 L1092.1,271.9 L1092.8,270.5 L1093.5,269.1 L1094.2,267.8 L1094.9,266.5 L1095.7,265.3 L1096.5,264.1 L1097.4,263.1 L1098.3,262.1 L1099.2,261.2 L1100.3,260.5 L1101.3,259.9 L1102.4,259.4 L1103.6,259.0 L1104.9,258.9 L1106.2,258.8 L1107.6,259.0 L1109.0,259.2 L1110.3,259.7 L1111.6,260.2 L1112.8,260.9 L1113.9,261.7 L1115.0,262.6 L1116.0,263.6 L1116.9,264.7 L1117.8,265.9 L1118.6,267.2 L1119.4,268.6 L1120.1,270.0 L1120.8,271.5 L1121.4,273.0 L1122.1,274.6 L1122.6,276.2 L1123.2,277.8 L1123.7,279.4 L1124.2,281.1 L1124.7,282.7 L1125.2,284.4 L1125.6,286.0 L1126.1,287.6 L1126.6,289.2 L1127.1,290.7 L1127.5,292.3 L1128.0,293.8 L1128.5,295.3 L1128.9,296.7 L1129.4,298.2 L1129.9,299.6 L1130.3,301.0 L1130.8,302.4 L1131.3,303.8 L1131.7,305.2 L1132.2,306.6 L1132.7,307.9 L1133.1,309.3 L1133.6,310.7 L1134.0,312.0 L1134.5,313.4 L1134.9,314.7 L1135.4,316.1 L1135.8,317.5 L1136.3,318.8 L1136.7,320.2 L1137.1,321.6 L1137.6,323.0 L1138.0,324.4 L1138.4,325.8 L1138.9,327.3 L1139.3,328.7 L1139.7,330.1 L1140.2,331.5 L1140.6,333.0 L1141.0,334.4 L1141.4,335.8 L1141.9,337.3 L1142.3,338.7 L1142.7,340.2 L1143.2,341.6 L1143.6,343.0 L1144.1,344.5 L1144.5,345.9 L1144.9,347.4 L1145.4,348.8 L1145.9,350.2 L1146.3,351.7 L1146.8,353.1 L1147.3,354.5 L1147.8,355.9 L1148.3,357.4 L1148.8,358.8 L1149.4,360.2 L1150.0,361.6 L1150.6,363.0 L1151.2,364.4 L1151.9,365.8 L1152.7,367.2 L1153.5,368.6 L1154.3,370.0 L1155.2,371.4 L1156.1,372.8 L1157.1,374.1 L1158.1,375.4 L1159.2,376.7 L1160.3,377.8 L1161.5,378.9 L1162.6,379.8 L1163.8,380.6 L1165.0,381.2 L1166.2,381.6 L1167.4,381.8 L1168.6,381.8 L1169.9,381.6 L1171.1,381.1 L1172.2,380.5 L1173.4,379.7 L1174.6,378.8 L1175.7,377.7 L1176.8,376.6 L1177.8,375.3 L1178.9,374.0 L1179.8,372.6 L1180.7,371.3 L1181.6,369.9 L1182.4,368.5 L1183.2,367.1 L1183.9,365.7 L1184.6,364.4 L1185.2,363.0 L1185.8,361.6 L1186.4,360.2 L1186.9,358.9 L1187.5,357.5 L1188.0,356.1 L1188.5,354.7 L1189.0,353.4 L1189.4,352.0 L1189.9,350.6 L1190.4,349.2 L1190.9,347.9 L1191.3,346.5 L1191.8,345.1 L1192.3,343.7 L1192.9,342.3 L1193.4,341.0 L1194.0,339.6 L1194.6,338.2 L1195.3,336.8 L1195.9,335.4 L1196.7,334.0 L1197.4,332.6 L1198.3,331.2 L1199.1,329.8 L1200.1,328.4 L1201.1,327.0 L1202.1,325.6 L1203.2,324.2 L1204.3,322.9 L1205.5,321.6 L1206.7,320.4 L1208.0,319.2 L1209.2,318.1 L1210.5,317.1 L1211.8,316.2 L1213.0,315.4 L1214.3,314.8 L1215.6,314.3 L1216.8,313.9 L1218.1,313.7 L1219.3,313.7 L1220.5,313.9 L1221.6,314.2 L1222.7,314.8 L1223.8,315.5 L1224.8,316.3 L1225.9,317.3 L1226.8,318.4 L1227.8,319.6 L1228.6,320.9 L1229.5,322.3 L1230.3,323.8 L1231.1,325.3 L1231.9,326.9 L1232.6,328.4 L1233.3,330.0 L1233.9,331.6 L1234.5,333.2 L1235.1,334.7 L1235.6,336.3 L1236.1,337.8 L1236.6,339.3 L1237.0,340.8 L1237.4,342.3 L1237.8,343.8 L1238.2,345.3 L1238.6,346.7 L1238.9,348.2 L1239.3,349.6 L1239.6,351.1 L1239.9,352.5 L1240.2,353.9 L1240.5,355.4 L1240.8,356.8 L1241.1,358.2 L1241.3,359.6 L1241.6,361.1 L1241.9,362.5 L1242.2,363.9 L1242.6,365.3 L1242.9,366.8 L1243.2,368.2 L1243.5,369.6 L1243.9,371.0 L1244.2,372.5 L1244.6,373.9 L1244.9,375.3 L1245.3,376.8 L1245.7,378.2 L1246.0,379.7 L1246.4,381.1 L1246.8,382.6 L1247.2,384.0 L1247.5,385.4 L1247.9,386.9 L1248.3,388.3 L1248.7,389.8 L1249.0,391.2 L1249.4,392.7 L1249.8,394.2 L1250.1,395.6 L1250.5,397.1 L1250.9,398.5 L1251.2,400.0 L1251.6,401.4 L1251.9,402.9 L1252.3,404.4 L1252.6,405.8 L1253.0,407.3 L1253.3,408.8 L1253.6,410.2 L1254.0,411.7 L1254.3,413.2 L1254.6,414.6 L1255.0,416.1 L1255.3,417.6 L1255.6,419.0 L1255.9,420.5 L1256.3,422.0 L1256.6,423.5 L1256.9,424.9 L1257.2,426.4 L1257.5,427.9 L1257.8,429.4 L1258.1,430.8 L1258.4,432.3 L1258.7,433.8 L1259.0,435.3 L1259.3,436.7 L1259.6,438.2 L1259.9,439.7 L1260.2,441.2 L1260.5,442.7 L1260.8,444.1 L1261.1,445.6 L1261.4,447.1 L1261.6,448.6 L1261.9,450.0 L1262.2,451.5 L1262.5,453.0 L1262.8,454.5 L1263.0,456.0 L1263.3,457.5 L1263.6,458.9 L1263.9,460.4 L1264.2,461.9 L1264.4,463.4 L1264.7,464.9 L1265.0,466.3 L1265.2,467.8 L1265.5,469.3 L1265.8,470.8 L1266.1,472.3 L1266.3,473.7 L1266.6,475.2 L1266.9,476.7 L1267.1,478.2 L1267.4,479.7 L1267.7,481.1 L1267.9,482.6 L1268.2,484.1 L1268.5,485.6 L1268.7,487.0 L1269.0,488.5 L1269.3,490.0 L1269.5,491.5 L1269.8,492.9 L1270.1,494.4 L1270.3,495.9 L1270.6,497.4 L1270.9,498.8 L1271.2,500.3 L1271.4,501.8 L1271.7,503.3 L1272.0,504.7 L1272.2,506.2 L1272.5,507.7 L1272.8,509.1 L1273.0,510.6 L1273.3,512.1 L1273.6,513.5 L1273.8,515.0 L1274.1,516.5 L1274.4,518.0 L1274.6,519.4 L1274.9,520.9 L1275.2,522.4 L1275.4,523.8 L1275.7,525.3 L1276.0,526.8 L1276.2,528.2 L1276.5,529.7 L1276.8,531.2 L1277.1,532.6 L1277.3,534.1 L1277.6,535.6 L1277.9,537.0 L1278.1,538.5 L1278.4,540.0 L1278.7,541.4 L1278.9,542.9 L1279.2,544.4 L1279.5,545.8 L1279.8,547.3 L1280.0,548.8 L1280.3,550.2 L1280.6,551.7 L1280.8,553.2 L1281.1,554.6 L1281.4,556.1 L1281.7,557.5 L1281.9,559.0 L1282.2,560.5 L1282.5,561.9 L1282.8,563.4 L1283.0,564.9 L1283.3,566.3 L1283.6,567.8 L1283.9,569.3 L1284.1,570.7 L1284.4,572.2 L1284.7,573.7 L1285.0,575.1 L1285.2,576.6 L1285.5,578.1 L1285.8,579.5 L1286.1,581.0 L1286.4,582.5 L1286.6,583.9 L1286.9,585.4 L1287.2,586.9 L1287.5,588.3 L1287.7,589.8 L1288.0,591.3 L1288.3,592.7 L1288.6,594.2 L1288.9,595.7 L1289.2,597.1 L1289.4,598.6 L1289.7,600.1 L1290.0,601.5 L1290.3,603.0 L1290.6,604.5 L1290.9,605.9 L1291.1,607.4 L1291.4,608.9 L1291.7,610.4 L1292.0,611.8 L1292.3,613.3 L1292.6,614.8 L1292.9,616.2 L1293.1,617.7 L1293.4,619.2 L1293.7,620.7 L1294.0,622.1 L1294.3,623.6 L1294.6,625.1 L1294.9,626.6 L1295.2,628.0 L1295.5,629.5 L1295.8,631.0 L1296.1,632.5 L1296.4,633.9 L1296.6,635.4 L1296.9,636.9 L1297.2,638.4 L1297.5,639.9 L1297.8,641.3 L1298.1,642.8 L1298.4,644.3 L1298.7,645.8 L1299.0,647.3 L1299.3,648.7 L1299.6,650.2 L1299.9,651.7 L1300.2,653.2 L1300.5,654.7 L1300.8,656.2 L1301.1,657.6 L1301.4,659.1 L1301.7,660.6 L1302.0,662.1 L1302.4,663.6 L1302.7,665.1 L1303.0,666.6 L1303.3,668.1 L1303.6,669.5 L1303.9,671.0 L1304.2,672.5 L1304.5,674.0 L1304.9,675.5 L1305.2,677.0 L1305.5,678.5 L1305.9,680.0 L1306.2,681.4 L1306.5,682.9 L1306.9,684.4 L1307.2,685.9 L1307.6,687.3 L1308.0,688.8 L1308.4,690.3 L1308.7,691.7 L1309.1,693.2 L1309.5,694.7 L1309.9,696.1 L1310.3,697.6 L1310.8,699.0 L1311.2,700.5 L1311.6,701.9 L1312.1,703.3 L1312.5,704.8 L1313.0,706.2 L1313.5,707.6 L1314.0,709.0 L1314.5,710.5 L1315.0,711.9 L1315.5,713.3 L1316.0,714.7 L1316.6,716.1 L1317.1,717.4 L1317.7,718.8 L1318.3,720.2 L1318.9,721.6 L1319.5,722.9 L1320.1,724.3 L1320.8,725.6 L1321.4,726.9 L1322.1,728.3 L1322.8,729.6 L1323.5,730.9 L1324.2,732.2 L1324.9,733.5 L1325.7,734.8 L1326.5,736.1 L1327.2,737.3 L1328.1,738.6 L1328.9,739.9 L1329.7,741.1 L1330.6,742.3 L1331.4,743.5 L1332.3,744.8 L1333.3,746.0 L1334.2,747.1 L1335.1,748.3 L1336.1,749.5 L1337.1,750.6 L1338.0,751.7 L1339.1,752.8 L1340.1,753.9 L1341.1,755.0 L1342.2,756.1 L1343.2,757.1 L1344.3,758.1 L1345.4,759.1 L1346.5,760.1 L1347.7,761.1 L1348.8,762.0 L1350.0,763.0 L1351.1,763.9 L1352.3,764.8 L1353.5,765.6 L1354.7,766.4 L1355.9,767.3 L1357.2,768.0 L1358.4,768.8 L1359.7,769.5 L1361.0,770.2 L1362.3,770.9 L1363.6,771.6 L1364.9,772.2 L1366.2,772.8 L1367.5,773.4 L1368.9,773.9 L1370.2,774.4 L1371.6,774.9 L1373.0,775.4 L1374.4,775.8 L1375.8,776.2 L1377.2,776.6 L1378.6,777.0 L1380.0,777.3 L1381.4,777.7 L1382.9,778.0 L1384.3,778.2 L1385.8,778.5 L1387.2,778.8 L1388.7,779.0 L1390.2,779.2 L1391.7,779.4 L1393.2,779.6 L1394.7,779.7 L1396.2,779.9 L1397.7,780.0 L1399.2,780.1 L1400.7,780.2 L1402.2,780.3 L1403.8,780.4 L1405.3,780.4 L1406.8,780.5 L1408.4,780.5 L1409.9,780.6 L1411.5,780.6 L1413.0,780.6 L1414.5,780.6 L1416.1,780.6 L1417.6,780.6 L1419.2,780.6 L1420.8,780.6 L1422.3,780.6 L1423.9,780.6 L1425.4,780.6 L1427.0,780.6 L1428.5,780.6 L1430.1,780.5 L1431.6,780.5 L1433.2,780.5 L1434.7,780.5 L1436.3,780.5 L1437.8,780.4 L1439.4,780.4 L1440.9,780.4 L1442.4,780.4 L1444.0,780.4 L1445.5,780.4 L1447.0,780.4 L1448.6,780.4 L1450.1,780.5 L1451.6,780.5 L1453.1,780.5 L1454.6,780.5 L1456.1,780.6 L1457.7,780.6 L1459.2,780.6 L1460.7,780.7 L1462.2,780.7 L1463.7,780.8 L1465.2,780.8 L1466.7,780.9 L1468.2,780.9 L1469.7,781.0 L1471.2,781.0 L1472.6,781.1 L1474.1,781.2 L1475.6,781.2 L1477.1,781.3 L1478.6,781.4 L1480.1,781.4 L1481.6,781.5 L1483.0,781.6 L1484.5,781.6 L1486.0,781.7 L1487.5,781.8 L1489.0,781.9 L1490.4,781.9 L1491.9,782.0 L1493.4,782.1 L1494.9,782.2 L1496.4,782.2 L1497.8,782.3 L1499.3,782.4 L1500.8,782.5 L1502.3,782.6 L1503.7,782.6 L1505.2,782.7 L1506.7,782.8 L1508.2,782.8 L1509.6,782.9 L1511.1,783.0 L1512.6,783.1 L1514.1,783.1 L1515.6,783.2 L1517.0,783.3 L1518.5,783.3 L1520.0,783.4 L1521.5,783.4 L1523.0,783.5 L1524.4,783.5 L1525.9,783.6 L1527.4,783.6 L1528.9,783.7 L1530.4,783.7 L1531.9,783.8 L1533.4,783.8 L1534.9,783.9 L1536.3,783.9 L1537.8,783.9 L1539.3,784.0 L1540.8,784.0 L1542.3,784.0 L1543.8,784.1 L1545.3,784.1 L1546.8,784.1 L1548.3,784.1 L1549.8,784.2 L1551.3,784.2 L1552.8,784.2 L1554.3,784.2 L1555.8,784.3 L1557.3,784.3 L1558.8,784.3 L1560.3,784.3 L1561.8,784.3 L1563.3,784.3 L1564.8,784.3 L1566.3,784.3 L1567.8,784.4 L1569.3,784.4 L1570.8,784.4 L1572.3,784.4 L1573.8,784.4 L1575.3,784.4 L1576.8,784.4 L1578.4,784.4 L1579.9,784.4 L1581.4,784.4 L1582.9,784.4 L1584.4,784.4 L1585.9,784.4 L1587.4,784.4 L1588.9,784.4 L1590.4,784.4 L1591.9,784.4 L1593.4,784.4 L1594.9,784.4 L1596.4,784.4 L1597.9,784.4 L1599.5,784.4 L1601.0,784.4 L1602.5,784.4 L1604.0,784.4 L1605.5,784.4 L1607.0,784.4 L1608.5,784.4 L1610.0,784.4 L1611.5,784.4 L1613.0,784.4 L1614.5,784.4 L1616.0,784.4 L1617.5,784.4 L1619.0,784.4 L1620.5,784.4 L1622.0,784.4 L1623.6,784.4 L1625.1,784.4 L1626.6,784.4 L1628.1,784.4 L1629.6,784.4 L1631.1,784.4 L1632.6,784.4 L1634.1,784.4 L1635.6,784.4 L1637.1,784.4 L1638.6,784.4 L1640.1,784.4 L1641.6,784.4 L1643.1,784.4 L1644.6,784.4 L1646.1,784.5 L1647.6,784.5 L1649.1,784.5 L1650.6,784.5 L1652.1,784.5 L1653.6,784.5 L1655.1,784.5 L1656.6,784.5 L1658.1,784.5 L1659.6,784.5 L1661.1,784.5 L1662.6,784.5 L1664.1,784.5 L1665.6,784.5 L1667.1,784.5 L1668.6,784.5 L1670.1,784.5 L1671.6,784.6 L1673.1,784.6 L1674.6,784.6 L1676.1,784.6 L1677.6,784.6 L1679.1,784.6 L1680.6,784.6 L1682.1,784.6 L1683.6,784.6 L1685.1,784.6 L1686.6,784.6 L1688.1,784.6 L1689.6,784.6 L1691.1,784.7 L1692.6,784.7 L1694.1,784.7 L1695.6,784.7 L1697.1,784.7 L1698.6,784.7 L1700.1,784.7 L1701.6,784.7 L1703.1,784.7 L1704.6,784.7 L1706.1,784.7 L1707.6,784.7 L1709.1,784.8 L1710.6,784.8 L1712.1,784.8 L1713.6,784.8 L1715.1,784.8 L1716.6,784.8 L1718.1,784.8 L1719.6,784.8 L1721.1,784.8 L1722.6,784.8 L1724.1,784.9 L1725.6,784.9 L1727.1,784.9 L1728.6,784.9 L1730.1,784.9 L1731.6,784.9 L1733.1,784.9 L1734.6,784.9 L1736.1,784.9 L1737.6,785.0 L1739.1,785.0 L1740.6,785.0 L1742.1,785.0 L1743.6,785.0 L1745.1,785.0 L1746.6,785.0 L1748.1,785.0 L1749.6,785.0 L1751.1,785.0 L1752.6,785.1 L1754.1,785.1 L1755.6,785.1 L1757.1,785.1 L1758.6,785.1 L1760.0,785.1 L1761.5,785.1 L1763.0,785.1 L1764.5,785.1 L1766.0,785.2 L1767.5,785.2 L1769.0,785.2 L1770.5,785.2 L1772.0,785.2 L1773.5,785.2 L1775.0,785.2 L1776.5,785.2 L1778.0,785.2 L1779.5,785.3 L1781.0,785.3 L1782.5,785.3 L1784.0,785.3 L1785.5,785.3 L1787.0,785.3 L1788.5,785.3 L1790.0,785.3 L1791.5,785.3 L1793.0,785.4 L1794.5,785.4 L1796.0,785.4 L1797.5,785.4 L1799.0,785.4 L1800.5,785.4 L1802.0,785.4 L1803.5,785.4 L1805.0,785.4 L1806.5,785.4 L1808.0,785.5 L1809.5,785.5 L1811.0,785.5 L1812.5,785.5 L1814.0,785.5 L1815.5,785.5 L1817.0,785.5 L1818.5,785.5 L1820.0,785.5 L1821.5,785.5 L1823.0,785.6 L1824.5,785.6 L1826.0,785.6 L1827.4,785.6 L1828.9,785.6 L1830.4,785.6 L1831.9,785.6 L1833.4,785.6 L1834.9,785.6 L1836.4,785.6 L1837.9,785.6 L1839.4,785.7 L1840.9,785.7 L1842.4,785.7 L1843.9,785.7 L1845.4,785.7 L1846.9,785.7 L1848.4,785.7 L1849.9,785.7 L1851.4,785.7 L1852.9,785.7 L1854.4,785.7 L1855.9,785.7 L1857.4,785.7 L1858.9,785.8 L1860.4,785.8 L1861.9,785.8 L1863.4,785.8 L1864.9,785.8 L1866.4,785.8 L1868.0,785.8 L1869.5,785.8 L1871.0,785.8 L1872.5,785.8 L1874.0,785.8 L1875.5,785.8 L1877.0,785.8 L1878.5,785.8 L1880.0,785.8 L1881.5,785.8 L1883.0,785.8 L1884.5,785.9 L1886.0,785.9 L1887.5,785.9 L1889.0,785.9 L1890.5,785.9 L1892.0,785.9 L1893.5,785.9 L1895.0,785.9 L1896.5,785.9 L1898.0,785.9 L1899.5,785.9 L1901.0,785.9 L1902.5,785.9 L1904.0,785.9 L1905.5,785.9 L1907.0,785.9 L1908.5,785.9 L1910.0,785.9 L1911.5,785.9 L1913.1,785.9 L1914.6,785.9 L1916.1,785.9 L1917.6,785.9 L1919.1,785.9" stroke="#00ff00" stroke-width="6.2"/>
<path d="M248.0,757.1 L249.4,756.9 L250.8,756.7 L252.2,756.6 L253.6,756.4 L255.1,756.2 L256.5,756.1 L258.0,755.9 L259.5,755.8 L261.0,755.6 L262.5,755.4 L264.0,755.3 L265.5,755.1 L267.0,755.0 L268.5,754.8 L270.1,754.7 L271.6,754.5 L273.1,754.3 L274.7,754.2 L276.2,754.0 L277.8,753.8 L279.3,753.6 L280.8,753.4 L282.4,753.1 L283.9,752.9 L285.4,752.6 L287.0,752.4 L288.5,752.1 L290.0,751.8 L291.5,751.4 L293.0,751.1 L294.4,750.7 L295.9,750.3 L297.4,749.9 L298.8,749.5 L300.2,749.0 L301.6,748.6 L303.0,748.1 L304.4,747.5 L305.8,747.0 L307.1,746.4 L308.5,745.9 L309.8,745.3 L311.2,744.6 L312.5,744.0 L313.8,743.4 L315.1,742.7 L316.4,742.0 L317.7,741.3 L319.0,740.6 L320.3,739.9 L321.6,739.2 L322.9,738.5 L324.1,737.7 L325.4,737.0 L326.7,736.2 L327.9,735.4 L329.2,734.7 L330.5,733.9 L331.7,733.1 L333.0,732.3 L334.3,731.6 L335.6,730.8 L336.8,730.0 L338.1,729.2 L339.4,728.4 L340.7,727.7 L342.0,726.9 L343.3,726.1 L344.6,725.4 L345.9,724.6 L347.3,723.9 L348.6,723.1 L349.9,722.4 L351.3,721.7 L352.6,721.0 L354.0,720.3 L355.4,719.6 L356.8,718.9 L358.2,718.2 L359.6,717.6 L361.0,717.0 L362.4,716.3 L363.8,715.7 L365.2,715.1 L366.6,714.6 L368.1,714.0 L369.5,713.5 L370.9,713.0 L372.4,712.5 L373.8,712.0 L375.3,711.6 L376.7,711.1 L378.2,710.7 L379.6,710.3 L381.1,710.0 L382.5,709.6 L384.0,709.3 L385.4,709.0 L386.9,708.8 L388.3,708.5 L389.8,708.3 L391.3,708.2 L392.7,708.0 L394.2,707.9 L395.6,707.8 L397.1,707.8 L398.5,707.8 L400.0,707.8 L401.4,707.8 L402.8,707.9 L404.3,708.0 L405.7,708.2 L407.1,708.4 L408.6,708.6 L410.0,708.9 L411.4,709.2 L412.8,709.6 L414.2,709.9 L415.6,710.4 L417.0,710.8 L418.4,711.4 L419.7,711.9 L421.1,712.5 L422.5,713.2 L423.8,713.8 L425.1,714.6 L426.5,715.3 L427.8,716.1 L429.1,717.0 L430.4,717.9 L431.7,718.8 L433.0,719.7 L434.3,720.6 L435.6,721.6 L436.9,722.5 L438.1,723.5 L439.4,724.5 L440.6,725.5 L441.9,726.4 L443.1,727.4 L444.4,728.4 L445.6,729.4 L446.8,730.3 L448.0,731.2 L449.2,732.2 L450.4,733.0 L451.7,733.9 L452.8,734.8 L454.0,735.6 L455.2,736.4 L456.4,737.3 L457.6,738.1 L458.8,738.9 L460.0,739.7 L461.1,740.5 L462.3,741.3 L463.5,742.1 L464.6,742.9 L465.8,743.8 L467.0,744.6 L468.1,745.5 L469.3,746.4 L470.5,747.3 L471.6,748.2 L472.8,749.2 L474.0,750.1 L475.1,751.1 L476.3,752.2 L477.5,753.2 L478.7,754.3 L479.9,755.3 L481.1,756.4 L482.3,757.4 L483.5,758.5 L484.7,759.5 L485.9,760.5 L487.2,761.4 L488.4,762.4 L489.7,763.3 L490.9,764.1 L492.2,764.9 L493.5,765.6 L494.9,766.3 L496.2,767.0 L497.5,767.6 L498.9,768.2 L500.3,768.7 L501.6,769.2 L503.0,769.7 L504.4,770.1 L505.8,770.5 L507.3,770.8 L508.7,771.2 L510.1,771.4 L511.6,771.7 L513.0,771.9 L514.5,772.1 L515.9,772.3 L517.4,772.5 L518.9,772.6 L520.4,772.7 L521.8,772.8 L523.3,772.9 L524.8,772.9 L526.3,772.9 L527.8,772.9 L529.3,772.9 L530.8,772.9 L532.3,772.9 L533.8,772.9 L535.3,772.8 L536.9,772.8 L538.4,772.7 L539.9,772.6 L541.4,772.5 L542.9,772.5 L544.4,772.4 L545.9,772.3 L547.4,772.2 L548.9,772.1 L550.4,772.0 L551.9,771.9 L553.4,771.8 L554.9,771.7 L556.4,771.6 L557.9,771.4 L559.4,771.3 L560.9,771.2 L562.4,771.1 L563.9,770.9 L565.4,770.8 L566.9,770.6 L568.4,770.5 L569.8,770.3 L571.3,770.2 L572.8,770.0 L574.3,769.9 L575.8,769.7 L577.3,769.6 L578.8,769.4 L580.3,769.2 L581.8,769.1 L583.2,768.9 L584.7,768.7 L586.2,768.6 L587.7,768.4 L589.2,768.2 L590.7,768.0 L592.2,767.8 L593.6,767.7 L595.1,767.5 L596.6,767.3 L598.1,767.1 L599.6,766.9 L601.1,766.7 L602.5,766.5 L604.0,766.4 L605.5,766.2 L607.0,766.0 L608.5,765.8 L610.0,765.6 L611.4,765.4 L612.9,765.2 L614.4,765.0 L615.9,764.8 L617.4,764.6 L618.9,764.4 L620.3,764.2 L621.8,764.0 L623.3,763.9 L624.8,763.7 L626.3,763.5 L627.8,763.3 L629.2,763.1 L630.7,762.9 L632.2,762.7 L633.7,762.5 L635.2,762.3 L636.7,762.1 L638.1,762.0 L639.6,761.8 L641.1,761.6 L642.6,761.4 L644.1,761.2 L645.6,761.1 L647.1,760.9 L648.5,760.7 L650.0,760.5 L651.5,760.4 L653.0,760.2 L654.5,760.0 L656.0,759.9 L657.5,759.7 L659.0,759.6 L660.5,759.4 L662.0,759.3 L663.4,759.1 L664.9,759.0 L666.4,758.8 L667.9,758.7 L669.4,758.5 L670.9,758.4 L672.4,758.3 L673.9,758.1 L675.4,758.0 L676.9,757.9 L678.4,757.8 L679.9,757.7 L681.4,757.6 L682.9,757.5 L684.4,757.4 L685.9,757.3 L687.4,757.2 L688.9,757.1 L690.4,757.0 L692.0,756.9 L693.5,756.9 L695.0,756.8 L696.5,756.7 L698.0,756.6 L699.5,756.6 L701.0,756.5 L702.5,756.4 L704.0,756.4 L705.5,756.3 L707.1,756.2 L708.6,756.1 L710.1,756.1 L711.6,756.0 L713.1,755.9 L714.6,755.8 L716.1,755.7 L717.6,755.6 L719.1,755.4 L720.5,755.3 L722.0,755.2 L723.5,755.0 L725.0,754.8 L726.5,754.6 L727.9,754.5 L729.4,754.2 L730.9,754.0 L732.3,753.8 L733.8,753.5 L735.2,753.3 L736.7,753.0 L738.1,752.6 L739.6,752.3 L741.0,752.0 L742.4,751.6 L743.8,751.2 L745.3,750.8 L746.7,750.4 L748.1,749.9 L749.5,749.4 L750.8,748.9 L752.2,748.4 L753.6,747.8 L755.0,747.2 L756.3,746.6 L757.7,746.0 L759.0,745.3 L760.3,744.7 L761.7,744.0 L763.0,743.2 L764.3,742.5 L765.6,741.8 L766.9,741.0 L768.2,740.2 L769.5,739.4 L770.7,738.6 L772.0,737.7 L773.3,736.9 L774.5,736.0 L775.7,735.1 L777.0,734.2 L778.2,733.3 L779.4,732.4 L780.6,731.4 L781.8,730.5 L783.0,729.5 L784.2,728.5 L785.4,727.6 L786.5,726.6 L787.7,725.6 L788.8,724.6 L789.9,723.5 L791.1,722.5 L792.2,721.5 L793.3,720.5 L794.4,719.4 L795.5,718.4 L796.6,717.3 L797.6,716.3 L798.7,715.2 L799.7,714.1 L800.8,713.1 L801.8,712.0 L802.9,710.9 L803.9,709.8 L804.9,708.7 L805.9,707.6 L806.9,706.5 L807.9,705.4 L808.9,704.3 L809.9,703.2 L810.8,702.0 L811.8,700.9 L812.8,699.8 L813.7,698.6 L814.7,697.5 L815.6,696.3 L816.6,695.2 L817.5,694.0 L818.5,692.9 L819.4,691.7 L820.3,690.6 L821.2,689.4 L822.1,688.2 L823.0,687.0 L824.0,685.9 L824.9,684.7 L825.8,683.5 L826.6,682.3 L827.5,681.1 L828.4,679.9 L829.3,678.7 L830.2,677.5 L831.1,676.4 L832.0,675.2 L832.8,673.9 L833.7,672.7 L834.6,671.5 L835.5,670.3 L836.3,669.1 L837.2,667.9 L838.1,666.7 L838.9,665.5 L839.8,664.3 L840.6,663.1 L841.5,661.8 L842.4,660.6 L843.2,659.4 L844.1,658.2 L845.0,657.0 L845.8,655.7 L846.7,654.5 L847.5,653.3 L848.4,652.1 L849.3,650.9 L850.1,649.6 L851.0,648.4 L851.9,647.2 L852.8,646.0 L853.6,644.8 L854.5,643.5 L855.4,642.3 L856.3,641.1 L857.1,639.9 L858.0,638.7 L858.9,637.5 L859.8,636.2 L860.7,635.0 L861.6,633.8 L862.5,632.6 L863.4,631.4 L864.3,630.2 L865.2,629.0 L866.1,627.8 L867.0,626.5 L867.9,625.3 L868.8,624.1 L869.7,622.9 L870.6,621.7 L871.5,620.5 L872.4,619.3 L873.3,618.1 L874.1,616.8 L875.0,615.6 L875.9,614.4 L876.8,613.2 L877.7,612.0 L878.6,610.8 L879.5,609.5 L880.4,608.3 L881.3,607.1 L882.2,605.9 L883.0,604.6 L883.9,603.4 L884.8,602.2 L885.7,601.0 L886.5,599.7 L887.4,598.5 L888.3,597.3 L889.1,596.0 L890.0,594.8 L890.8,593.5 L891.7,592.3 L892.5,591.0 L893.3,589.8 L894.2,588.5 L895.0,587.3 L895.8,586.0 L896.6,584.8 L897.4,583.5 L898.2,582.3 L899.0,581.0 L899.8,579.7 L900.6,578.4 L901.4,577.2 L902.2,575.9 L902.9,574.6 L903.7,573.3 L904.5,572.0 L905.2,570.7 L905.9,569.4 L906.7,568.1 L907.4,566.8 L908.1,565.5 L908.8,564.2 L909.5,562.9 L910.2,561.6 L910.9,560.3 L911.6,558.9 L912.3,557.6 L913.0,556.3 L913.6,554.9 L914.3,553.6 L914.9,552.3 L915.6,550.9 L916.2,549.6 L916.9,548.2 L917.5,546.9 L918.1,545.5 L918.8,544.2 L919.4,542.8 L920.0,541.5 L920.6,540.1 L921.2,538.7 L921.8,537.4 L922.4,536.0 L923.0,534.6 L923.6,533.3 L924.2,531.9 L924.8,530.5 L925.4,529.1 L925.9,527.8 L926.5,526.4 L927.1,525.0 L927.7,523.6 L928.2,522.2 L928.8,520.8 L929.4,519.5 L929.9,518.1 L930.5,516.7 L931.0,515.3 L931.6,513.9 L932.1,512.5 L932.7,511.1 L933.2,509.7 L933.8,508.3 L934.3,506.9 L934.9,505.5 L935.4,504.1 L936.0,502.7 L936.5,501.3 L937.1,499.9 L937.6,498.5 L938.1,497.1 L938.7,495.7 L939.2,494.3 L939.8,492.9 L940.3,491.5 L940.9,490.1 L941.4,488.7 L942.0,487.3 L942.5,485.9 L943.0,484.5 L943.6,483.1 L944.1,481.7 L944.7,480.3 L945.3,478.9 L945.8,477.5 L946.4,476.1 L946.9,474.7 L947.5,473.3 L948.1,472.0 L948.6,470.6 L949.2,469.2 L949.8,467.8 L950.3,466.4 L950.9,465.0 L951.5,463.6 L952.1,462.2 L952.7,460.8 L953.3,459.4 L953.9,458.1 L954.4,456.7 L955.1,455.3 L955.7,453.9 L956.3,452.5 L956.9,451.2 L957.5,449.8 L958.1,448.4 L958.8,447.1 L959.4,445.7 L960.0,444.3 L960.7,443.0 L961.4,441.6 L962.0,440.3 L962.7,439.0 L963.5,437.7 L964.2,436.4 L965.0,435.1 L965.8,433.9 L966.6,432.7 L967.4,431.5 L968.3,430.3 L969.2,429.2 L970.1,428.1 L971.1,427.0 L972.1,426.0 L973.2,424.9 L974.3,424.0 L975.4,423.1 L976.6,422.2 L977.9,421.3 L979.2,420.5 L980.5,419.8 L981.9,419.0 L983.3,418.4 L984.7,417.7 L986.1,417.0 L987.6,416.3 L989.0,415.7 L990.4,415.0 L991.8,414.3 L993.2,413.6 L994.6,412.9 L995.9,412.1 L997.3,411.4 L998.5,410.6 L999.8,409.8 L1001.0,408.9 L1002.2,408.0 L1003.4,407.1 L1004.5,406.2 L1005.6,405.2 L1006.7,404.2 L1007.7,403.2 L1008.7,402.1 L1009.6,401.0 L1010.4,399.8 L1011.3,398.6 L1012.1,397.4 L1012.8,396.1 L1013.5,394.8 L1014.2,393.5 L1014.9,392.2 L1015.5,390.8 L1016.1,389.4 L1016.7,388.1 L1017.3,386.7 L1017.9,385.3 L1018.5,383.9 L1019.0,382.5 L1019.6,381.1 L1020.2,379.7 L1020.7,378.3 L1021.2,376.8 L1021.8,375.4 L1022.3,374.0 L1022.8,372.6 L1023.3,371.2 L1023.8,369.7 L1024.3,368.3 L1024.8,366.9 L1025.3,365.4 L1025.8,364.0 L1026.3,362.6 L1026.8,361.2 L1027.3,359.7 L1027.8,358.3 L1028.2,356.9 L1028.7,355.5 L1029.2,354.1 L1029.7,352.6 L1030.2,351.2 L1030.6,349.8 L1031.1,348.4 L1031.6,347.0 L1032.1,345.6 L1032.6,344.2 L1033.1,342.8 L1033.5,341.4 L1034.0,340.0 L1034.5,338.6 L1035.0,337.3 L1035.5,335.9 L1036.0,334.5 L1036.5,333.1 L1037.0,331.7 L1037.5,330.3 L1038.0,329.0 L1038.5,327.6 L1039.0,326.2 L1039.5,324.8 L1040.0,323.4 L1040.5,322.1 L1041.0,320.7 L1041.5,319.3 L1042.0,317.9 L1042.5,316.5 L1043.0,315.1 L1043.6,313.7 L1044.1,312.3 L1044.6,310.9 L1045.1,309.5 L1045.6,308.1 L1046.1,306.7 L1046.7,305.3 L1047.2,303.9 L1047.7,302.5 L1048.2,301.0 L1048.8,299.6 L1049.3,298.2 L1049.8,296.7 L1050.4,295.3 L1050.9,293.8 L1051.4,292.4 L1052.0,290.9 L1052.5,289.5 L1053.0,288.0 L1053.6,286.5 L1054.1,285.0 L1054.7,283.5 L1055.2,282.0 L1055.8,280.6 L1056.4,279.1 L1057.0,277.7 L1057.6,276.2 L1058.3,274.8 L1059.0,273.5 L1059.7,272.2 L1060.5,270.9 L1061.3,269.7 L1062.1,268.5 L1063.0,267.4 L1063.9,266.4 L1064.9,265.4 L1066.0,264.5 L1067.1,263.7 L1068.3,263.0 L1069.6,262.3 L1070.9,261.8 L1072.3,261.4 L1073.7,261.2 L1075.1,261.2 L1076.5,261.4 L1078.0,261.8 L1079.4,262.4 L1080.7,263.1 L1082.1,263.9 L1083.3,264.9 L1084.5,265.9 L1085.7,267.0 L1086.7,268.1 L1087.7,269.3 L1088.6,270.5 L1089.5,271.7 L1090.3,273.0 L1091.1,274.4 L1091.8,275.7 L1092.4,277.1 L1093.1,278.5 L1093.7,279.9 L1094.2,281.4 L1094.8,282.8 L1095.3,284.3 L1095.8,285.7 L1096.3,287.2 L1096.8,288.6 L1097.3,290.1 L1097.8,291.5 L1098.3,293.0 L1098.7,294.4 L1099.2,295.8 L1099.7,297.3 L1100.1,298.7 L1100.6,300.1 L1101.0,301.5 L1101.5,302.9 L1101.9,304.4 L1102.3,305.8 L1102.8,307.2 L1103.2,308.6 L1103.6,310.0 L1104.1,311.4 L1104.5,312.8 L1104.9,314.2 L1105.4,315.6 L1105.8,317.0 L1106.2,318.5 L1106.7,319.9 L1107.1,321.3 L1107.5,322.7 L1108.0,324.1 L1108.4,325.6 L1108.9,327.0 L1109.3,328.4 L1109.8,329.9 L1110.3,331.3 L1110.7,332.8 L1111.2,334.2 L1111.7,335.6 L1112.2,337.1 L1112.8,338.5 L1113.3,339.9 L1113.9,341.3 L1114.4,342.8 L1115.1,344.1 L1115.7,345.5 L1116.4,346.9 L1117.1,348.3 L1117.8,349.6 L1118.6,350.9 L1119.4,352.2 L1120.2,353.5 L1121.1,354.8 L1122.0,356.0 L1123.0,357.2 L1124.0,358.4 L1125.1,359.5 L1126.2,360.6 L1127.4,361.7 L1128.6,362.7 L1129.8,363.7 L1131.1,364.6 L1132.4,365.4 L1133.7,366.1 L1134.9,366.7 L1136.2,367.1 L1137.5,367.4 L1138.7,367.5 L1139.9,367.5 L1141.1,367.3 L1142.2,366.9 L1143.3,366.4 L1144.4,365.8 L1145.4,365.0 L1146.4,364.2 L1147.4,363.2 L1148.4,362.1 L1149.3,361.0 L1150.3,359.8 L1151.2,358.5 L1152.1,357.1 L1152.9,355.7 L1153.8,354.2 L1154.6,352.8 L1155.4,351.2 L1156.2,349.7 L1157.0,348.2 L1157.8,346.6 L1158.6,345.1 L1159.4,343.6 L1160.1,342.1 L1160.9,340.7 L1161.6,339.3 L1162.4,337.9 L1163.1,336.6 L1163.9,335.4 L1164.6,334.2 L1165.4,333.1 L1166.3,332.0 L1167.2,331.0 L1168.2,330.1 L1169.3,329.2 L1170.4,328.3 L1171.7,327.5 L1173.0,326.8 L1174.5,326.2 L1176.1,325.6 L1177.6,325.1 L1179.2,324.8 L1180.8,324.7 L1182.3,324.7 L1183.7,325.0 L1185.0,325.5 L1186.3,326.1 L1187.4,326.9 L1188.5,327.9 L1189.4,329.0 L1190.4,330.1 L1191.2,331.4 L1192.1,332.7 L1192.8,334.0 L1193.6,335.4 L1194.3,336.8 L1194.9,338.1 L1195.6,339.5 L1196.2,340.9 L1196.8,342.3 L1197.4,343.7 L1197.9,345.1 L1198.4,346.5 L1198.9,348.0 L1199.4,349.4 L1199.9,350.8 L1200.3,352.3 L1200.8,353.7 L1201.2,355.1 L1201.6,356.6 L1202.0,358.0 L1202.4,359.5 L1202.8,360.9 L1203.2,362.4 L1203.6,363.8 L1204.0,365.3 L1204.4,366.7 L1204.8,368.2 L1205.2,369.6 L1205.6,371.1 L1206.0,372.5 L1206.3,374.0 L1206.7,375.4 L1207.1,376.9 L1207.5,378.3 L1207.8,379.8 L1208.2,381.2 L1208.6,382.7 L1208.9,384.1 L1209.3,385.6 L1209.6,387.0 L1210.0,388.5 L1210.3,390.0 L1210.7,391.4 L1211.0,392.9 L1211.4,394.3 L1211.7,395.8 L1212.1,397.3 L1212.4,398.7 L1212.7,400.2 L1213.1,401.6 L1213.4,403.1 L1213.7,404.6 L1214.1,406.0 L1214.4,407.5 L1214.7,409.0 L1215.0,410.4 L1215.4,411.9 L1215.7,413.3 L1216.0,414.8 L1216.3,416.3 L1216.6,417.7 L1216.9,419.2 L1217.2,420.7 L1217.6,422.1 L1217.9,423.6 L1218.2,425.1 L1218.5,426.5 L1218.8,428.0 L1219.1,429.5 L1219.4,430.9 L1219.7,432.4 L1220.0,433.9 L1220.2,435.4 L1220.5,436.8 L1220.8,438.3 L1221.1,439.8 L1221.4,441.2 L1221.7,442.7 L1222.0,444.2 L1222.3,445.7 L1222.5,447.1 L1222.8,448.6 L1223.1,450.1 L1223.4,451.5 L1223.7,453.0 L1223.9,454.5 L1224.2,456.0 L1224.5,457.4 L1224.8,458.9 L1225.0,460.4 L1225.3,461.9 L1225.6,463.3 L1225.8,464.8 L1226.1,466.3 L1226.4,467.8 L1226.7,469.2 L1226.9,470.7 L1227.2,472.2 L1227.4,473.7 L1227.7,475.1 L1228.0,476.6 L1228.2,478.1 L1228.5,479.6 L1228.8,481.0 L1229.0,482.5 L1229.3,484.0 L1229.5,485.5 L1229.8,487.0 L1230.1,488.4 L1230.3,489.9 L1230.6,491.4 L1230.8,492.9 L1231.1,494.3 L1231.3,495.8 L1231.6,497.3 L1231.9,498.8 L1232.1,500.2 L1232.4,501.7 L1232.6,503.2 L1232.9,504.7 L1233.1,506.2 L1233.4,507.6 L1233.6,509.1 L1233.9,510.6 L1234.1,512.1 L1234.4,513.5 L1234.7,515.0 L1234.9,516.5 L1235.2,518.0 L1235.4,519.5 L1235.7,520.9 L1235.9,522.4 L1236.2,523.9 L1236.4,525.4 L1236.7,526.8 L1236.9,528.3 L1237.2,529.8 L1237.5,531.3 L1237.7,532.8 L1238.0,534.2 L1238.2,535.7 L1238.5,537.2 L1238.7,538.7 L1239.0,540.1 L1239.3,541.6 L1239.5,543.1 L1239.8,544.6 L1240.0,546.1 L1240.3,547.5 L1240.6,549.0 L1240.8,550.5 L1241.1,552.0 L1241.3,553.4 L1241.6,554.9 L1241.9,556.4 L1242.1,557.9 L1242.4,559.3 L1242.7,560.8 L1242.9,562.3 L1243.2,563.8 L1243.5,565.2 L1243.7,566.7 L1244.0,568.2 L1244.3,569.7 L1244.6,571.1 L1244.8,572.6 L1245.1,574.1 L1245.4,575.5 L1245.7,577.0 L1245.9,578.5 L1246.2,580.0 L1246.5,581.4 L1246.8,582.9 L1247.1,584.4 L1247.4,585.8 L1247.6,587.3 L1247.9,588.8 L1248.2,590.3 L1248.5,591.7 L1248.8,593.2 L1249.1,594.7 L1249.4,596.1 L1249.7,597.6 L1250.0,599.1 L1250.3,600.5 L1250.6,602.0 L1250.9,603.5 L1251.2,604.9 L1251.5,606.4 L1251.8,607.9 L1252.1,609.3 L1252.4,610.8 L1252.7,612.3 L1253.1,613.7 L1253.4,615.2 L1253.7,616.6 L1254.0,618.1 L1254.3,619.6 L1254.7,621.0 L1255.0,622.5 L1255.3,624.0 L1255.7,625.4 L1256.0,626.9 L1256.3,628.3 L1256.7,629.8 L1257.0,631.2 L1257.4,632.7 L1257.7,634.2 L1258.1,635.6 L1258.4,637.1 L1258.8,638.5 L1259.1,640.0 L1259.5,641.4 L1259.8,642.9 L1260.2,644.3 L1260.6,645.8 L1261.0,647.2 L1261.3,648.7 L1261.7,650.1 L1262.1,651.6 L1262.5,653.0 L1262.9,654.5 L1263.3,655.9 L1263.7,657.3 L1264.1,658.8 L1264.5,660.2 L1264.9,661.7 L1265.3,663.1 L1265.7,664.5 L1266.1,666.0 L1266.5,667.4 L1267.0,668.8 L1267.4,670.3 L1267.8,671.7 L1268.3,673.1 L1268.7,674.6 L1269.2,676.0 L1269.6,677.4 L1270.1,678.8 L1270.5,680.3 L1271.0,681.7 L1271.5,683.1 L1271.9,684.5 L1272.4,685.9 L1272.9,687.4 L1273.4,688.8 L1273.9,690.2 L1274.4,691.6 L1274.9,693.0 L1275.4,694.4 L1275.9,695.8 L1276.4,697.2 L1276.9,698.6 L1277.5,700.0 L1278.0,701.4 L1278.6,702.8 L1279.1,704.2 L1279.7,705.6 L1280.3,707.0 L1280.8,708.4 L1281.4,709.8 L1282.0,711.1 L1282.6,712.5 L1283.2,713.9 L1283.9,715.3 L1284.5,716.6 L1285.2,718.0 L1285.8,719.3 L1286.5,720.7 L1287.2,722.0 L1287.9,723.4 L1288.6,724.7 L1289.3,726.0 L1290.0,727.4 L1290.8,728.7 L1291.5,730.0 L1292.3,731.3 L1293.1,732.6 L1293.9,733.9 L1294.7,735.2 L1295.5,736.4 L1296.3,737.7 L1297.2,739.0 L1298.1,740.2 L1298.9,741.5 L1299.8,742.7 L1300.7,743.9 L1301.6,745.1 L1302.6,746.3 L1303.5,747.5 L1304.5,748.7 L1305.5,749.8 L1306.4,750.9 L1307.4,752.1 L1308.5,753.2 L1309.5,754.3 L1310.5,755.3 L1311.6,756.4 L1312.6,757.4 L1313.7,758.5 L1314.8,759.5 L1315.9,760.5 L1317.1,761.4 L1318.2,762.4 L1319.3,763.3 L1320.5,764.2 L1321.7,765.1 L1322.9,765.9 L1324.1,766.8 L1325.3,767.6 L1326.5,768.4 L1327.8,769.2 L1329.0,769.9 L1330.3,770.6 L1331.6,771.3 L1332.9,772.0 L1334.2,772.6 L1335.6,773.3 L1336.9,773.9 L1338.2,774.5 L1339.6,775.0 L1341.0,775.6 L1342.4,776.1 L1343.7,776.6 L1345.2,777.1 L1346.6,777.6 L1348.0,778.0 L1349.4,778.4 L1350.8,778.9 L1352.3,779.3 L1353.7,779.6 L1355.2,780.0 L1356.7,780.3 L1358.1,780.7 L1359.6,781.0 L1361.1,781.3 L1362.6,781.6 L1364.1,781.9 L1365.6,782.1 L1367.1,782.4 L1368.6,782.6 L1370.1,782.9 L1371.6,783.1 L1373.1,783.3 L1374.6,783.5 L1376.2,783.7 L1377.7,783.9 L1379.2,784.0 L1380.7,784.2 L1382.2,784.4 L1383.8,784.5 L1385.3,784.7 L1386.8,784.8 L1388.3,784.9 L1389.9,785.0 L1391.4,785.2 L1392.9,785.3 L1394.4,785.4 L1395.9,785.5 L1397.4,785.6 L1399.0,785.7 L1400.5,785.8 L1402.0,785.9 L1403.5,785.9 L1405.0,786.0 L1406.5,786.1 L1408.0,786.2 L1409.5,786.2 L1411.0,786.3 L1412.5,786.4 L1414.0,786.4 L1415.5,786.5 L1417.0,786.5 L1418.5,786.6 L1420.0,786.6 L1421.5,786.7 L1423.0,786.7 L1424.5,786.7 L1426.0,786.8 L1427.4,786.8 L1428.9,786.8 L1430.4,786.9 L1431.9,786.9 L1433.4,786.9 L1434.9,786.9 L1436.4,787.0 L1437.9,787.0 L1439.4,787.0 L1440.9,787.0 L1442.4,787.0 L1443.8,787.0 L1445.3,787.1 L1446.8,787.1 L1448.3,787.1 L1449.8,787.1 L1451.3,787.1 L1452.8,787.1 L1454.3,787.1 L1455.8,787.1 L1457.2,787.2 L1458.7,787.2 L1460.2,787.2 L1461.7,787.2 L1463.2,787.2 L1464.7,787.2 L1466.2,787.2 L1467.7,787.2 L1469.2,787.3 L1470.7,787.3 L1472.2,787.3 L1473.7,787.3 L1475.2,787.3 L1476.7,787.3 L1478.1,787.3 L1479.6,787.3 L1481.1,787.3 L1482.6,787.4 L1484.1,787.4 L1485.6,787.4 L1487.1,787.4 L1488.6,787.4 L1490.1,787.4 L1491.6,787.4 L1493.1,787.4 L1494.6,787.4 L1496.1,787.4 L1497.6,787.5 L1499.1,787.5 L1500.6,787.5 L1502.1,787.5 L1503.6,787.5 L1505.1,787.5 L1506.6,787.5 L1508.1,787.5 L1509.6,787.5 L1511.1,787.5 L1512.6,787.5 L1514.1,787.5 L1515.6,787.6 L1517.1,787.6 L1518.6,787.6 L1520.1,787.6 L1521.6,787.6 L1523.1,787.6 L1524.6,787.6 L1526.1,787.6 L1527.6,787.6 L1529.1,787.6 L1530.6,787.6 L1532.1,787.6 L1533.6,787.6 L1535.1,787.7 L1536.6,787.7 L1538.1,787.7 L1539.6,787.7 L1541.1,787.7 L1542.6,787.7 L1544.1,787.7 L1545.6,787.7 L1547.1,787.7 L1548.6,787.7 L1550.1,787.7 L1551.6,787.7 L1553.1,787.7 L1554.6,787.7 L1556.1,787.7 L1557.6,787.8 L1559.1,787.8 L1560.6,787.8 L1562.1,787.8 L1563.6,787.8 L1565.1,787.8 L1566.6,787.8 L1568.1,787.8 L1569.6,787.8 L1571.1,787.8 L1572.6,787.8 L1574.1,787.8 L1575.6,787.8 L1577.1,787.8 L1578.6,787.8 L1580.1,787.8 L1581.6,787.8 L1583.1,787.8 L1584.6,787.8 L1586.1,787.8 L1587.6,787.9 L1589.2,787.9 L1590.7,787.9 L1592.2,787.9 L1593.7,787.9 L1595.2,787.9 L1596.7,787.9 L1598.2,787.9 L1599.7,787.9 L1601.2,787.9 L1602.7,787.9 L1604.2,787.9 L1605.7,787.9 L1607.2,787.9 L1608.7,787.9 L1610.2,787.9 L1611.7,787.9 L1613.2,787.9 L1614.7,787.9 L1616.2,787.9 L1617.7,787.9 L1619.2,787.9 L1620.7,787.9 L1622.2,787.9 L1623.7,787.9 L1625.2,787.9 L1626.7,787.9 L1628.2,787.9 L1629.7,787.9 L1631.2,787.9 L1632.7,787.9 L1634.2,788.0 L1635.7,788.0 L1637.2,788.0 L1638.7,788.0 L1640.2,788.0 L1641.7,788.0 L1643.2,788.0 L1644.7,788.0 L1646.2,788.0 L1647.7,788.0 L1649.2,788.0 L1650.7,788.0 L1652.2,788.0 L1653.7,788.0 L1655.2,788.0 L1656.7,788.0 L1658.2,788.0 L1659.7,788.0 L1661.2,788.0 L1662.7,788.0 L1664.2,788.0 L1665.7,788.0 L1667.2,788.0 L1668.7,788.0 L1670.2,788.0 L1671.7,788.0 L1673.2,788.0 L1674.7,788.0 L1676.2,788.0 L1677.7,788.0 L1679.2,788.0 L1680.7,788.0 L1682.1,788.0 L1683.6,788.0 L1685.1,788.0 L1686.6,788.0 L1688.1,788.0 L1689.6,788.0 L1691.1,788.0 L1692.6,788.0 L1694.1,788.0 L1695.6,788.0 L1697.1,788.0 L1698.6,788.0 L1700.1,788.0 L1701.6,788.0 L1703.1,788.0 L1704.6,788.0 L1706.1,788.0 L1707.6,788.0 L1709.1,788.0 L1710.6,788.0 L1712.1,788.0 L1713.6,788.0 L1715.1,788.0 L1716.6,788.0 L1718.1,788.0 L1719.6,788.0 L1721.1,788.0 L1722.6,788.0 L1724.1,788.0 L1725.6,788.0 L1727.1,788.0 L1728.6,788.0 L1730.1,788.0 L1731.6,788.0 L1733.1,788.0 L1734.6,788.0 L1736.1,788.0 L1737.6,788.0 L1739.1,788.0 L1740.6,788.0 L1742.1,788.0 L1743.6,788.0 L1745.1,788.0 L1746.6,788.0 L1748.1,788.0 L1749.6,788.0 L1751.1,788.0 L1752.6,788.0 L1754.1,788.0 L1755.6,788.0 L1757.1,788.0 L1758.6,788.0 L1760.1,788.0 L1761.6,788.0 L1763.1,788.0 L1764.6,788.0 L1766.1,788.0 L1767.6,788.0 L1769.1,788.0 L1770.6,788.0 L1772.1,788.0 L1773.6,788.0 L1775.1,788.0 L1776.6,788.0 L1778.0,788.0 L1779.5,788.0 L1781.0,788.0 L1782.5,788.0 L1784.0,788.0 L1785.5,788.0 L1787.0,788.0 L1788.5,788.0 L1790.0,788.0 L1791.5,788.0 L1793.0,788.0 L1794.5,788.0 L1796.0,788.0 L1797.5,788.0 L1799.0,788.0 L1800.5,788.0 L1802.0,788.0 L1803.5,788.0 L1805.0,788.0 L1806.5,788.0 L1808.0,788.0 L1809.5,788.0 L1811.0,788.0 L1812.5,788.0 L1814.0,788.0 L1815.5,788.0 L1817.0,788.0 L1818.5,788.0 L1820.0,788.0 L1821.5,788.0 L1823.0,788.0 L1824.5,788.0 L1826.0,788.0 L1827.5,788.0 L1829.0,788.0 L1830.5,788.0 L1832.0,788.0 L1833.5,788.0 L1835.0,788.0 L1836.5,788.0 L1838.0,788.0 L1839.5,788.0 L1841.0,788.0 L1842.5,788.0 L1844.0,788.0 L1845.5,788.0 L1847.0,788.0 L1848.5,788.0 L1850.0,788.0 L1851.5,788.0 L1853.0,788.0 L1854.5,788.0 L1856.0,788.0 L1857.5,788.0 L1859.0,788.0 L1860.5,788.0 L1862.0,788.0 L1863.5,788.0 L1865.0,788.0 L1866.5,788.0 L1868.0,788.0 L1869.5,788.0 L1871.0,788.0 L1872.5,788.0 L1874.0,788.0 L1875.5,788.0 L1877.0,788.0 L1878.5,788.0 L1880.0,788.0 L1881.5,788.0 L1883.0,788.0 L1884.5,788.0 L1886.0,788.0 L1887.5,788.0 L1889.0,788.0 L1890.5,788.0 L1892.0,788.0 L1893.5,788.0 L1895.0,788.0 L1896.5,788.0 L1898.0,788.0 L1899.5,788.0 L1901.0,788.0 L1902.5,788.0 L1904.0,788.0 L1905.5,788.0 L1907.0,788.0 L1908.5,788.0 L1910.0,788.0 L1911.5,788.0 L1913.0,788.0 L1914.5,788.0 L1916.0,788.0 L1917.5,788.0 L1919.0,788.0" stroke="#0000ff" stroke-width="6.2"/>
</g>
<g clip-path="url(#cb)" fill="none" stroke-linejoin="round">
<path d="M248.0,1467.4 L249.9,1466.9 L251.8,1466.3 L253.8,1465.7 L255.7,1465.2 L257.6,1464.6 L259.5,1463.9 L261.4,1463.3 L263.3,1462.7 L265.2,1462.0 L267.1,1461.3 L268.9,1460.7 L270.8,1459.9 L272.7,1459.2 L274.5,1458.5 L276.4,1457.8 L278.2,1457.0 L280.1,1456.2 L281.9,1455.5 L283.7,1454.7 L285.6,1453.9 L287.4,1453.0 L289.2,1452.2 L291.0,1451.4 L292.8,1450.5 L294.6,1449.7 L296.4,1448.8 L298.2,1447.9 L300.0,1447.0 L301.8,1446.1 L303.6,1445.2 L305.4,1444.3 L307.1,1443.4 L308.9,1442.5 L310.7,1441.5 L312.4,1440.6 L314.2,1439.6 L316.0,1438.7 L317.7,1437.7 L319.5,1436.7 L321.2,1435.7 L323.0,1434.8 L324.7,1433.8 L326.4,1432.8 L328.2,1431.8 L329.9,1430.8 L331.6,1429.8 L333.4,1428.8 L335.1,1427.7 L336.8,1426.7 L338.5,1425.7 L340.3,1424.7 L342.0,1423.6 L343.7,1422.6 L345.4,1421.6 L347.1,1420.6 L348.9,1419.5 L350.6,1418.5 L352.3,1417.5 L354.0,1416.4 L355.7,1415.4 L357.4,1414.4 L359.1,1413.3 L360.9,1412.3 L362.6,1411.3 L364.3,1410.2 L366.0,1409.2 L367.7,1408.2 L369.4,1407.1 L371.1,1406.1 L372.8,1405.1 L374.5,1404.1 L376.2,1403.1 L378.0,1402.1 L379.7,1401.0 L381.4,1400.0 L383.1,1399.0 L384.8,1398.0 L386.5,1397.0 L388.2,1396.0 L389.9,1395.0 L391.6,1394.0 L393.4,1393.0 L395.1,1392.0 L396.8,1391.0 L398.5,1389.9 L400.2,1388.9 L401.9,1387.9 L403.6,1386.8 L405.3,1385.8 L407.0,1384.8 L408.6,1383.7 L410.3,1382.7 L412.0,1381.6 L413.7,1380.5 L415.4,1379.4 L417.1,1378.4 L418.7,1377.3 L420.4,1376.2 L422.1,1375.0 L423.7,1373.9 L425.4,1372.8 L427.0,1371.6 L428.7,1370.5 L430.3,1369.3 L432.0,1368.1 L433.6,1367.0 L435.3,1365.8 L436.9,1364.6 L438.6,1363.4 L440.2,1362.2 L441.9,1361.0 L443.5,1359.8 L445.1,1358.7 L446.8,1357.5 L448.4,1356.3 L450.1,1355.1 L451.7,1353.9 L453.4,1352.7 L455.0,1351.6 L456.7,1350.4 L458.4,1349.3 L460.0,1348.1 L461.7,1347.0 L463.4,1345.8 L465.0,1344.7 L466.7,1343.6 L468.4,1342.5 L470.1,1341.5 L471.8,1340.4 L473.5,1339.4 L475.2,1338.3 L477.0,1337.3 L478.7,1336.3 L480.4,1335.4 L482.2,1334.4 L483.9,1333.4 L485.7,1332.5 L487.4,1331.6 L489.2,1330.7 L491.0,1329.8 L492.8,1328.9 L494.5,1328.1 L496.3,1327.3 L498.1,1326.4 L499.9,1325.6 L501.8,1324.8 L503.6,1324.1 L505.4,1323.3 L507.2,1322.5 L509.0,1321.8 L510.9,1321.1 L512.7,1320.4 L514.6,1319.7 L516.4,1319.0 L518.3,1318.4 L520.2,1317.7 L522.0,1317.1 L523.9,1316.4 L525.8,1315.8 L527.7,1315.2 L529.6,1314.7 L531.5,1314.1 L533.4,1313.5 L535.3,1313.0 L537.2,1312.5 L539.1,1311.9 L541.0,1311.4 L542.9,1310.9 L544.8,1310.5 L546.8,1310.0 L548.7,1309.5 L550.6,1309.1 L552.6,1308.7 L554.5,1308.3 L556.5,1307.8 L558.4,1307.5 L560.4,1307.1 L562.3,1306.7 L564.3,1306.3 L566.3,1306.0 L568.2,1305.6 L570.2,1305.3 L572.2,1305.0 L574.2,1304.7 L576.2,1304.4 L578.1,1304.1 L580.1,1303.8 L582.1,1303.6 L584.1,1303.3 L586.1,1303.1 L588.1,1302.8 L590.1,1302.6 L592.1,1302.4 L594.1,1302.2 L596.1,1302.0 L598.2,1301.8 L600.2,1301.6 L602.2,1301.5 L604.2,1301.3 L606.2,1301.1 L608.2,1301.0 L610.2,1300.8 L612.3,1300.7 L614.3,1300.5 L616.3,1300.4 L618.3,1300.2 L620.3,1300.1 L622.4,1299.9 L624.4,1299.8 L626.4,1299.7 L628.4,1299.5 L630.4,1299.4 L632.5,1299.2 L634.5,1299.1 L636.5,1298.9 L638.5,1298.8 L640.5,1298.6 L642.5,1298.4 L644.5,1298.3 L646.5,1298.1 L648.5,1297.9 L650.5,1297.7 L652.5,1297.5 L654.5,1297.3 L656.5,1297.1 L658.5,1296.8 L660.5,1296.6 L662.5,1296.3 L664.4,1296.1 L666.4,1295.8 L668.4,1295.5 L670.4,1295.2 L672.3,1294.9 L674.3,1294.6 L676.2,1294.2 L678.2,1293.8 L680.1,1293.5 L682.0,1293.1 L684.0,1292.7 L685.9,1292.2 L687.8,1291.8 L689.7,1291.3 L691.6,1290.8 L693.5,1290.3 L695.4,1289.8 L697.3,1289.2 L699.2,1288.6 L701.1,1288.0 L702.9,1287.4 L704.8,1286.8 L706.7,1286.2 L708.5,1285.5 L710.3,1284.8 L712.2,1284.1 L714.0,1283.4 L715.8,1282.6 L717.7,1281.9 L719.5,1281.1 L721.3,1280.3 L723.1,1279.5 L724.9,1278.7 L726.7,1277.9 L728.5,1277.0 L730.2,1276.1 L732.0,1275.3 L733.8,1274.4 L735.5,1273.5 L737.3,1272.5 L739.1,1271.6 L740.8,1270.6 L742.5,1269.7 L744.3,1268.7 L746.0,1267.7 L747.7,1266.7 L749.5,1265.7 L751.2,1264.6 L752.9,1263.6 L754.6,1262.5 L756.3,1261.4 L758.0,1260.4 L759.7,1259.3 L761.3,1258.2 L763.0,1257.1 L764.7,1255.9 L766.4,1254.8 L768.0,1253.7 L769.7,1252.5 L771.3,1251.3 L773.0,1250.2 L774.6,1249.0 L776.2,1247.8 L777.9,1246.6 L779.5,1245.4 L781.1,1244.2 L782.7,1242.9 L784.4,1241.7 L786.0,1240.5 L787.6,1239.2 L789.2,1238.0 L790.8,1236.7 L792.4,1235.5 L793.9,1234.2 L795.5,1232.9 L797.1,1231.6 L798.7,1230.3 L800.2,1229.1 L801.8,1227.8 L803.3,1226.5 L804.9,1225.2 L806.5,1223.8 L808.0,1222.5 L809.5,1221.2 L811.1,1219.9 L812.6,1218.6 L814.1,1217.2 L815.7,1215.9 L817.2,1214.6 L818.7,1213.3 L820.2,1211.9 L821.7,1210.6 L823.3,1209.3 L824.8,1207.9 L826.3,1206.6 L827.8,1205.3 L829.3,1204.0 L830.8,1202.6 L832.3,1201.3 L833.9,1200.0 L835.4,1198.7 L836.9,1197.4 L838.4,1196.1 L839.9,1194.8 L841.4,1193.5 L843.0,1192.2 L844.5,1190.9 L846.0,1189.6 L847.6,1188.3 L849.1,1187.1 L850.6,1185.8 L852.2,1184.5 L853.7,1183.3 L855.3,1182.1 L856.8,1180.8 L858.4,1179.6 L860.0,1178.4 L861.5,1177.2 L863.1,1176.0 L864.7,1174.8 L866.3,1173.7 L867.9,1172.5 L869.5,1171.4 L871.1,1170.2 L872.7,1169.1 L874.3,1168.0 L876.0,1166.9 L877.6,1165.8 L879.3,1164.8 L880.9,1163.7 L882.6,1162.7 L884.3,1161.7 L886.0,1160.7 L887.7,1159.7 L889.4,1158.7 L891.1,1157.7 L892.9,1156.8 L894.6,1155.9 L896.4,1155.0 L898.1,1154.1 L899.9,1153.2 L901.7,1152.4 L903.5,1151.6 L905.3,1150.8 L907.2,1150.0 L909.0,1149.2 L910.9,1148.5 L912.7,1147.7 L914.6,1147.0 L916.5,1146.4 L918.4,1145.7 L920.3,1145.1 L922.3,1144.5 L924.2,1143.9 L926.1,1143.4 L928.1,1142.9 L930.0,1142.4 L932.0,1142.0 L934.0,1141.6 L935.9,1141.2 L937.9,1140.8 L939.9,1140.5 L941.9,1140.2 L943.8,1140.0 L945.8,1139.8 L947.8,1139.6 L949.8,1139.5 L951.8,1139.4 L953.8,1139.3 L955.7,1139.3 L957.7,1139.4 L959.7,1139.4 L961.7,1139.6 L963.6,1139.7 L965.6,1139.9 L967.6,1140.2 L969.5,1140.5 L971.5,1140.9 L973.4,1141.3 L975.3,1141.7 L977.3,1142.2 L979.2,1142.7 L981.1,1143.3 L983.0,1143.9 L984.9,1144.6 L986.8,1145.3 L988.6,1146.0 L990.5,1146.8 L992.4,1147.5 L994.3,1148.3 L996.1,1149.1 L998.0,1150.0 L999.8,1150.8 L1001.7,1151.7 L1003.5,1152.6 L1005.4,1153.4 L1007.2,1154.3 L1009.0,1155.3 L1010.9,1156.2 L1012.7,1157.1 L1014.5,1158.1 L1016.3,1159.0 L1018.1,1160.0 L1019.9,1161.0 L1021.6,1161.9 L1023.4,1162.9 L1025.2,1163.9 L1026.9,1164.9 L1028.7,1165.9 L1030.4,1167.0 L1032.1,1168.0 L1033.8,1169.0 L1035.6,1170.1 L1037.3,1171.1 L1038.9,1172.2 L1040.6,1173.2 L1042.3,1174.3 L1044.0,1175.3 L1045.7,1176.4 L1047.3,1177.5 L1049.0,1178.6 L1050.6,1179.7 L1052.3,1180.8 L1053.9,1181.9 L1055.6,1183.0 L1057.2,1184.1 L1058.8,1185.2 L1060.4,1186.4 L1062.1,1187.5 L1063.7,1188.6 L1065.3,1189.8 L1066.9,1190.9 L1068.5,1192.1 L1070.1,1193.2 L1071.7,1194.4 L1073.3,1195.5 L1074.9,1196.7 L1076.5,1197.8 L1078.1,1199.0 L1079.6,1200.2 L1081.2,1201.4 L1082.8,1202.5 L1084.4,1203.7 L1086.0,1204.9 L1087.6,1206.1 L1089.2,1207.3 L1090.7,1208.5 L1092.3,1209.7 L1093.9,1210.9 L1095.5,1212.1 L1097.1,1213.3 L1098.7,1214.5 L1100.2,1215.7 L1101.8,1216.9 L1103.4,1218.1 L1105.0,1219.3 L1106.6,1220.5 L1108.2,1221.7 L1109.8,1222.9 L1111.4,1224.1 L1113.0,1225.3 L1114.6,1226.5 L1116.3,1227.8 L1117.9,1229.0 L1119.5,1230.2 L1121.1,1231.4 L1122.7,1232.6 L1124.4,1233.8 L1126.0,1235.0 L1127.7,1236.3 L1129.3,1237.5 L1131.0,1238.7 L1132.6,1239.9 L1134.3,1241.0 L1136.0,1242.2 L1137.7,1243.4 L1139.3,1244.6 L1141.0,1245.7 L1142.7,1246.9 L1144.4,1248.0 L1146.1,1249.1 L1147.8,1250.2 L1149.6,1251.3 L1151.3,1252.3 L1153.0,1253.4 L1154.8,1254.4 L1156.5,1255.4 L1158.3,1256.4 L1160.0,1257.3 L1161.8,1258.3 L1163.6,1259.2 L1165.4,1260.1 L1167.2,1260.9 L1169.0,1261.7 L1170.8,1262.5 L1172.6,1263.3 L1174.4,1264.0 L1176.3,1264.7 L1178.1,1265.3 L1179.9,1266.0 L1181.8,1266.5 L1183.7,1267.1 L1185.6,1267.6 L1187.4,1268.0 L1189.3,1268.5 L1191.2,1268.8 L1193.2,1269.2 L1195.1,1269.5 L1197.0,1269.7 L1199.0,1269.9 L1200.9,1270.0 L1202.9,1270.1 L1204.8,1270.2 L1206.8,1270.2 L1208.8,1270.1 L1210.8,1270.0 L1212.8,1269.9 L1214.7,1269.7 L1216.7,1269.4 L1218.7,1269.1 L1220.7,1268.8 L1222.7,1268.4 L1224.6,1268.0 L1226.6,1267.6 L1228.6,1267.1 L1230.5,1266.6 L1232.5,1266.0 L1234.4,1265.5 L1236.3,1264.9 L1238.3,1264.2 L1240.2,1263.6 L1242.1,1262.9 L1244.0,1262.3 L1245.9,1261.6 L1247.7,1260.8 L1249.6,1260.1 L1251.4,1259.3 L1253.3,1258.6 L1255.1,1257.8 L1256.9,1257.0 L1258.8,1256.2 L1260.6,1255.3 L1262.4,1254.5 L1264.2,1253.6 L1266.0,1252.8 L1267.7,1251.9 L1269.5,1251.0 L1271.3,1250.1 L1273.1,1249.2 L1274.8,1248.3 L1276.6,1247.4 L1278.3,1246.5 L1280.1,1245.5 L1281.8,1244.6 L1283.6,1243.6 L1285.3,1242.7 L1287.1,1241.7 L1288.8,1240.8 L1290.6,1239.8 L1292.3,1238.8 L1294.0,1237.9 L1295.8,1236.9 L1297.5,1236.0 L1299.2,1235.0 L1301.0,1234.0 L1302.7,1233.1 L1304.5,1232.1 L1306.2,1231.1 L1308.0,1230.2 L1309.7,1229.2 L1311.5,1228.3 L1313.2,1227.4 L1315.0,1226.4 L1316.8,1225.5 L1318.5,1224.6 L1320.3,1223.7 L1322.1,1222.8 L1323.9,1221.9 L1325.7,1221.0 L1327.5,1220.1 L1329.3,1219.3 L1331.1,1218.4 L1332.9,1217.6 L1334.8,1216.8 L1336.6,1216.0 L1338.5,1215.2 L1340.3,1214.4 L1342.2,1213.6 L1344.1,1212.9 L1346.0,1212.1 L1347.9,1211.4 L1349.8,1210.7 L1351.7,1210.1 L1353.6,1209.4 L1355.5,1208.8 L1357.5,1208.2 L1359.4,1207.6 L1361.4,1207.0 L1363.3,1206.5 L1365.3,1205.9 L1367.3,1205.4 L1369.2,1205.0 L1371.2,1204.5 L1373.2,1204.1 L1375.2,1203.7 L1377.1,1203.3 L1379.1,1203.0 L1381.1,1202.7 L1383.1,1202.4 L1385.1,1202.1 L1387.1,1201.9 L1389.1,1201.7 L1391.1,1201.5 L1393.0,1201.4 L1395.0,1201.3 L1397.0,1201.3 L1399.0,1201.2 L1401.0,1201.2 L1403.0,1201.3 L1405.0,1201.4 L1406.9,1201.5 L1408.9,1201.6 L1410.9,1201.8 L1412.8,1202.1 L1414.8,1202.3 L1416.7,1202.7 L1418.7,1203.0 L1420.6,1203.4 L1422.6,1203.8 L1424.5,1204.3 L1426.4,1204.8 L1428.3,1205.4 L1430.2,1206.0 L1432.1,1206.6 L1434.0,1207.2 L1435.8,1207.9 L1437.7,1208.7 L1439.5,1209.4 L1441.4,1210.2 L1443.2,1211.1 L1445.0,1211.9 L1446.7,1212.8 L1448.5,1213.8 L1450.2,1214.8 L1452.0,1215.8 L1453.7,1216.8 L1455.3,1217.8 L1457.0,1218.9 L1458.6,1220.1 L1460.3,1221.2 L1461.9,1222.4 L1463.4,1223.6 L1465.0,1224.8 L1466.5,1226.1 L1468.0,1227.4 L1469.5,1228.7 L1471.0,1230.0 L1472.5,1231.4 L1473.9,1232.7 L1475.4,1234.1 L1476.8,1235.5 L1478.2,1237.0 L1479.5,1238.4 L1480.9,1239.9 L1482.3,1241.4 L1483.6,1242.9 L1485.0,1244.4 L1486.3,1245.9 L1487.6,1247.4 L1488.9,1249.0 L1490.2,1250.5 L1491.5,1252.1 L1492.7,1253.6 L1494.0,1255.2 L1495.3,1256.8 L1496.5,1258.4 L1497.8,1260.0 L1499.0,1261.6 L1500.3,1263.2 L1501.5,1264.8 L1502.8,1266.4 L1504.0,1268.0 L1505.2,1269.6 L1506.5,1271.2 L1507.7,1272.7 L1508.9,1274.3 L1510.2,1275.9 L1511.4,1277.5 L1512.6,1279.1 L1513.9,1280.7 L1515.1,1282.3 L1516.3,1283.9 L1517.5,1285.4 L1518.8,1287.0 L1520.0,1288.6 L1521.2,1290.2 L1522.4,1291.8 L1523.6,1293.4 L1524.9,1295.0 L1526.1,1296.5 L1527.3,1298.1 L1528.5,1299.7 L1529.7,1301.3 L1530.9,1302.9 L1532.1,1304.5 L1533.3,1306.1 L1534.5,1307.7 L1535.7,1309.3 L1536.9,1310.8 L1538.1,1312.4 L1539.3,1314.0 L1540.4,1315.6 L1541.6,1317.2 L1542.8,1318.8 L1544.0,1320.5 L1545.2,1322.1 L1546.3,1323.7 L1547.5,1325.3 L1548.7,1326.9 L1549.8,1328.5 L1551.0,1330.1 L1552.2,1331.8 L1553.3,1333.4 L1554.5,1335.0 L1555.6,1336.6 L1556.8,1338.3 L1557.9,1339.9 L1559.1,1341.5 L1560.2,1343.2 L1561.4,1344.8 L1562.5,1346.4 L1563.6,1348.1 L1564.8,1349.7 L1565.9,1351.3 L1567.0,1353.0 L1568.2,1354.6 L1569.3,1356.3 L1570.4,1357.9 L1571.6,1359.6 L1572.7,1361.2 L1573.8,1362.9 L1574.9,1364.5 L1576.1,1366.2 L1577.2,1367.8 L1578.3,1369.5 L1579.4,1371.1 L1580.5,1372.8 L1581.7,1374.4 L1582.8,1376.1 L1583.9,1377.8 L1585.0,1379.4 L1586.1,1381.1 L1587.2,1382.7 L1588.4,1384.4 L1589.5,1386.1 L1590.6,1387.7 L1591.7,1389.4 L1592.8,1391.0 L1593.9,1392.7 L1595.0,1394.4 L1596.1,1396.0 L1597.3,1397.7 L1598.4,1399.4 L1599.5,1401.0 L1600.6,1402.7 L1601.7,1404.4 L1602.8,1406.0 L1603.9,1407.7 L1605.0,1409.3 L1606.1,1411.0 L1607.3,1412.7 L1608.4,1414.3 L1609.5,1416.0 L1610.6,1417.7 L1611.7,1419.3 L1612.8,1421.0 L1614.0,1422.6 L1615.1,1424.3 L1616.2,1426.0 L1617.3,1427.6 L1618.4,1429.3 L1619.5,1430.9 L1620.7,1432.6 L1621.8,1434.2 L1622.9,1435.9 L1624.0,1437.5 L1625.2,1439.2 L1626.3,1440.8 L1627.4,1442.5 L1628.6,1444.1 L1629.7,1445.8 L1630.8,1447.4 L1632.0,1449.1 L1633.1,1450.7 L1634.2,1452.4 L1635.4,1454.0 L1636.5,1455.7 L1637.7,1457.3 L1638.8,1458.9 L1640.0,1460.6 L1641.1,1462.2 L1642.3,1463.8 L1643.4,1465.5 L1644.6,1467.1 L1645.7,1468.7 L1646.9,1470.4 L1648.1,1472.0 L1649.2,1473.6 L1650.4,1475.2 L1651.6,1476.8 L1652.8,1478.5 L1653.9,1480.1 L1655.1,1481.7 L1656.3,1483.3 L1657.5,1484.9 L1658.7,1486.5 L1659.9,1488.1 L1661.1,1489.7 L1662.2,1491.3 L1663.4,1492.9 L1664.7,1494.5 L1665.9,1496.1 L1667.1,1497.7 L1668.3,1499.3 L1669.5,1500.9 L1670.7,1502.4 L1671.9,1504.0 L1673.2,1505.6 L1674.4,1507.2 L1675.6,1508.7 L1676.9,1510.3 L1678.1,1511.9 L1679.4,1513.4 L1680.6,1515.0 L1681.9,1516.5 L1683.1,1518.1 L1684.4,1519.6 L1685.7,1521.2 L1686.9,1522.7 L1688.2,1524.3 L1689.5,1525.8 L1690.8,1527.3 L1692.1,1528.8 L1693.3,1530.4 L1694.6,1531.9 L1695.9,1533.4 L1697.2,1534.9 L1698.6,1536.4 L1699.9,1537.9 L1701.2,1539.4 L1702.5,1540.9 L1703.8,1542.4 L1705.2,1543.9 L1706.5,1545.4 L1707.9,1546.9 L1709.2,1548.4 L1710.6,1549.9 L1711.9,1551.3 L1713.3,1552.8 L1714.7,1554.2 L1716.0,1555.7 L1717.4,1557.2 L1718.8,1558.6 L1720.2,1560.0 L1721.6,1561.5 L1723.0,1562.9 L1724.4,1564.3 L1725.8,1565.7 L1727.3,1567.2 L1728.7,1568.6 L1730.1,1570.0 L1731.5,1571.4 L1733.0,1572.7 L1734.4,1574.1 L1735.9,1575.5 L1737.4,1576.9 L1738.8,1578.2 L1740.3,1579.6 L1741.8,1580.9 L1743.3,1582.3 L1744.8,1583.6 L1746.3,1584.9 L1747.8,1586.2 L1749.3,1587.5 L1750.8,1588.8 L1752.3,1590.1 L1753.8,1591.4 L1755.4,1592.7 L1756.9,1593.9 L1758.5,1595.2 L1760.0,1596.4 L1761.6,1597.7 L1763.2,1598.9 L1764.7,1600.1 L1766.3,1601.3 L1767.9,1602.5 L1769.5,1603.7 L1771.1,1604.9 L1772.7,1606.0 L1774.4,1607.2 L1776.0,1608.3 L1777.6,1609.5 L1779.3,1610.6 L1780.9,1611.7 L1782.6,1612.8 L1784.2,1613.9 L1785.9,1615.0 L1787.6,1616.1 L1789.3,1617.1 L1790.9,1618.2 L1792.6,1619.2 L1794.4,1620.2 L1796.1,1621.2 L1797.8,1622.2 L1799.5,1623.2 L1801.3,1624.2 L1803.0,1625.2 L1804.8,1626.1 L1806.5,1627.1 L1808.3,1628.0 L1810.1,1628.9 L1811.9,1629.8 L1813.7,1630.7 L1815.5,1631.5 L1817.3,1632.4 L1819.1,1633.2 L1820.9,1634.1 L1822.7,1634.9 L1824.6,1635.7 L1826.4,1636.5 L1828.3,1637.2 L1830.1,1638.0 L1832.0,1638.8 L1833.9,1639.5 L1835.7,1640.2 L1837.6,1641.0 L1839.5,1641.7 L1841.4,1642.4 L1843.3,1643.0 L1845.2,1643.7 L1847.1,1644.4 L1849.0,1645.0 L1850.9,1645.7 L1852.8,1646.3 L1854.7,1646.9 L1856.7,1647.5 L1858.6,1648.1 L1860.5,1648.7 L1862.5,1649.2 L1864.4,1649.8 L1866.3,1650.3 L1868.3,1650.9 L1870.2,1651.4 L1872.2,1651.9 L1874.1,1652.4 L1876.1,1652.9 L1878.0,1653.4 L1879.9,1653.9 L1881.9,1654.4 L1883.9,1654.8 L1885.8,1655.3 L1887.8,1655.7 L1889.7,1656.2 L1891.7,1656.6 L1893.6,1657.0 L1895.6,1657.4 L1897.5,1657.8 L1899.5,1658.2 L1901.4,1658.5 L1903.4,1658.9 L1905.3,1659.3 L1907.3,1659.6 L1909.2,1660.0 L1911.1,1660.3 L1913.1,1660.6 L1915.0,1660.9 L1917.0,1661.3 L1918.9,1661.6" stroke="#ff0000" stroke-width="6"/>
<path d="M248.1,1486.6 L250.0,1486.0 L251.9,1485.4 L253.8,1484.9 L255.7,1484.3 L257.6,1483.7 L259.5,1483.1 L261.4,1482.6 L263.3,1482.0 L265.2,1481.4 L267.1,1480.9 L269.0,1480.3 L270.9,1479.8 L272.8,1479.2 L274.7,1478.7 L276.7,1478.1 L278.6,1477.6 L280.5,1477.0 L282.4,1476.5 L284.4,1475.9 L286.3,1475.4 L288.2,1474.8 L290.1,1474.3 L292.1,1473.8 L294.0,1473.2 L295.9,1472.7 L297.9,1472.1 L299.8,1471.6 L301.7,1471.0 L303.7,1470.5 L305.6,1469.9 L307.5,1469.4 L309.4,1468.8 L311.4,1468.2 L313.3,1467.7 L315.2,1467.1 L317.2,1466.6 L319.1,1466.0 L321.0,1465.4 L322.9,1464.8 L324.8,1464.2 L326.8,1463.7 L328.7,1463.1 L330.6,1462.5 L332.5,1461.9 L334.4,1461.3 L336.3,1460.6 L338.2,1460.0 L340.1,1459.4 L342.0,1458.8 L343.9,1458.1 L345.8,1457.5 L347.7,1456.8 L349.6,1456.2 L351.5,1455.5 L353.4,1454.8 L355.3,1454.1 L357.1,1453.5 L359.0,1452.8 L360.9,1452.0 L362.7,1451.3 L364.6,1450.6 L366.4,1449.9 L368.3,1449.1 L370.1,1448.4 L372.0,1447.6 L373.8,1446.9 L375.6,1446.1 L377.5,1445.3 L379.3,1444.5 L381.1,1443.7 L382.9,1442.9 L384.7,1442.1 L386.6,1441.3 L388.4,1440.4 L390.2,1439.6 L392.0,1438.7 L393.8,1437.9 L395.5,1437.0 L397.3,1436.2 L399.1,1435.3 L400.9,1434.4 L402.7,1433.5 L404.5,1432.6 L406.2,1431.7 L408.0,1430.8 L409.8,1429.9 L411.5,1428.9 L413.3,1428.0 L415.0,1427.1 L416.8,1426.1 L418.5,1425.2 L420.3,1424.2 L422.0,1423.3 L423.8,1422.3 L425.5,1421.3 L427.2,1420.3 L429.0,1419.3 L430.7,1418.3 L432.4,1417.3 L434.1,1416.3 L435.9,1415.3 L437.6,1414.3 L439.3,1413.3 L441.0,1412.3 L442.7,1411.2 L444.4,1410.2 L446.1,1409.1 L447.8,1408.1 L449.5,1407.0 L451.2,1406.0 L452.9,1404.9 L454.6,1403.8 L456.3,1402.8 L458.0,1401.7 L459.7,1400.6 L461.4,1399.5 L463.0,1398.4 L464.7,1397.3 L466.4,1396.2 L468.1,1395.1 L469.7,1394.0 L471.4,1392.9 L473.1,1391.8 L474.8,1390.7 L476.4,1389.6 L478.1,1388.4 L479.8,1387.3 L481.4,1386.2 L483.1,1385.1 L484.7,1383.9 L486.4,1382.8 L488.1,1381.7 L489.7,1380.5 L491.4,1379.4 L493.1,1378.3 L494.7,1377.1 L496.4,1376.0 L498.0,1374.9 L499.7,1373.8 L501.4,1372.6 L503.0,1371.5 L504.7,1370.4 L506.4,1369.2 L508.0,1368.1 L509.7,1367.0 L511.4,1365.9 L513.0,1364.7 L514.7,1363.6 L516.4,1362.5 L518.0,1361.4 L519.7,1360.3 L521.4,1359.2 L523.1,1358.1 L524.8,1357.0 L526.4,1355.9 L528.1,1354.8 L529.8,1353.8 L531.5,1352.7 L533.2,1351.6 L534.9,1350.5 L536.6,1349.5 L538.3,1348.4 L540.0,1347.4 L541.7,1346.3 L543.4,1345.3 L545.1,1344.3 L546.8,1343.3 L548.5,1342.3 L550.3,1341.3 L552.0,1340.3 L553.7,1339.3 L555.5,1338.3 L557.2,1337.3 L558.9,1336.4 L560.7,1335.4 L562.4,1334.5 L564.2,1333.5 L566.0,1332.6 L567.7,1331.7 L569.5,1330.8 L571.3,1329.9 L573.1,1329.0 L574.8,1328.1 L576.6,1327.3 L578.4,1326.4 L580.2,1325.6 L582.1,1324.8 L583.9,1324.0 L585.7,1323.2 L587.5,1322.4 L589.3,1321.6 L591.2,1320.8 L593.0,1320.1 L594.9,1319.3 L596.7,1318.6 L598.6,1317.9 L600.4,1317.2 L602.3,1316.5 L604.1,1315.8 L606.0,1315.1 L607.9,1314.5 L609.8,1313.8 L611.7,1313.2 L613.6,1312.6 L615.4,1311.9 L617.3,1311.3 L619.2,1310.8 L621.2,1310.2 L623.1,1309.6 L625.0,1309.1 L626.9,1308.5 L628.8,1308.0 L630.7,1307.5 L632.7,1307.0 L634.6,1306.5 L636.5,1306.0 L638.5,1305.5 L640.4,1305.1 L642.3,1304.7 L644.3,1304.2 L646.2,1303.8 L648.2,1303.4 L650.1,1303.0 L652.1,1302.6 L654.0,1302.3 L656.0,1301.9 L658.0,1301.6 L659.9,1301.3 L661.9,1300.9 L663.9,1300.6 L665.8,1300.3 L667.8,1300.1 L669.8,1299.8 L671.8,1299.5 L673.8,1299.3 L675.7,1299.1 L677.7,1298.9 L679.7,1298.7 L681.7,1298.5 L683.7,1298.3 L685.7,1298.1 L687.7,1298.0 L689.6,1297.9 L691.6,1297.7 L693.6,1297.6 L695.6,1297.5 L697.6,1297.4 L699.6,1297.3 L701.6,1297.3 L703.6,1297.2 L705.6,1297.1 L707.6,1297.0 L709.6,1297.0 L711.6,1296.9 L713.6,1296.9 L715.6,1296.8 L717.6,1296.7 L719.6,1296.7 L721.6,1296.6 L723.6,1296.5 L725.6,1296.5 L727.6,1296.4 L729.5,1296.3 L731.5,1296.2 L733.5,1296.1 L735.5,1296.0 L737.5,1295.8 L739.5,1295.7 L741.5,1295.5 L743.5,1295.4 L745.4,1295.2 L747.4,1295.0 L749.4,1294.7 L751.4,1294.5 L753.3,1294.2 L755.3,1294.0 L757.3,1293.7 L759.2,1293.3 L761.2,1293.0 L763.2,1292.6 L765.1,1292.2 L767.1,1291.8 L769.0,1291.4 L771.0,1290.9 L772.9,1290.4 L774.8,1289.9 L776.8,1289.3 L778.7,1288.8 L780.6,1288.2 L782.6,1287.6 L784.5,1287.0 L786.4,1286.3 L788.3,1285.7 L790.2,1285.0 L792.1,1284.3 L794.0,1283.6 L795.9,1282.8 L797.7,1282.1 L799.6,1281.3 L801.5,1280.5 L803.3,1279.7 L805.2,1278.9 L807.0,1278.1 L808.9,1277.3 L810.7,1276.4 L812.5,1275.5 L814.3,1274.7 L816.1,1273.8 L817.9,1272.9 L819.7,1272.0 L821.5,1271.1 L823.3,1270.1 L825.0,1269.2 L826.8,1268.3 L828.5,1267.3 L830.3,1266.3 L832.0,1265.4 L833.7,1264.4 L835.4,1263.4 L837.1,1262.4 L838.9,1261.4 L840.5,1260.4 L842.2,1259.3 L843.9,1258.3 L845.6,1257.3 L847.3,1256.2 L848.9,1255.2 L850.6,1254.1 L852.3,1253.0 L853.9,1251.9 L855.5,1250.9 L857.2,1249.8 L858.8,1248.7 L860.5,1247.6 L862.1,1246.4 L863.7,1245.3 L865.3,1244.2 L866.9,1243.1 L868.5,1241.9 L870.2,1240.8 L871.8,1239.6 L873.4,1238.5 L875.0,1237.3 L876.5,1236.1 L878.1,1234.9 L879.7,1233.8 L881.3,1232.6 L882.9,1231.4 L884.5,1230.2 L886.1,1229.0 L887.6,1227.8 L889.2,1226.6 L890.8,1225.3 L892.4,1224.1 L893.9,1222.9 L895.5,1221.7 L897.1,1220.4 L898.7,1219.2 L900.2,1218.0 L901.8,1216.7 L903.4,1215.5 L905.0,1214.2 L906.5,1213.0 L908.1,1211.7 L909.7,1210.4 L911.3,1209.2 L912.8,1207.9 L914.4,1206.6 L916.0,1205.4 L917.6,1204.1 L919.1,1202.8 L920.7,1201.5 L922.3,1200.3 L923.9,1199.0 L925.5,1197.7 L927.1,1196.4 L928.7,1195.2 L930.3,1193.9 L931.9,1192.6 L933.5,1191.4 L935.1,1190.1 L936.7,1188.9 L938.3,1187.6 L939.9,1186.4 L941.5,1185.1 L943.2,1183.9 L944.8,1182.7 L946.4,1181.4 L948.0,1180.2 L949.7,1179.0 L951.3,1177.8 L953.0,1176.6 L954.6,1175.5 L956.3,1174.3 L957.9,1173.2 L959.6,1172.0 L961.3,1170.9 L962.9,1169.8 L964.6,1168.7 L966.3,1167.6 L968.0,1166.5 L969.7,1165.4 L971.4,1164.4 L973.1,1163.3 L974.8,1162.3 L976.5,1161.3 L978.2,1160.3 L979.9,1159.3 L981.7,1158.4 L983.4,1157.5 L985.2,1156.5 L986.9,1155.6 L988.7,1154.8 L990.5,1153.9 L992.2,1153.1 L994.0,1152.3 L995.8,1151.5 L997.6,1150.7 L999.4,1149.9 L1001.2,1149.2 L1003.0,1148.5 L1004.9,1147.8 L1006.7,1147.2 L1008.5,1146.6 L1010.4,1146.0 L1012.3,1145.4 L1014.1,1144.8 L1016.0,1144.3 L1017.9,1143.8 L1019.8,1143.4 L1021.7,1142.9 L1023.6,1142.5 L1025.5,1142.1 L1027.5,1141.8 L1029.4,1141.5 L1031.4,1141.2 L1033.3,1140.9 L1035.3,1140.7 L1037.3,1140.5 L1039.2,1140.3 L1041.2,1140.2 L1043.2,1140.1 L1045.2,1140.0 L1047.2,1140.0 L1049.2,1140.0 L1051.2,1140.0 L1053.2,1140.0 L1055.2,1140.1 L1057.2,1140.2 L1059.2,1140.4 L1061.2,1140.5 L1063.2,1140.7 L1065.2,1141.0 L1067.2,1141.2 L1069.2,1141.5 L1071.2,1141.9 L1073.2,1142.2 L1075.1,1142.6 L1077.1,1143.0 L1079.1,1143.5 L1081.0,1144.0 L1083.0,1144.5 L1084.9,1145.0 L1086.8,1145.6 L1088.7,1146.2 L1090.6,1146.8 L1092.5,1147.5 L1094.4,1148.2 L1096.2,1148.9 L1098.1,1149.6 L1099.9,1150.4 L1101.8,1151.2 L1103.6,1152.0 L1105.4,1152.8 L1107.2,1153.7 L1109.0,1154.6 L1110.8,1155.5 L1112.6,1156.4 L1114.3,1157.3 L1116.1,1158.3 L1117.8,1159.3 L1119.6,1160.3 L1121.3,1161.3 L1123.0,1162.3 L1124.8,1163.4 L1126.5,1164.4 L1128.2,1165.5 L1129.9,1166.6 L1131.5,1167.7 L1133.2,1168.8 L1134.9,1169.9 L1136.6,1171.0 L1138.2,1172.2 L1139.9,1173.3 L1141.5,1174.5 L1143.1,1175.6 L1144.8,1176.8 L1146.4,1178.0 L1148.0,1179.1 L1149.6,1180.3 L1151.3,1181.5 L1152.9,1182.7 L1154.5,1183.9 L1156.1,1185.2 L1157.7,1186.4 L1159.2,1187.6 L1160.8,1188.8 L1162.4,1190.0 L1164.0,1191.3 L1165.6,1192.5 L1167.1,1193.7 L1168.7,1195.0 L1170.3,1196.2 L1171.9,1197.5 L1173.4,1198.7 L1175.0,1200.0 L1176.6,1201.2 L1178.1,1202.4 L1179.7,1203.7 L1181.3,1204.9 L1182.8,1206.2 L1184.4,1207.4 L1186.0,1208.6 L1187.6,1209.9 L1189.1,1211.1 L1190.7,1212.3 L1192.3,1213.6 L1193.9,1214.8 L1195.4,1216.0 L1197.0,1217.2 L1198.6,1218.4 L1200.2,1219.6 L1201.8,1220.8 L1203.4,1222.0 L1205.0,1223.2 L1206.6,1224.4 L1208.2,1225.5 L1209.8,1226.7 L1211.5,1227.9 L1213.1,1229.0 L1214.7,1230.1 L1216.4,1231.3 L1218.0,1232.4 L1219.7,1233.5 L1221.3,1234.6 L1223.0,1235.7 L1224.7,1236.8 L1226.3,1237.8 L1228.0,1238.9 L1229.7,1239.9 L1231.4,1240.9 L1233.2,1242.0 L1234.9,1243.0 L1236.6,1243.9 L1238.4,1244.9 L1240.1,1245.9 L1241.9,1246.8 L1243.7,1247.8 L1245.4,1248.7 L1247.2,1249.6 L1249.0,1250.4 L1250.9,1251.3 L1252.7,1252.2 L1254.5,1253.0 L1256.4,1253.8 L1258.2,1254.6 L1260.1,1255.4 L1262.0,1256.1 L1263.8,1256.8 L1265.7,1257.5 L1267.6,1258.2 L1269.5,1258.9 L1271.4,1259.5 L1273.4,1260.1 L1275.3,1260.7 L1277.2,1261.2 L1279.1,1261.8 L1281.1,1262.3 L1283.0,1262.7 L1285.0,1263.2 L1286.9,1263.6 L1288.9,1263.9 L1290.8,1264.3 L1292.8,1264.6 L1294.8,1264.9 L1296.7,1265.1 L1298.7,1265.3 L1300.7,1265.5 L1302.6,1265.6 L1304.6,1265.7 L1306.6,1265.8 L1308.6,1265.8 L1310.5,1265.8 L1312.5,1265.7 L1314.5,1265.7 L1316.5,1265.6 L1318.4,1265.4 L1320.4,1265.2 L1322.4,1265.0 L1324.3,1264.8 L1326.3,1264.5 L1328.2,1264.2 L1330.2,1263.9 L1332.2,1263.6 L1334.1,1263.2 L1336.0,1262.8 L1338.0,1262.3 L1339.9,1261.9 L1341.9,1261.4 L1343.8,1260.9 L1345.7,1260.3 L1347.6,1259.8 L1349.5,1259.2 L1351.4,1258.6 L1353.3,1258.0 L1355.2,1257.3 L1357.1,1256.7 L1359.0,1256.0 L1360.8,1255.3 L1362.7,1254.6 L1364.5,1253.8 L1366.4,1253.1 L1368.2,1252.3 L1370.1,1251.5 L1371.9,1250.7 L1373.7,1249.9 L1375.5,1249.1 L1377.3,1248.2 L1379.2,1247.4 L1381.0,1246.5 L1382.8,1245.6 L1384.6,1244.8 L1386.4,1243.9 L1388.2,1243.0 L1389.9,1242.1 L1391.7,1241.2 L1393.5,1240.3 L1395.3,1239.3 L1397.1,1238.4 L1398.9,1237.5 L1400.7,1236.6 L1402.5,1235.7 L1404.3,1234.7 L1406.0,1233.8 L1407.8,1232.9 L1409.6,1232.0 L1411.4,1231.1 L1413.2,1230.2 L1415.0,1229.3 L1416.8,1228.4 L1418.6,1227.5 L1420.4,1226.6 L1422.3,1225.7 L1424.1,1224.8 L1425.9,1224.0 L1427.7,1223.1 L1429.6,1222.3 L1431.4,1221.4 L1433.3,1220.6 L1435.1,1219.8 L1437.0,1219.0 L1438.8,1218.3 L1440.7,1217.5 L1442.6,1216.8 L1444.4,1216.1 L1446.3,1215.4 L1448.2,1214.7 L1450.1,1214.0 L1452.0,1213.3 L1453.9,1212.7 L1455.8,1212.1 L1457.7,1211.5 L1459.7,1211.0 L1461.6,1210.4 L1463.5,1209.9 L1465.4,1209.4 L1467.4,1209.0 L1469.3,1208.5 L1471.3,1208.1 L1473.2,1207.7 L1475.2,1207.4 L1477.1,1207.1 L1479.1,1206.8 L1481.1,1206.5 L1483.1,1206.3 L1485.0,1206.1 L1487.0,1205.9 L1489.0,1205.8 L1491.0,1205.7 L1493.0,1205.6 L1495.0,1205.6 L1497.0,1205.6 L1499.0,1205.6 L1501.0,1205.7 L1503.0,1205.8 L1505.0,1205.9 L1507.0,1206.1 L1509.0,1206.3 L1510.9,1206.5 L1512.9,1206.8 L1514.9,1207.1 L1516.9,1207.5 L1518.8,1207.8 L1520.8,1208.3 L1522.7,1208.7 L1524.7,1209.2 L1526.6,1209.7 L1528.5,1210.2 L1530.4,1210.8 L1532.3,1211.4 L1534.2,1212.1 L1536.0,1212.8 L1537.9,1213.5 L1539.7,1214.3 L1541.5,1215.0 L1543.3,1215.9 L1545.1,1216.7 L1546.9,1217.6 L1548.6,1218.5 L1550.4,1219.5 L1552.1,1220.5 L1553.8,1221.5 L1555.5,1222.5 L1557.2,1223.5 L1558.9,1224.6 L1560.6,1225.7 L1562.2,1226.9 L1563.8,1228.0 L1565.5,1229.2 L1567.1,1230.3 L1568.7,1231.6 L1570.3,1232.8 L1571.9,1234.0 L1573.5,1235.3 L1575.0,1236.5 L1576.6,1237.8 L1578.1,1239.1 L1579.7,1240.4 L1581.2,1241.7 L1582.7,1243.1 L1584.2,1244.4 L1585.7,1245.7 L1587.2,1247.1 L1588.7,1248.4 L1590.2,1249.8 L1591.7,1251.2 L1593.1,1252.5 L1594.6,1253.9 L1596.0,1255.3 L1597.5,1256.7 L1598.9,1258.1 L1600.4,1259.5 L1601.8,1260.9 L1603.2,1262.3 L1604.6,1263.7 L1606.0,1265.1 L1607.4,1266.5 L1608.8,1268.0 L1610.2,1269.4 L1611.6,1270.9 L1612.9,1272.3 L1614.3,1273.8 L1615.7,1275.2 L1617.0,1276.7 L1618.4,1278.1 L1619.7,1279.6 L1621.1,1281.1 L1622.4,1282.6 L1623.7,1284.0 L1625.1,1285.5 L1626.4,1287.0 L1627.7,1288.5 L1629.0,1290.0 L1630.3,1291.5 L1631.6,1293.0 L1632.9,1294.6 L1634.2,1296.1 L1635.4,1297.6 L1636.7,1299.1 L1638.0,1300.7 L1639.3,1302.2 L1640.5,1303.7 L1641.8,1305.3 L1643.0,1306.8 L1644.3,1308.4 L1645.5,1309.9 L1646.8,1311.5 L1648.0,1313.0 L1649.2,1314.6 L1650.5,1316.1 L1651.7,1317.7 L1652.9,1319.3 L1654.1,1320.9 L1655.4,1322.4 L1656.6,1324.0 L1657.8,1325.6 L1659.0,1327.2 L1660.2,1328.8 L1661.4,1330.4 L1662.6,1332.0 L1663.8,1333.6 L1665.0,1335.2 L1666.1,1336.8 L1667.3,1338.4 L1668.5,1340.0 L1669.7,1341.6 L1670.8,1343.2 L1672.0,1344.8 L1673.2,1346.4 L1674.4,1348.0 L1675.5,1349.7 L1676.7,1351.3 L1677.8,1352.9 L1679.0,1354.5 L1680.2,1356.2 L1681.3,1357.8 L1682.5,1359.4 L1683.6,1361.1 L1684.8,1362.7 L1685.9,1364.3 L1687.1,1366.0 L1688.2,1367.6 L1689.3,1369.2 L1690.5,1370.9 L1691.6,1372.5 L1692.8,1374.2 L1693.9,1375.8 L1695.0,1377.4 L1696.2,1379.1 L1697.3,1380.7 L1698.4,1382.4 L1699.6,1384.0 L1700.7,1385.7 L1701.8,1387.3 L1703.0,1389.0 L1704.1,1390.6 L1705.2,1392.3 L1706.3,1393.9 L1707.5,1395.6 L1708.6,1397.2 L1709.7,1398.9 L1710.9,1400.5 L1712.0,1402.2 L1713.1,1403.9 L1714.2,1405.5 L1715.4,1407.2 L1716.5,1408.8 L1717.6,1410.5 L1718.8,1412.1 L1719.9,1413.8 L1721.0,1415.4 L1722.2,1417.1 L1723.3,1418.7 L1724.4,1420.4 L1725.6,1422.0 L1726.7,1423.7 L1727.8,1425.3 L1729.0,1427.0 L1730.1,1428.6 L1731.3,1430.3 L1732.4,1431.9 L1733.6,1433.5 L1734.7,1435.2 L1735.9,1436.8 L1737.0,1438.5 L1738.2,1440.1 L1739.3,1441.7 L1740.5,1443.4 L1741.6,1445.0 L1742.8,1446.6 L1743.9,1448.3 L1745.1,1449.9 L1746.3,1451.5 L1747.4,1453.2 L1748.6,1454.8 L1749.8,1456.4 L1751.0,1458.0 L1752.1,1459.7 L1753.3,1461.3 L1754.5,1462.9 L1755.7,1464.5 L1756.9,1466.1 L1758.1,1467.7 L1759.3,1469.3 L1760.5,1470.9 L1761.7,1472.5 L1762.9,1474.1 L1764.1,1475.7 L1765.3,1477.3 L1766.5,1478.9 L1767.7,1480.5 L1769.0,1482.1 L1770.2,1483.7 L1771.4,1485.2 L1772.7,1486.8 L1773.9,1488.4 L1775.1,1490.0 L1776.4,1491.5 L1777.6,1493.1 L1778.9,1494.7 L1780.2,1496.2 L1781.4,1497.8 L1782.7,1499.3 L1783.9,1500.9 L1785.2,1502.4 L1786.5,1504.0 L1787.8,1505.5 L1789.1,1507.0 L1790.4,1508.6 L1791.6,1510.1 L1792.9,1511.6 L1794.2,1513.1 L1795.5,1514.6 L1796.9,1516.2 L1798.2,1517.7 L1799.5,1519.2 L1800.8,1520.7 L1802.1,1522.2 L1803.5,1523.7 L1804.8,1525.1 L1806.1,1526.6 L1807.5,1528.1 L1808.8,1529.6 L1810.2,1531.1 L1811.5,1532.5 L1812.9,1534.0 L1814.3,1535.4 L1815.6,1536.9 L1817.0,1538.3 L1818.4,1539.8 L1819.8,1541.2 L1821.1,1542.7 L1822.5,1544.1 L1823.9,1545.5 L1825.3,1546.9 L1826.7,1548.4 L1828.1,1549.8 L1829.6,1551.2 L1831.0,1552.6 L1832.4,1554.0 L1833.8,1555.4 L1835.3,1556.7 L1836.7,1558.1 L1838.1,1559.5 L1839.6,1560.9 L1841.0,1562.2 L1842.5,1563.6 L1844.0,1564.9 L1845.4,1566.3 L1846.9,1567.6 L1848.4,1569.0 L1849.9,1570.3 L1851.4,1571.6 L1852.9,1572.9 L1854.3,1574.2 L1855.9,1575.5 L1857.4,1576.8 L1858.9,1578.1 L1860.4,1579.4 L1861.9,1580.7 L1863.4,1582.0 L1865.0,1583.3 L1866.5,1584.5 L1868.1,1585.8 L1869.6,1587.0 L1871.2,1588.3 L1872.7,1589.5 L1874.3,1590.7 L1875.9,1592.0 L1877.4,1593.2 L1879.0,1594.4 L1880.6,1595.6 L1882.2,1596.8 L1883.8,1598.0 L1885.4,1599.2 L1887.0,1600.3 L1888.6,1601.5 L1890.3,1602.7 L1891.9,1603.8 L1893.5,1605.0 L1895.2,1606.1 L1896.8,1607.3 L1898.4,1608.4 L1900.1,1609.5 L1901.8,1610.6 L1903.4,1611.7 L1905.1,1612.8 L1906.8,1613.9 L1908.5,1615.0 L1910.2,1616.1 L1911.9,1617.1 L1913.6,1618.2 L1915.3,1619.3 L1917.0,1620.3 L1918.7,1621.3" stroke="#000000" stroke-width="6" stroke-dasharray="12 7"/>
<path d="M248.0,1477.1 L250.0,1476.5 L251.9,1475.9 L253.8,1475.4 L255.7,1474.8 L257.6,1474.2 L259.5,1473.6 L261.4,1473.0 L263.3,1472.4 L265.2,1471.7 L267.1,1471.1 L269.0,1470.5 L270.9,1469.8 L272.8,1469.2 L274.7,1468.5 L276.6,1467.9 L278.5,1467.2 L280.4,1466.5 L282.2,1465.8 L284.1,1465.1 L286.0,1464.4 L287.9,1463.7 L289.7,1463.0 L291.6,1462.3 L293.4,1461.6 L295.3,1460.8 L297.2,1460.1 L299.0,1459.4 L300.9,1458.6 L302.7,1457.8 L304.6,1457.1 L306.4,1456.3 L308.2,1455.5 L310.1,1454.7 L311.9,1453.9 L313.7,1453.1 L315.6,1452.3 L317.4,1451.5 L319.2,1450.7 L321.0,1449.9 L322.8,1449.0 L324.7,1448.2 L326.5,1447.3 L328.3,1446.5 L330.1,1445.6 L331.9,1444.8 L333.7,1443.9 L335.5,1443.0 L337.3,1442.1 L339.0,1441.2 L340.8,1440.3 L342.6,1439.4 L344.4,1438.5 L346.2,1437.6 L347.9,1436.7 L349.7,1435.8 L351.5,1434.8 L353.2,1433.9 L355.0,1432.9 L356.8,1432.0 L358.5,1431.0 L360.3,1430.0 L362.0,1429.1 L363.7,1428.1 L365.5,1427.1 L367.2,1426.1 L369.0,1425.1 L370.7,1424.1 L372.4,1423.1 L374.1,1422.1 L375.9,1421.1 L377.6,1420.0 L379.3,1419.0 L381.0,1418.0 L382.7,1416.9 L384.4,1415.9 L386.1,1414.8 L387.8,1413.8 L389.5,1412.7 L391.2,1411.7 L392.9,1410.6 L394.6,1409.5 L396.3,1408.4 L398.0,1407.4 L399.7,1406.3 L401.3,1405.2 L403.0,1404.1 L404.7,1403.0 L406.4,1401.9 L408.1,1400.8 L409.7,1399.7 L411.4,1398.6 L413.1,1397.5 L414.8,1396.4 L416.4,1395.3 L418.1,1394.2 L419.8,1393.1 L421.5,1392.0 L423.1,1390.9 L424.8,1389.8 L426.5,1388.7 L428.1,1387.6 L429.8,1386.5 L431.5,1385.4 L433.2,1384.3 L434.8,1383.2 L436.5,1382.1 L438.2,1381.0 L439.9,1379.9 L441.5,1378.8 L443.2,1377.7 L444.9,1376.6 L446.6,1375.5 L448.3,1374.5 L450.0,1373.4 L451.6,1372.3 L453.3,1371.2 L455.0,1370.1 L456.7,1369.1 L458.4,1368.0 L460.1,1366.9 L461.8,1365.9 L463.5,1364.8 L465.2,1363.8 L466.9,1362.7 L468.6,1361.7 L470.3,1360.7 L472.0,1359.6 L473.7,1358.6 L475.5,1357.6 L477.2,1356.6 L478.9,1355.6 L480.6,1354.6 L482.4,1353.6 L484.1,1352.6 L485.8,1351.6 L487.6,1350.6 L489.3,1349.7 L491.1,1348.7 L492.9,1347.8 L494.6,1346.8 L496.4,1345.9 L498.1,1345.0 L499.9,1344.0 L501.7,1343.1 L503.5,1342.2 L505.3,1341.3 L507.1,1340.5 L508.8,1339.6 L510.6,1338.7 L512.4,1337.9 L514.3,1337.0 L516.1,1336.2 L517.9,1335.3 L519.7,1334.5 L521.5,1333.7 L523.3,1332.9 L525.2,1332.1 L527.0,1331.3 L528.8,1330.6 L530.7,1329.8 L532.5,1329.1 L534.4,1328.3 L536.2,1327.6 L538.1,1326.9 L539.9,1326.2 L541.8,1325.5 L543.7,1324.8 L545.5,1324.1 L547.4,1323.5 L549.3,1322.8 L551.2,1322.2 L553.1,1321.5 L555.0,1320.9 L556.9,1320.3 L558.8,1319.7 L560.7,1319.2 L562.6,1318.6 L564.5,1318.1 L566.4,1317.5 L568.3,1317.0 L570.2,1316.5 L572.2,1316.0 L574.1,1315.5 L576.0,1315.0 L578.0,1314.6 L579.9,1314.2 L581.8,1313.7 L583.8,1313.3 L585.7,1312.9 L587.7,1312.5 L589.7,1312.2 L591.6,1311.8 L593.6,1311.5 L595.6,1311.1 L597.5,1310.8 L599.5,1310.5 L601.5,1310.3 L603.5,1310.0 L605.5,1309.8 L607.4,1309.5 L609.4,1309.3 L611.4,1309.1 L613.4,1308.9 L615.5,1308.8 L617.5,1308.6 L619.5,1308.5 L621.5,1308.3 L623.5,1308.2 L625.5,1308.1 L627.6,1308.1 L629.6,1308.0 L631.6,1307.9 L633.6,1307.9 L635.7,1307.8 L637.7,1307.8 L639.7,1307.7 L641.8,1307.7 L643.8,1307.7 L645.8,1307.6 L647.9,1307.6 L649.9,1307.6 L651.9,1307.6 L653.9,1307.5 L656.0,1307.5 L658.0,1307.5 L660.0,1307.4 L662.0,1307.4 L664.1,1307.4 L666.1,1307.3 L668.1,1307.2 L670.1,1307.2 L672.1,1307.1 L674.1,1307.0 L676.1,1306.9 L678.1,1306.8 L680.1,1306.6 L682.1,1306.5 L684.1,1306.3 L686.1,1306.2 L688.1,1306.0 L690.1,1305.8 L692.0,1305.5 L694.0,1305.3 L695.9,1305.0 L697.9,1304.7 L699.8,1304.4 L701.8,1304.0 L703.7,1303.7 L705.6,1303.3 L707.5,1302.8 L709.4,1302.4 L711.3,1301.9 L713.2,1301.4 L715.1,1300.9 L717.0,1300.3 L718.8,1299.7 L720.7,1299.0 L722.5,1298.4 L724.4,1297.7 L726.2,1297.0 L728.0,1296.2 L729.8,1295.4 L731.6,1294.6 L733.4,1293.8 L735.2,1292.9 L737.0,1292.1 L738.8,1291.2 L740.5,1290.2 L742.3,1289.3 L744.0,1288.3 L745.8,1287.3 L747.5,1286.3 L749.2,1285.3 L751.0,1284.2 L752.7,1283.2 L754.4,1282.1 L756.1,1281.0 L757.7,1279.9 L759.4,1278.7 L761.1,1277.6 L762.7,1276.4 L764.4,1275.3 L766.0,1274.1 L767.7,1272.9 L769.3,1271.7 L770.9,1270.5 L772.6,1269.3 L774.2,1268.0 L775.8,1266.8 L777.4,1265.6 L778.9,1264.3 L780.5,1263.0 L782.1,1261.8 L783.7,1260.5 L785.2,1259.3 L786.8,1258.0 L788.3,1256.7 L789.9,1255.4 L791.4,1254.2 L792.9,1252.9 L794.5,1251.6 L796.0,1250.3 L797.5,1249.0 L799.0,1247.7 L800.5,1246.4 L802.0,1245.1 L803.5,1243.8 L805.0,1242.5 L806.5,1241.2 L808.0,1239.9 L809.5,1238.6 L811.0,1237.3 L812.5,1236.0 L814.0,1234.7 L815.5,1233.4 L817.0,1232.1 L818.5,1230.8 L820.0,1229.5 L821.4,1228.2 L822.9,1226.9 L824.4,1225.6 L825.9,1224.3 L827.4,1222.9 L828.9,1221.6 L830.4,1220.3 L831.9,1219.0 L833.5,1217.8 L835.0,1216.5 L836.5,1215.2 L838.0,1213.9 L839.5,1212.6 L841.1,1211.3 L842.6,1210.0 L844.1,1208.7 L845.7,1207.5 L847.2,1206.2 L848.8,1204.9 L850.3,1203.7 L851.9,1202.4 L853.5,1201.2 L855.0,1199.9 L856.6,1198.7 L858.2,1197.4 L859.7,1196.2 L861.3,1195.0 L862.9,1193.7 L864.5,1192.5 L866.1,1191.3 L867.7,1190.1 L869.3,1188.9 L870.9,1187.7 L872.6,1186.5 L874.2,1185.3 L875.8,1184.2 L877.4,1183.0 L879.1,1181.9 L880.7,1180.7 L882.4,1179.6 L884.0,1178.4 L885.7,1177.3 L887.4,1176.2 L889.0,1175.1 L890.7,1174.0 L892.4,1172.9 L894.1,1171.8 L895.8,1170.8 L897.5,1169.7 L899.2,1168.7 L900.9,1167.6 L902.6,1166.6 L904.4,1165.6 L906.1,1164.6 L907.9,1163.6 L909.6,1162.6 L911.4,1161.6 L913.1,1160.7 L914.9,1159.7 L916.7,1158.8 L918.4,1157.9 L920.2,1157.0 L922.0,1156.1 L923.8,1155.2 L925.7,1154.3 L927.5,1153.4 L929.3,1152.6 L931.1,1151.8 L933.0,1150.9 L934.8,1150.1 L936.7,1149.4 L938.5,1148.6 L940.4,1147.8 L942.3,1147.1 L944.2,1146.4 L946.0,1145.7 L947.9,1145.1 L949.8,1144.5 L951.7,1143.9 L953.6,1143.3 L955.6,1142.8 L957.5,1142.3 L959.4,1141.8 L961.3,1141.4 L963.3,1141.0 L965.2,1140.7 L967.1,1140.4 L969.1,1140.1 L971.0,1139.9 L973.0,1139.8 L974.9,1139.7 L976.9,1139.6 L978.8,1139.6 L980.8,1139.6 L982.7,1139.7 L984.7,1139.8 L986.6,1140.0 L988.5,1140.2 L990.5,1140.5 L992.4,1140.8 L994.4,1141.1 L996.3,1141.5 L998.2,1141.9 L1000.2,1142.4 L1002.1,1142.9 L1004.0,1143.4 L1005.9,1143.9 L1007.8,1144.5 L1009.7,1145.1 L1011.6,1145.8 L1013.5,1146.5 L1015.4,1147.2 L1017.3,1147.9 L1019.1,1148.7 L1021.0,1149.4 L1022.8,1150.3 L1024.7,1151.1 L1026.5,1151.9 L1028.4,1152.8 L1030.2,1153.7 L1032.0,1154.6 L1033.8,1155.6 L1035.6,1156.5 L1037.4,1157.5 L1039.2,1158.5 L1041.0,1159.5 L1042.8,1160.5 L1044.6,1161.5 L1046.3,1162.5 L1048.1,1163.6 L1049.8,1164.6 L1051.5,1165.7 L1053.3,1166.7 L1055.0,1167.8 L1056.7,1168.9 L1058.4,1170.0 L1060.1,1171.1 L1061.8,1172.2 L1063.5,1173.3 L1065.1,1174.4 L1066.8,1175.5 L1068.5,1176.7 L1070.1,1177.8 L1071.8,1179.0 L1073.4,1180.1 L1075.0,1181.3 L1076.7,1182.4 L1078.3,1183.6 L1079.9,1184.7 L1081.6,1185.9 L1083.2,1187.1 L1084.8,1188.3 L1086.4,1189.4 L1088.0,1190.6 L1089.6,1191.8 L1091.2,1193.0 L1092.8,1194.2 L1094.4,1195.4 L1096.0,1196.6 L1097.6,1197.8 L1099.2,1199.0 L1100.8,1200.1 L1102.3,1201.3 L1103.9,1202.5 L1105.5,1203.7 L1107.1,1204.9 L1108.7,1206.1 L1110.3,1207.3 L1111.8,1208.5 L1113.4,1209.7 L1115.0,1210.9 L1116.6,1212.1 L1118.2,1213.3 L1119.8,1214.5 L1121.4,1215.7 L1123.0,1216.9 L1124.6,1218.1 L1126.2,1219.2 L1127.8,1220.4 L1129.4,1221.6 L1131.0,1222.8 L1132.6,1223.9 L1134.2,1225.1 L1135.8,1226.2 L1137.4,1227.4 L1139.0,1228.5 L1140.7,1229.7 L1142.3,1230.8 L1143.9,1232.0 L1145.6,1233.1 L1147.2,1234.2 L1148.9,1235.3 L1150.6,1236.4 L1152.2,1237.5 L1153.9,1238.6 L1155.6,1239.7 L1157.3,1240.8 L1159.0,1241.8 L1160.7,1242.9 L1162.4,1243.9 L1164.1,1244.9 L1165.8,1245.9 L1167.5,1246.9 L1169.3,1247.9 L1171.0,1248.9 L1172.8,1249.8 L1174.6,1250.7 L1176.4,1251.6 L1178.2,1252.5 L1180.0,1253.4 L1181.8,1254.2 L1183.6,1255.1 L1185.4,1255.8 L1187.3,1256.6 L1189.1,1257.4 L1191.0,1258.1 L1192.9,1258.8 L1194.8,1259.4 L1196.7,1260.1 L1198.6,1260.7 L1200.6,1261.2 L1202.5,1261.8 L1204.5,1262.3 L1206.5,1262.8 L1208.5,1263.2 L1210.5,1263.6 L1212.5,1264.0 L1214.5,1264.4 L1216.5,1264.7 L1218.5,1265.0 L1220.5,1265.2 L1222.5,1265.4 L1224.6,1265.6 L1226.6,1265.8 L1228.6,1265.9 L1230.6,1266.0 L1232.6,1266.0 L1234.7,1266.0 L1236.7,1266.0 L1238.7,1265.9 L1240.7,1265.8 L1242.6,1265.7 L1244.6,1265.5 L1246.6,1265.3 L1248.5,1265.1 L1250.5,1264.8 L1252.4,1264.5 L1254.4,1264.2 L1256.3,1263.8 L1258.2,1263.5 L1260.1,1263.0 L1262.0,1262.6 L1263.9,1262.1 L1265.8,1261.6 L1267.7,1261.1 L1269.6,1260.5 L1271.4,1259.9 L1273.3,1259.3 L1275.2,1258.7 L1277.0,1258.0 L1278.9,1257.4 L1280.7,1256.7 L1282.5,1256.0 L1284.4,1255.2 L1286.2,1254.5 L1288.0,1253.7 L1289.8,1252.9 L1291.6,1252.1 L1293.4,1251.3 L1295.3,1250.4 L1297.1,1249.6 L1298.9,1248.7 L1300.6,1247.8 L1302.4,1246.9 L1304.2,1246.0 L1306.0,1245.1 L1307.8,1244.1 L1309.6,1243.2 L1311.3,1242.2 L1313.1,1241.3 L1314.9,1240.3 L1316.7,1239.3 L1318.4,1238.4 L1320.2,1237.4 L1322.0,1236.4 L1323.7,1235.4 L1325.5,1234.4 L1327.3,1233.4 L1329.0,1232.4 L1330.8,1231.4 L1332.6,1230.4 L1334.3,1229.4 L1336.1,1228.4 L1337.9,1227.4 L1339.6,1226.4 L1341.4,1225.4 L1343.2,1224.4 L1344.9,1223.4 L1346.7,1222.4 L1348.5,1221.4 L1350.2,1220.5 L1352.0,1219.5 L1353.8,1218.6 L1355.6,1217.6 L1357.3,1216.7 L1359.1,1215.7 L1360.9,1214.8 L1362.7,1213.9 L1364.5,1213.0 L1366.3,1212.1 L1368.1,1211.3 L1369.9,1210.4 L1371.7,1209.6 L1373.5,1208.7 L1375.4,1207.9 L1377.2,1207.1 L1379.0,1206.4 L1380.8,1205.6 L1382.7,1204.9 L1384.5,1204.1 L1386.4,1203.4 L1388.2,1202.7 L1390.1,1202.1 L1392.0,1201.4 L1393.9,1200.8 L1395.8,1200.2 L1397.6,1199.7 L1399.5,1199.1 L1401.5,1198.6 L1403.4,1198.1 L1405.3,1197.6 L1407.2,1197.2 L1409.2,1196.8 L1411.1,1196.4 L1413.1,1196.0 L1415.1,1195.7 L1417.0,1195.4 L1419.0,1195.1 L1421.0,1194.9 L1423.0,1194.7 L1425.0,1194.5 L1427.0,1194.4 L1429.1,1194.3 L1431.1,1194.2 L1433.1,1194.2 L1435.1,1194.2 L1437.1,1194.2 L1439.1,1194.3 L1441.1,1194.5 L1443.1,1194.6 L1445.1,1194.9 L1447.1,1195.1 L1449.1,1195.4 L1451.0,1195.8 L1453.0,1196.2 L1454.9,1196.6 L1456.8,1197.1 L1458.7,1197.7 L1460.6,1198.2 L1462.5,1198.9 L1464.3,1199.6 L1466.1,1200.3 L1468.0,1201.1 L1469.7,1201.9 L1471.5,1202.7 L1473.3,1203.6 L1475.0,1204.5 L1476.8,1205.5 L1478.5,1206.4 L1480.2,1207.5 L1481.8,1208.5 L1483.5,1209.6 L1485.2,1210.7 L1486.8,1211.8 L1488.4,1212.9 L1490.0,1214.1 L1491.6,1215.3 L1493.1,1216.5 L1494.7,1217.8 L1496.2,1219.0 L1497.8,1220.3 L1499.3,1221.6 L1500.8,1222.9 L1502.3,1224.3 L1503.8,1225.6 L1505.3,1227.0 L1506.7,1228.4 L1508.2,1229.8 L1509.6,1231.2 L1511.1,1232.6 L1512.5,1234.0 L1513.9,1235.4 L1515.4,1236.8 L1516.8,1238.3 L1518.2,1239.7 L1519.6,1241.2 L1521.0,1242.6 L1522.4,1244.1 L1523.8,1245.5 L1525.2,1247.0 L1526.6,1248.5 L1528.0,1249.9 L1529.4,1251.4 L1530.7,1252.9 L1532.1,1254.3 L1533.5,1255.8 L1534.9,1257.3 L1536.2,1258.8 L1537.6,1260.2 L1538.9,1261.7 L1540.3,1263.2 L1541.6,1264.7 L1543.0,1266.2 L1544.3,1267.7 L1545.7,1269.2 L1547.0,1270.7 L1548.3,1272.2 L1549.7,1273.7 L1551.0,1275.2 L1552.3,1276.7 L1553.6,1278.2 L1554.9,1279.7 L1556.3,1281.2 L1557.6,1282.8 L1558.9,1284.3 L1560.2,1285.8 L1561.5,1287.3 L1562.8,1288.8 L1564.0,1290.4 L1565.3,1291.9 L1566.6,1293.4 L1567.9,1295.0 L1569.2,1296.5 L1570.4,1298.1 L1571.7,1299.6 L1573.0,1301.2 L1574.2,1302.7 L1575.5,1304.3 L1576.8,1305.8 L1578.0,1307.4 L1579.3,1308.9 L1580.5,1310.5 L1581.7,1312.1 L1583.0,1313.6 L1584.2,1315.2 L1585.4,1316.8 L1586.7,1318.3 L1587.9,1319.9 L1589.1,1321.5 L1590.3,1323.1 L1591.5,1324.6 L1592.7,1326.2 L1594.0,1327.8 L1595.2,1329.4 L1596.4,1331.0 L1597.6,1332.6 L1598.7,1334.2 L1599.9,1335.8 L1601.1,1337.4 L1602.3,1339.0 L1603.5,1340.6 L1604.7,1342.2 L1605.8,1343.8 L1607.0,1345.4 L1608.2,1347.1 L1609.3,1348.7 L1610.5,1350.3 L1611.6,1351.9 L1612.8,1353.5 L1614.0,1355.2 L1615.1,1356.8 L1616.2,1358.4 L1617.4,1360.1 L1618.5,1361.7 L1619.6,1363.3 L1620.8,1365.0 L1621.9,1366.6 L1623.0,1368.3 L1624.1,1369.9 L1625.3,1371.6 L1626.4,1373.2 L1627.5,1374.9 L1628.6,1376.5 L1629.7,1378.2 L1630.8,1379.9 L1631.9,1381.5 L1633.0,1383.2 L1634.1,1384.8 L1635.2,1386.5 L1636.3,1388.2 L1637.4,1389.9 L1638.5,1391.5 L1639.5,1393.2 L1640.6,1394.9 L1641.7,1396.5 L1642.8,1398.2 L1643.9,1399.9 L1645.0,1401.6 L1646.0,1403.3 L1647.1,1404.9 L1648.2,1406.6 L1649.3,1408.3 L1650.4,1410.0 L1651.4,1411.6 L1652.5,1413.3 L1653.6,1415.0 L1654.7,1416.7 L1655.8,1418.4 L1656.9,1420.0 L1657.9,1421.7 L1659.0,1423.4 L1660.1,1425.1 L1661.2,1426.7 L1662.3,1428.4 L1663.4,1430.1 L1664.5,1431.8 L1665.6,1433.4 L1666.7,1435.1 L1667.8,1436.8 L1668.9,1438.4 L1670.0,1440.1 L1671.1,1441.8 L1672.2,1443.4 L1673.3,1445.1 L1674.4,1446.8 L1675.5,1448.4 L1676.6,1450.1 L1677.7,1451.7 L1678.9,1453.4 L1680.0,1455.0 L1681.1,1456.7 L1682.3,1458.3 L1683.4,1460.0 L1684.6,1461.6 L1685.7,1463.3 L1686.9,1464.9 L1688.0,1466.5 L1689.2,1468.2 L1690.3,1469.8 L1691.5,1471.4 L1692.7,1473.0 L1693.9,1474.6 L1695.1,1476.3 L1696.3,1477.9 L1697.5,1479.5 L1698.7,1481.1 L1699.9,1482.7 L1701.1,1484.3 L1702.3,1485.9 L1703.5,1487.5 L1704.8,1489.1 L1706.0,1490.6 L1707.2,1492.2 L1708.5,1493.8 L1709.7,1495.4 L1711.0,1496.9 L1712.2,1498.5 L1713.5,1500.0 L1714.8,1501.6 L1716.1,1503.1 L1717.4,1504.7 L1718.6,1506.2 L1719.9,1507.8 L1721.2,1509.3 L1722.5,1510.8 L1723.9,1512.3 L1725.2,1513.9 L1726.5,1515.4 L1727.8,1516.9 L1729.2,1518.4 L1730.5,1519.9 L1731.8,1521.4 L1733.2,1522.9 L1734.5,1524.3 L1735.9,1525.8 L1737.3,1527.3 L1738.6,1528.7 L1740.0,1530.2 L1741.4,1531.7 L1742.8,1533.1 L1744.2,1534.6 L1745.6,1536.0 L1747.0,1537.4 L1748.4,1538.8 L1749.8,1540.3 L1751.2,1541.7 L1752.6,1543.1 L1754.1,1544.5 L1755.5,1545.9 L1756.9,1547.3 L1758.4,1548.7 L1759.8,1550.0 L1761.3,1551.4 L1762.8,1552.8 L1764.2,1554.1 L1765.7,1555.5 L1767.2,1556.8 L1768.7,1558.2 L1770.2,1559.5 L1771.7,1560.8 L1773.2,1562.1 L1774.7,1563.4 L1776.2,1564.7 L1777.7,1566.0 L1779.2,1567.3 L1780.8,1568.6 L1782.3,1569.9 L1783.8,1571.2 L1785.4,1572.4 L1786.9,1573.7 L1788.5,1574.9 L1790.1,1576.2 L1791.6,1577.4 L1793.2,1578.6 L1794.8,1579.8 L1796.4,1581.0 L1797.9,1582.2 L1799.5,1583.4 L1801.1,1584.6 L1802.7,1585.8 L1804.4,1586.9 L1806.0,1588.1 L1807.6,1589.3 L1809.2,1590.4 L1810.9,1591.5 L1812.5,1592.7 L1814.1,1593.8 L1815.8,1594.9 L1817.5,1596.0 L1819.1,1597.1 L1820.8,1598.2 L1822.5,1599.2 L1824.1,1600.3 L1825.8,1601.4 L1827.5,1602.4 L1829.2,1603.4 L1830.9,1604.5 L1832.6,1605.5 L1834.3,1606.5 L1836.0,1607.5 L1837.8,1608.5 L1839.5,1609.5 L1841.2,1610.4 L1843.0,1611.4 L1844.7,1612.4 L1846.5,1613.3 L1848.2,1614.2 L1850.0,1615.2 L1851.8,1616.1 L1853.5,1617.0 L1855.3,1617.9 L1857.1,1618.8 L1858.9,1619.7 L1860.7,1620.5 L1862.5,1621.4 L1864.3,1622.2 L1866.1,1623.1 L1867.9,1623.9 L1869.8,1624.7 L1871.6,1625.5 L1873.4,1626.3 L1875.3,1627.1 L1877.1,1627.8 L1879.0,1628.6 L1880.8,1629.4 L1882.7,1630.1 L1884.6,1630.8 L1886.4,1631.5 L1888.3,1632.3 L1890.2,1633.0 L1892.1,1633.6 L1894.0,1634.3 L1895.9,1635.0 L1897.8,1635.6 L1899.7,1636.3 L1901.6,1636.9 L1903.6,1637.5 L1905.5,1638.1 L1907.4,1638.7 L1909.4,1639.3 L1911.3,1639.9 L1913.3,1640.4 L1915.2,1641.0 L1917.2,1641.5 L1919.2,1642.0" stroke="#00ff00" stroke-width="6"/>
<path d="M248.2,1432.8 L249.8,1431.7 L251.4,1430.7 L253.1,1429.6 L254.7,1428.6 L256.4,1427.5 L258.0,1426.5 L259.6,1425.4 L261.3,1424.3 L262.9,1423.2 L264.6,1422.1 L266.2,1421.0 L267.8,1419.9 L269.5,1418.8 L271.1,1417.7 L272.7,1416.6 L274.4,1415.5 L276.0,1414.4 L277.7,1413.3 L279.3,1412.2 L280.9,1411.0 L282.6,1409.9 L284.2,1408.8 L285.9,1407.6 L287.5,1406.5 L289.1,1405.4 L290.8,1404.2 L292.4,1403.1 L294.1,1401.9 L295.7,1400.8 L297.4,1399.6 L299.0,1398.5 L300.6,1397.3 L302.3,1396.2 L303.9,1395.0 L305.6,1393.9 L307.2,1392.7 L308.9,1391.6 L310.5,1390.4 L312.2,1389.3 L313.9,1388.1 L315.5,1387.0 L317.2,1385.8 L318.8,1384.7 L320.5,1383.6 L322.1,1382.4 L323.8,1381.3 L325.5,1380.1 L327.1,1379.0 L328.8,1377.8 L330.5,1376.7 L332.1,1375.6 L333.8,1374.4 L335.5,1373.3 L337.2,1372.2 L338.8,1371.1 L340.5,1369.9 L342.2,1368.8 L343.9,1367.7 L345.6,1366.6 L347.2,1365.5 L348.9,1364.4 L350.6,1363.3 L352.3,1362.2 L354.0,1361.1 L355.7,1360.0 L357.4,1358.9 L359.1,1357.9 L360.8,1356.8 L362.5,1355.7 L364.2,1354.7 L366.0,1353.6 L367.7,1352.6 L369.4,1351.5 L371.1,1350.5 L372.8,1349.4 L374.6,1348.4 L376.3,1347.4 L378.0,1346.4 L379.8,1345.4 L381.5,1344.4 L383.2,1343.4 L385.0,1342.4 L386.7,1341.5 L388.5,1340.5 L390.2,1339.5 L392.0,1338.6 L393.7,1337.6 L395.5,1336.7 L397.3,1335.8 L399.0,1334.9 L400.8,1334.0 L402.6,1333.1 L404.4,1332.2 L406.2,1331.3 L407.9,1330.4 L409.7,1329.6 L411.5,1328.7 L413.3,1327.9 L415.1,1327.0 L416.9,1326.2 L418.7,1325.4 L420.6,1324.6 L422.4,1323.8 L424.2,1323.1 L426.0,1322.3 L427.9,1321.6 L429.7,1320.8 L431.5,1320.1 L433.4,1319.4 L435.2,1318.7 L437.1,1318.0 L438.9,1317.3 L440.8,1316.6 L442.7,1316.0 L444.5,1315.3 L446.4,1314.7 L448.3,1314.1 L450.2,1313.5 L452.1,1312.9 L454.0,1312.3 L455.9,1311.8 L457.8,1311.2 L459.7,1310.7 L461.6,1310.2 L463.5,1309.7 L465.4,1309.2 L467.4,1308.7 L469.3,1308.3 L471.2,1307.8 L473.2,1307.4 L475.1,1307.0 L477.1,1306.6 L479.0,1306.2 L481.0,1305.9 L483.0,1305.5 L484.9,1305.2 L486.9,1304.8 L488.9,1304.5 L490.9,1304.2 L492.9,1303.9 L494.8,1303.6 L496.8,1303.4 L498.8,1303.1 L500.8,1302.8 L502.8,1302.6 L504.8,1302.3 L506.8,1302.1 L508.8,1301.8 L510.9,1301.6 L512.9,1301.4 L514.9,1301.2 L516.9,1300.9 L518.9,1300.7 L520.9,1300.5 L522.9,1300.3 L524.9,1300.0 L526.9,1299.8 L529.0,1299.6 L531.0,1299.4 L533.0,1299.2 L535.0,1298.9 L537.0,1298.7 L539.0,1298.5 L541.0,1298.2 L543.0,1298.0 L545.0,1297.7 L547.0,1297.5 L549.0,1297.2 L551.0,1296.9 L553.0,1296.6 L555.0,1296.3 L557.0,1296.0 L559.0,1295.7 L560.9,1295.4 L562.9,1295.1 L564.9,1294.7 L566.8,1294.4 L568.8,1294.0 L570.8,1293.6 L572.7,1293.2 L574.7,1292.8 L576.6,1292.3 L578.5,1291.9 L580.5,1291.4 L582.4,1290.9 L584.3,1290.4 L586.2,1289.9 L588.1,1289.4 L590.0,1288.8 L591.9,1288.2 L593.8,1287.6 L595.7,1287.0 L597.6,1286.4 L599.4,1285.7 L601.3,1285.0 L603.1,1284.3 L605.0,1283.6 L606.8,1282.9 L608.7,1282.1 L610.5,1281.3 L612.3,1280.6 L614.1,1279.7 L615.9,1278.9 L617.7,1278.1 L619.5,1277.2 L621.3,1276.4 L623.1,1275.5 L624.9,1274.6 L626.6,1273.7 L628.4,1272.7 L630.2,1271.8 L631.9,1270.8 L633.7,1269.9 L635.4,1268.9 L637.1,1267.9 L638.9,1266.9 L640.6,1265.9 L642.3,1264.8 L644.0,1263.8 L645.7,1262.7 L647.4,1261.7 L649.1,1260.6 L650.8,1259.5 L652.5,1258.4 L654.2,1257.3 L655.9,1256.2 L657.6,1255.1 L659.2,1254.0 L660.9,1252.9 L662.6,1251.7 L664.2,1250.6 L665.9,1249.4 L667.5,1248.3 L669.2,1247.1 L670.8,1245.9 L672.4,1244.7 L674.0,1243.6 L675.7,1242.4 L677.3,1241.2 L678.9,1240.0 L680.5,1238.8 L682.1,1237.6 L683.7,1236.4 L685.3,1235.2 L686.9,1234.0 L688.5,1232.7 L690.1,1231.5 L691.7,1230.3 L693.3,1229.1 L694.8,1227.9 L696.4,1226.7 L698.0,1225.4 L699.6,1224.2 L701.1,1223.0 L702.7,1221.8 L704.2,1220.6 L705.8,1219.3 L707.4,1218.1 L708.9,1216.9 L710.5,1215.7 L712.0,1214.5 L713.6,1213.2 L715.1,1212.0 L716.7,1210.8 L718.3,1209.6 L719.8,1208.3 L721.4,1207.1 L722.9,1205.9 L724.5,1204.7 L726.1,1203.5 L727.6,1202.3 L729.2,1201.0 L730.8,1199.8 L732.3,1198.6 L733.9,1197.4 L735.5,1196.2 L737.0,1195.0 L738.6,1193.8 L740.2,1192.6 L741.8,1191.4 L743.4,1190.2 L745.0,1189.0 L746.6,1187.8 L748.2,1186.6 L749.8,1185.4 L751.4,1184.2 L753.1,1183.0 L754.7,1181.8 L756.3,1180.7 L758.0,1179.5 L759.6,1178.3 L761.3,1177.1 L762.9,1176.0 L764.6,1174.8 L766.3,1173.7 L768.0,1172.5 L769.7,1171.4 L771.4,1170.3 L773.1,1169.2 L774.8,1168.1 L776.5,1167.0 L778.2,1165.9 L779.9,1164.8 L781.7,1163.8 L783.4,1162.8 L785.2,1161.8 L787.0,1160.8 L788.7,1159.8 L790.5,1158.8 L792.3,1157.9 L794.1,1157.0 L795.9,1156.1 L797.7,1155.2 L799.5,1154.3 L801.4,1153.5 L803.2,1152.7 L805.1,1151.9 L806.9,1151.2 L808.8,1150.4 L810.6,1149.7 L812.5,1149.1 L814.4,1148.4 L816.3,1147.8 L818.2,1147.2 L820.1,1146.6 L822.1,1146.1 L824.0,1145.6 L825.9,1145.1 L827.8,1144.6 L829.8,1144.2 L831.7,1143.8 L833.7,1143.4 L835.6,1143.1 L837.6,1142.7 L839.5,1142.4 L841.5,1142.2 L843.5,1141.9 L845.4,1141.7 L847.4,1141.5 L849.4,1141.4 L851.4,1141.2 L853.3,1141.1 L855.3,1141.1 L857.3,1141.0 L859.3,1141.0 L861.2,1141.0 L863.2,1141.1 L865.2,1141.1 L867.2,1141.2 L869.1,1141.3 L871.1,1141.5 L873.1,1141.7 L875.0,1141.9 L877.0,1142.1 L878.9,1142.4 L880.9,1142.7 L882.8,1143.0 L884.8,1143.3 L886.7,1143.7 L888.6,1144.1 L890.6,1144.5 L892.5,1145.0 L894.4,1145.5 L896.3,1146.0 L898.2,1146.6 L900.1,1147.1 L902.0,1147.8 L903.8,1148.4 L905.7,1149.1 L907.6,1149.8 L909.4,1150.5 L911.2,1151.2 L913.1,1152.0 L914.9,1152.8 L916.7,1153.6 L918.5,1154.5 L920.3,1155.4 L922.1,1156.3 L923.9,1157.2 L925.7,1158.1 L927.4,1159.1 L929.2,1160.1 L931.0,1161.1 L932.7,1162.1 L934.5,1163.1 L936.2,1164.1 L937.9,1165.2 L939.7,1166.2 L941.4,1167.3 L943.1,1168.4 L944.8,1169.5 L946.5,1170.6 L948.2,1171.7 L949.9,1172.8 L951.6,1174.0 L953.3,1175.1 L955.0,1176.2 L956.7,1177.4 L958.4,1178.5 L960.1,1179.6 L961.8,1180.8 L963.5,1181.9 L965.2,1183.0 L966.9,1184.2 L968.5,1185.3 L970.2,1186.4 L971.9,1187.5 L973.6,1188.6 L975.3,1189.7 L976.9,1190.8 L978.6,1191.9 L980.3,1193.0 L982.0,1194.1 L983.7,1195.2 L985.3,1196.2 L987.0,1197.3 L988.7,1198.3 L990.4,1199.4 L992.1,1200.4 L993.7,1201.5 L995.4,1202.5 L997.1,1203.5 L998.8,1204.6 L1000.5,1205.6 L1002.2,1206.6 L1003.9,1207.7 L1005.5,1208.7 L1007.2,1209.7 L1008.9,1210.7 L1010.6,1211.8 L1012.3,1212.8 L1014.0,1213.8 L1015.7,1214.9 L1017.4,1215.9 L1019.1,1216.9 L1020.8,1218.0 L1022.5,1219.0 L1024.2,1220.0 L1025.9,1221.1 L1027.6,1222.1 L1029.3,1223.2 L1031.1,1224.2 L1032.8,1225.3 L1034.5,1226.3 L1036.2,1227.4 L1038.0,1228.4 L1039.7,1229.4 L1041.4,1230.4 L1043.2,1231.4 L1044.9,1232.4 L1046.7,1233.4 L1048.5,1234.4 L1050.2,1235.3 L1052.0,1236.2 L1053.8,1237.2 L1055.6,1238.1 L1057.4,1238.9 L1059.2,1239.8 L1061.0,1240.6 L1062.9,1241.4 L1064.7,1242.2 L1066.5,1242.9 L1068.4,1243.7 L1070.3,1244.4 L1072.2,1245.0 L1074.1,1245.7 L1076.0,1246.2 L1077.9,1246.8 L1079.8,1247.3 L1081.8,1247.8 L1083.7,1248.3 L1085.7,1248.7 L1087.6,1249.1 L1089.6,1249.5 L1091.6,1249.8 L1093.6,1250.1 L1095.6,1250.4 L1097.6,1250.6 L1099.6,1250.8 L1101.5,1251.0 L1103.5,1251.1 L1105.6,1251.2 L1107.6,1251.3 L1109.6,1251.4 L1111.6,1251.4 L1113.6,1251.4 L1115.5,1251.3 L1117.5,1251.2 L1119.5,1251.1 L1121.5,1251.0 L1123.5,1250.8 L1125.5,1250.6 L1127.4,1250.3 L1129.4,1250.1 L1131.3,1249.8 L1133.3,1249.5 L1135.2,1249.1 L1137.2,1248.7 L1139.1,1248.3 L1141.0,1247.9 L1142.9,1247.5 L1144.9,1247.0 L1146.8,1246.5 L1148.7,1246.0 L1150.6,1245.5 L1152.5,1244.9 L1154.4,1244.3 L1156.3,1243.7 L1158.2,1243.1 L1160.1,1242.5 L1161.9,1241.9 L1163.8,1241.2 L1165.7,1240.5 L1167.6,1239.9 L1169.4,1239.2 L1171.3,1238.5 L1173.2,1237.7 L1175.1,1237.0 L1176.9,1236.3 L1178.8,1235.5 L1180.7,1234.8 L1182.5,1234.0 L1184.4,1233.3 L1186.3,1232.5 L1188.1,1231.7 L1190.0,1230.9 L1191.8,1230.2 L1193.7,1229.4 L1195.6,1228.6 L1197.4,1227.8 L1199.3,1227.0 L1201.2,1226.3 L1203.0,1225.5 L1204.9,1224.7 L1206.8,1223.9 L1208.6,1223.2 L1210.5,1222.4 L1212.4,1221.7 L1214.3,1220.9 L1216.2,1220.2 L1218.0,1219.5 L1219.9,1218.7 L1221.8,1218.0 L1223.7,1217.3 L1225.6,1216.7 L1227.5,1216.0 L1229.4,1215.3 L1231.3,1214.7 L1233.2,1214.1 L1235.2,1213.4 L1237.1,1212.9 L1239.0,1212.3 L1240.9,1211.7 L1242.9,1211.2 L1244.8,1210.7 L1246.8,1210.2 L1248.7,1209.7 L1250.7,1209.2 L1252.6,1208.8 L1254.6,1208.4 L1256.5,1208.0 L1258.5,1207.7 L1260.5,1207.3 L1262.5,1207.0 L1264.4,1206.7 L1266.4,1206.5 L1268.4,1206.3 L1270.4,1206.1 L1272.4,1205.9 L1274.3,1205.8 L1276.3,1205.7 L1278.3,1205.6 L1280.3,1205.6 L1282.3,1205.5 L1284.3,1205.6 L1286.3,1205.6 L1288.2,1205.7 L1290.2,1205.9 L1292.2,1206.0 L1294.2,1206.3 L1296.2,1206.5 L1298.1,1206.8 L1300.1,1207.1 L1302.1,1207.4 L1304.0,1207.8 L1306.0,1208.2 L1307.9,1208.7 L1309.9,1209.2 L1311.8,1209.7 L1313.7,1210.2 L1315.6,1210.8 L1317.6,1211.4 L1319.5,1212.1 L1321.3,1212.7 L1323.2,1213.5 L1325.1,1214.2 L1326.9,1214.9 L1328.8,1215.7 L1330.6,1216.6 L1332.4,1217.4 L1334.2,1218.3 L1336.0,1219.2 L1337.7,1220.1 L1339.5,1221.0 L1341.2,1222.0 L1342.9,1223.0 L1344.6,1224.1 L1346.3,1225.1 L1348.0,1226.2 L1349.6,1227.3 L1351.2,1228.4 L1352.9,1229.5 L1354.4,1230.7 L1356.0,1231.9 L1357.6,1233.1 L1359.1,1234.3 L1360.7,1235.6 L1362.2,1236.8 L1363.7,1238.1 L1365.2,1239.4 L1366.7,1240.7 L1368.2,1242.1 L1369.6,1243.4 L1371.1,1244.8 L1372.5,1246.1 L1374.0,1247.5 L1375.4,1248.9 L1376.8,1250.4 L1378.2,1251.8 L1379.6,1253.2 L1380.9,1254.7 L1382.3,1256.2 L1383.7,1257.7 L1385.0,1259.1 L1386.4,1260.6 L1387.7,1262.2 L1389.0,1263.7 L1390.4,1265.2 L1391.7,1266.7 L1393.0,1268.3 L1394.3,1269.8 L1395.6,1271.4 L1396.9,1272.9 L1398.2,1274.5 L1399.5,1276.1 L1400.8,1277.6 L1402.0,1279.2 L1403.3,1280.8 L1404.6,1282.4 L1405.9,1284.0 L1407.1,1285.5 L1408.4,1287.1 L1409.7,1288.7 L1410.9,1290.3 L1412.2,1291.9 L1413.4,1293.5 L1414.7,1295.0 L1416.0,1296.6 L1417.2,1298.2 L1418.5,1299.8 L1419.7,1301.3 L1421.0,1302.9 L1422.3,1304.5 L1423.5,1306.0 L1424.8,1307.6 L1426.1,1309.2 L1427.3,1310.7 L1428.6,1312.3 L1429.8,1313.8 L1431.1,1315.4 L1432.3,1316.9 L1433.6,1318.5 L1434.9,1320.0 L1436.1,1321.6 L1437.4,1323.1 L1438.6,1324.7 L1439.8,1326.2 L1441.1,1327.8 L1442.3,1329.4 L1443.6,1330.9 L1444.8,1332.5 L1446.0,1334.0 L1447.2,1335.6 L1448.5,1337.2 L1449.7,1338.7 L1450.9,1340.3 L1452.1,1341.9 L1453.3,1343.5 L1454.5,1345.0 L1455.7,1346.6 L1456.9,1348.2 L1458.1,1349.8 L1459.2,1351.4 L1460.4,1353.0 L1461.6,1354.6 L1462.7,1356.2 L1463.9,1357.8 L1465.1,1359.4 L1466.2,1361.0 L1467.4,1362.7 L1468.5,1364.3 L1469.6,1365.9 L1470.8,1367.5 L1471.9,1369.2 L1473.0,1370.8 L1474.1,1372.4 L1475.3,1374.1 L1476.4,1375.7 L1477.5,1377.4 L1478.6,1379.0 L1479.7,1380.7 L1480.8,1382.3 L1481.9,1384.0 L1483.0,1385.6 L1484.1,1387.3 L1485.2,1389.0 L1486.3,1390.6 L1487.4,1392.3 L1488.5,1394.0 L1489.6,1395.6 L1490.7,1397.3 L1491.7,1399.0 L1492.8,1400.6 L1493.9,1402.3 L1495.0,1404.0 L1496.1,1405.7 L1497.2,1407.3 L1498.2,1409.0 L1499.3,1410.7 L1500.4,1412.4 L1501.5,1414.0 L1502.6,1415.7 L1503.7,1417.4 L1504.7,1419.1 L1505.8,1420.8 L1506.9,1422.4 L1508.0,1424.1 L1509.1,1425.8 L1510.2,1427.5 L1511.3,1429.1 L1512.4,1430.8 L1513.4,1432.5 L1514.5,1434.2 L1515.6,1435.8 L1516.7,1437.5 L1517.8,1439.2 L1518.9,1440.9 L1520.0,1442.5 L1521.2,1444.2 L1522.3,1445.9 L1523.4,1447.5 L1524.5,1449.2 L1525.6,1450.9 L1526.7,1452.5 L1527.9,1454.2 L1529.0,1455.8 L1530.1,1457.5 L1531.3,1459.1 L1532.4,1460.8 L1533.6,1462.4 L1534.7,1464.1 L1535.9,1465.7 L1537.0,1467.4 L1538.2,1469.0 L1539.3,1470.7 L1540.5,1472.3 L1541.7,1473.9 L1542.8,1475.6 L1544.0,1477.2 L1545.2,1478.8 L1546.4,1480.4 L1547.6,1482.0 L1548.8,1483.7 L1550.0,1485.3 L1551.2,1486.9 L1552.4,1488.5 L1553.6,1490.1 L1554.8,1491.7 L1556.0,1493.3 L1557.3,1494.9 L1558.5,1496.5 L1559.7,1498.0 L1560.9,1499.6 L1562.2,1501.2 L1563.4,1502.8 L1564.7,1504.3 L1565.9,1505.9 L1567.2,1507.5 L1568.5,1509.0 L1569.7,1510.6 L1571.0,1512.1 L1572.3,1513.7 L1573.6,1515.2 L1574.8,1516.7 L1576.1,1518.3 L1577.4,1519.8 L1578.7,1521.3 L1580.0,1522.8 L1581.4,1524.4 L1582.7,1525.9 L1584.0,1527.4 L1585.3,1528.9 L1586.7,1530.4 L1588.0,1531.8 L1589.3,1533.3 L1590.7,1534.8 L1592.0,1536.3 L1593.4,1537.7 L1594.8,1539.2 L1596.1,1540.7 L1597.5,1542.1 L1598.9,1543.5 L1600.3,1545.0 L1601.7,1546.4 L1603.1,1547.8 L1604.5,1549.3 L1605.9,1550.7 L1607.3,1552.1 L1608.7,1553.5 L1610.1,1554.9 L1611.6,1556.3 L1613.0,1557.7 L1614.4,1559.0 L1615.9,1560.4 L1617.3,1561.8 L1618.8,1563.1 L1620.3,1564.5 L1621.7,1565.8 L1623.2,1567.2 L1624.7,1568.5 L1626.2,1569.8 L1627.7,1571.1 L1629.2,1572.4 L1630.7,1573.7 L1632.2,1575.0 L1633.7,1576.3 L1635.3,1577.6 L1636.8,1578.9 L1638.3,1580.1 L1639.9,1581.4 L1641.4,1582.6 L1643.0,1583.9 L1644.6,1585.1 L1646.1,1586.4 L1647.7,1587.6 L1649.3,1588.8 L1650.9,1590.0 L1652.5,1591.2 L1654.1,1592.4 L1655.7,1593.6 L1657.3,1594.7 L1658.9,1595.9 L1660.6,1597.0 L1662.2,1598.2 L1663.8,1599.3 L1665.5,1600.5 L1667.1,1601.6 L1668.8,1602.7 L1670.4,1603.8 L1672.1,1604.9 L1673.8,1606.0 L1675.4,1607.1 L1677.1,1608.1 L1678.8,1609.2 L1680.5,1610.2 L1682.2,1611.3 L1683.9,1612.3 L1685.6,1613.3 L1687.3,1614.4 L1689.1,1615.4 L1690.8,1616.4 L1692.5,1617.4 L1694.3,1618.3 L1696.0,1619.3 L1697.7,1620.3 L1699.5,1621.2 L1701.3,1622.2 L1703.0,1623.1 L1704.8,1624.0 L1706.6,1624.9 L1708.3,1625.8 L1710.1,1626.7 L1711.9,1627.6 L1713.7,1628.5 L1715.5,1629.3 L1717.3,1630.2 L1719.1,1631.0 L1720.9,1631.9 L1722.7,1632.7 L1724.5,1633.5 L1726.4,1634.3 L1728.2,1635.1 L1730.0,1635.9 L1731.9,1636.7 L1733.7,1637.5 L1735.5,1638.2 L1737.4,1639.0 L1739.2,1639.7 L1741.1,1640.5 L1743.0,1641.2 L1744.8,1641.9 L1746.7,1642.6 L1748.6,1643.3 L1750.4,1644.0 L1752.3,1644.7 L1754.2,1645.4 L1756.1,1646.0 L1758.0,1646.7 L1759.9,1647.3 L1761.8,1648.0 L1763.7,1648.6 L1765.6,1649.2 L1767.5,1649.8 L1769.4,1650.4 L1771.3,1651.0 L1773.2,1651.6 L1775.1,1652.2 L1777.0,1652.8 L1779.0,1653.4 L1780.9,1653.9 L1782.8,1654.5 L1784.7,1655.0 L1786.7,1655.5 L1788.6,1656.1 L1790.6,1656.6 L1792.5,1657.1 L1794.4,1657.6 L1796.4,1658.1 L1798.3,1658.6 L1800.3,1659.0 L1802.2,1659.5 L1804.2,1660.0 L1806.1,1660.4 L1808.1,1660.9 L1810.0,1661.3 L1812.0,1661.8 L1814.0,1662.2 L1815.9,1662.6 L1817.9,1663.0 L1819.9,1663.4 L1821.8,1663.8 L1823.8,1664.2 L1825.8,1664.6 L1827.7,1665.0 L1829.7,1665.3 L1831.7,1665.7 L1833.7,1666.1 L1835.6,1666.4 L1837.6,1666.7 L1839.6,1667.1 L1841.6,1667.4 L1843.6,1667.7 L1845.5,1668.0 L1847.5,1668.3 L1849.5,1668.6 L1851.5,1668.9 L1853.5,1669.2 L1855.5,1669.5 L1857.4,1669.8 L1859.4,1670.1 L1861.4,1670.3 L1863.4,1670.6 L1865.4,1670.8 L1867.4,1671.1 L1869.3,1671.3 L1871.3,1671.5 L1873.3,1671.8 L1875.3,1672.0 L1877.3,1672.2 L1879.3,1672.4 L1881.3,1672.6 L1883.2,1672.8 L1885.2,1673.0 L1887.2,1673.2 L1889.2,1673.3 L1891.2,1673.5 L1893.2,1673.7 L1895.1,1673.8 L1897.1,1674.0 L1899.1,1674.2 L1901.1,1674.3 L1903.1,1674.4 L1905.0,1674.6 L1907.0,1674.7 L1909.0,1674.8 L1911.0,1674.9 L1912.9,1675.0 L1914.9,1675.2 L1916.9,1675.3 L1918.8,1675.4" stroke="#0000ff" stroke-width="6"/>
</g>
<rect x="246.00" y="206.00" width="3.00" height="635.60" fill="#000" stroke="none"/>
<rect x="246.00" y="206.00" width="1671.00" height="2.90" fill="#000" stroke="none"/>
<rect x="244.00" y="838.70" width="1673.00" height="2.90" fill="#000" stroke="none"/>
<rect x="1916.20" y="206.00" width="6.00" height="638.40" fill="#555" stroke="none"/>
<rect x="246.00" y="1092.00" width="3.00" height="639.00" fill="#000" stroke="none"/>
<rect x="246.00" y="1094.80" width="1671.00" height="2.90" fill="#000" stroke="none"/>
<rect x="246.00" y="1728.10" width="1671.00" height="2.90" fill="#000" stroke="none"/>
<rect x="1916.20" y="1092.00" width="6.00" height="639.00" fill="#555" stroke="none"/>
<g stroke="#1c1c1c" stroke-width="3.80" fill="none">
<line x1="266.92" y1="840.30" x2="266.92" y2="853.30"/>
<line x1="343.78" y1="840.30" x2="343.78" y2="853.30"/>
<line x1="420.64" y1="840.30" x2="420.64" y2="853.30"/>
<line x1="497.50" y1="840.30" x2="497.50" y2="866.30"/>
<line x1="574.36" y1="840.30" x2="574.36" y2="853.30"/>
<line x1="651.22" y1="840.30" x2="651.22" y2="853.30"/>
<line x1="728.08" y1="840.30" x2="728.08" y2="853.30"/>
<line x1="804.94" y1="840.30" x2="804.94" y2="853.30"/>
<line x1="881.80" y1="840.30" x2="881.80" y2="866.30"/>
<line x1="958.66" y1="840.30" x2="958.66" y2="853.30"/>
<line x1="1035.52" y1="840.30" x2="1035.52" y2="853.30"/>
<line x1="1112.38" y1="840.30" x2="1112.38" y2="853.30"/>
<line x1="1189.24" y1="840.30" x2="1189.24" y2="853.30"/>
<line x1="1266.10" y1="840.30" x2="1266.10" y2="866.30"/>
<line x1="1342.96" y1="840.30" x2="1342.96" y2="853.30"/>
<line x1="1419.82" y1="840.30" x2="1419.82" y2="853.30"/>
<line x1="1496.68" y1="840.30" x2="1496.68" y2="853.30"/>
<line x1="1573.54" y1="840.30" x2="1573.54" y2="853.30"/>
<line x1="1650.40" y1="840.30" x2="1650.40" y2="866.30"/>
<line x1="1727.26" y1="840.30" x2="1727.26" y2="853.30"/>
<line x1="1804.12" y1="840.30" x2="1804.12" y2="853.30"/>
<line x1="1880.98" y1="840.30" x2="1880.98" y2="853.30"/>
<line x1="1852.34" y1="208.00" x2="1852.34" y2="195.00"/>
<line x1="1726.95" y1="208.00" x2="1726.95" y2="182.00"/>
<line x1="1613.51" y1="208.00" x2="1613.51" y2="195.00"/>
<line x1="1510.38" y1="208.00" x2="1510.38" y2="195.00"/>
<line x1="1416.21" y1="208.00" x2="1416.21" y2="195.00"/>
<line x1="1329.89" y1="208.00" x2="1329.89" y2="195.00"/>
<line x1="1250.48" y1="208.00" x2="1250.48" y2="182.00"/>
<line x1="1177.18" y1="208.00" x2="1177.18" y2="195.00"/>
<line x1="1109.31" y1="208.00" x2="1109.31" y2="195.00"/>
<line x1="1046.28" y1="208.00" x2="1046.28" y2="195.00"/>
<line x1="987.60" y1="208.00" x2="987.60" y2="195.00"/>
<line x1="932.84" y1="208.00" x2="932.84" y2="182.00"/>
<line x1="881.60" y1="208.00" x2="881.60" y2="195.00"/>
<line x1="833.57" y1="208.00" x2="833.57" y2="195.00"/>
<line x1="788.45" y1="208.00" x2="788.45" y2="195.00"/>
<line x1="745.98" y1="208.00" x2="745.98" y2="195.00"/>
<line x1="705.94" y1="208.00" x2="705.94" y2="182.00"/>
<line x1="668.13" y1="208.00" x2="668.13" y2="195.00"/>
<line x1="632.36" y1="208.00" x2="632.36" y2="195.00"/>
<line x1="598.47" y1="208.00" x2="598.47" y2="195.00"/>
<line x1="566.32" y1="208.00" x2="566.32" y2="195.00"/>
<line x1="535.78" y1="208.00" x2="535.78" y2="182.00"/>
<line x1="506.72" y1="208.00" x2="506.72" y2="195.00"/>
<line x1="479.05" y1="208.00" x2="479.05" y2="195.00"/>
<line x1="452.67" y1="208.00" x2="452.67" y2="195.00"/>
<line x1="427.49" y1="208.00" x2="427.49" y2="195.00"/>
<line x1="403.42" y1="208.00" x2="403.42" y2="182.00"/>
<line x1="380.41" y1="208.00" x2="380.41" y2="195.00"/>
<line x1="358.37" y1="208.00" x2="358.37" y2="195.00"/>
<line x1="337.25" y1="208.00" x2="337.25" y2="195.00"/>
<line x1="316.99" y1="208.00" x2="316.99" y2="195.00"/>
<line x1="297.54" y1="208.00" x2="297.54" y2="182.00"/>
<line x1="278.86" y1="208.00" x2="278.86" y2="195.00"/>
<line x1="260.89" y1="208.00" x2="260.89" y2="195.00"/>
<line x1="247.80" y1="788.00" x2="221.80" y2="788.00"/>
<line x1="1919.30" y1="788.00" x2="1893.30" y2="788.00"/>
<line x1="247.80" y1="735.20" x2="234.80" y2="735.20"/>
<line x1="1919.30" y1="735.20" x2="1906.30" y2="735.20"/>
<line x1="247.80" y1="682.40" x2="234.80" y2="682.40"/>
<line x1="1919.30" y1="682.40" x2="1906.30" y2="682.40"/>
<line x1="247.80" y1="629.60" x2="234.80" y2="629.60"/>
<line x1="1919.30" y1="629.60" x2="1906.30" y2="629.60"/>
<line x1="247.80" y1="576.80" x2="234.80" y2="576.80"/>
<line x1="1919.30" y1="576.80" x2="1906.30" y2="576.80"/>
<line x1="247.80" y1="524.00" x2="221.80" y2="524.00"/>
<line x1="1919.30" y1="524.00" x2="1893.30" y2="524.00"/>
<line x1="247.80" y1="471.20" x2="234.80" y2="471.20"/>
<line x1="1919.30" y1="471.20" x2="1906.30" y2="471.20"/>
<line x1="247.80" y1="418.40" x2="234.80" y2="418.40"/>
<line x1="1919.30" y1="418.40" x2="1906.30" y2="418.40"/>
<line x1="247.80" y1="365.60" x2="234.80" y2="365.60"/>
<line x1="1919.30" y1="365.60" x2="1906.30" y2="365.60"/>
<line x1="247.80" y1="312.80" x2="234.80" y2="312.80"/>
<line x1="1919.30" y1="312.80" x2="1906.30" y2="312.80"/>
<line x1="247.80" y1="260.00" x2="221.80" y2="260.00"/>
<line x1="1919.30" y1="260.00" x2="1893.30" y2="260.00"/>
<line x1="247.60" y1="1729.30" x2="247.60" y2="1742.30"/>
<line x1="323.62" y1="1729.30" x2="323.62" y2="1742.30"/>
<line x1="399.65" y1="1729.30" x2="399.65" y2="1755.30"/>
<line x1="475.67" y1="1729.30" x2="475.67" y2="1742.30"/>
<line x1="551.70" y1="1729.30" x2="551.70" y2="1742.30"/>
<line x1="627.73" y1="1729.30" x2="627.73" y2="1742.30"/>
<line x1="703.75" y1="1729.30" x2="703.75" y2="1755.30"/>
<line x1="779.77" y1="1729.30" x2="779.77" y2="1742.30"/>
<line x1="855.80" y1="1729.30" x2="855.80" y2="1742.30"/>
<line x1="931.83" y1="1729.30" x2="931.83" y2="1742.30"/>
<line x1="1007.85" y1="1729.30" x2="1007.85" y2="1755.30"/>
<line x1="1083.88" y1="1729.30" x2="1083.88" y2="1742.30"/>
<line x1="1159.90" y1="1729.30" x2="1159.90" y2="1742.30"/>
<line x1="1235.92" y1="1729.30" x2="1235.92" y2="1742.30"/>
<line x1="1311.95" y1="1729.30" x2="1311.95" y2="1755.30"/>
<line x1="1387.97" y1="1729.30" x2="1387.97" y2="1742.30"/>
<line x1="1464.00" y1="1729.30" x2="1464.00" y2="1742.30"/>
<line x1="1540.02" y1="1729.30" x2="1540.02" y2="1742.30"/>
<line x1="1616.05" y1="1729.30" x2="1616.05" y2="1755.30"/>
<line x1="1692.07" y1="1729.30" x2="1692.07" y2="1742.30"/>
<line x1="1768.10" y1="1729.30" x2="1768.10" y2="1742.30"/>
<line x1="1844.12" y1="1729.30" x2="1844.12" y2="1742.30"/>
<line x1="1920.15" y1="1729.30" x2="1920.15" y2="1755.30"/>
<line x1="297.47" y1="1095.80" x2="297.47" y2="1069.80"/>
<line x1="350.28" y1="1095.80" x2="350.28" y2="1082.80"/>
<line x1="403.98" y1="1095.80" x2="403.98" y2="1082.80"/>
<line x1="458.60" y1="1095.80" x2="458.60" y2="1082.80"/>
<line x1="514.16" y1="1095.80" x2="514.16" y2="1069.80"/>
<line x1="570.69" y1="1095.80" x2="570.69" y2="1082.80"/>
<line x1="628.21" y1="1095.80" x2="628.21" y2="1082.80"/>
<line x1="686.74" y1="1095.80" x2="686.74" y2="1082.80"/>
<line x1="746.32" y1="1095.80" x2="746.32" y2="1069.80"/>
<line x1="806.98" y1="1095.80" x2="806.98" y2="1082.80"/>
<line x1="868.74" y1="1095.80" x2="868.74" y2="1082.80"/>
<line x1="931.63" y1="1095.80" x2="931.63" y2="1082.80"/>
<line x1="995.69" y1="1095.80" x2="995.69" y2="1069.80"/>
<line x1="1060.94" y1="1095.80" x2="1060.94" y2="1082.80"/>
<line x1="1127.42" y1="1095.80" x2="1127.42" y2="1082.80"/>
<line x1="1195.18" y1="1095.80" x2="1195.18" y2="1082.80"/>
<line x1="1264.23" y1="1095.80" x2="1264.23" y2="1069.80"/>
<line x1="1334.62" y1="1095.80" x2="1334.62" y2="1082.80"/>
<line x1="1406.40" y1="1095.80" x2="1406.40" y2="1082.80"/>
<line x1="1479.60" y1="1095.80" x2="1479.60" y2="1082.80"/>
<line x1="1554.26" y1="1095.80" x2="1554.26" y2="1069.80"/>
<line x1="1630.43" y1="1095.80" x2="1630.43" y2="1082.80"/>
<line x1="1708.15" y1="1095.80" x2="1708.15" y2="1082.80"/>
<line x1="1787.47" y1="1095.80" x2="1787.47" y2="1082.80"/>
<line x1="1868.45" y1="1095.80" x2="1868.45" y2="1069.80"/>
<line x1="247.80" y1="1686.00" x2="221.80" y2="1686.00"/>
<line x1="1919.30" y1="1686.00" x2="1893.30" y2="1686.00"/>
<line x1="247.80" y1="1631.40" x2="234.80" y2="1631.40"/>
<line x1="1919.30" y1="1631.40" x2="1906.30" y2="1631.40"/>
<line x1="247.80" y1="1576.80" x2="234.80" y2="1576.80"/>
<line x1="1919.30" y1="1576.80" x2="1906.30" y2="1576.80"/>
<line x1="247.80" y1="1522.20" x2="234.80" y2="1522.20"/>
<line x1="1919.30" y1="1522.20" x2="1906.30" y2="1522.20"/>
<line x1="247.80" y1="1467.60" x2="234.80" y2="1467.60"/>
<line x1="1919.30" y1="1467.60" x2="1906.30" y2="1467.60"/>
<line x1="247.80" y1="1413.00" x2="221.80" y2="1413.00"/>
<line x1="1919.30" y1="1413.00" x2="1893.30" y2="1413.00"/>
<line x1="247.80" y1="1358.40" x2="234.80" y2="1358.40"/>
<line x1="1919.30" y1="1358.40" x2="1906.30" y2="1358.40"/>
<line x1="247.80" y1="1303.80" x2="234.80" y2="1303.80"/>
<line x1="1919.30" y1="1303.80" x2="1906.30" y2="1303.80"/>
<line x1="247.80" y1="1249.20" x2="234.80" y2="1249.20"/>
<line x1="1919.30" y1="1249.20" x2="1906.30" y2="1249.20"/>
<line x1="247.80" y1="1194.60" x2="234.80" y2="1194.60"/>
<line x1="1919.30" y1="1194.60" x2="1906.30" y2="1194.60"/>
<line x1="247.80" y1="1140.00" x2="221.80" y2="1140.00"/>
<line x1="1919.30" y1="1140.00" x2="1893.30" y2="1140.00"/>
</g>
<line x1="267.5" y1="267.7" x2="373.8" y2="267.7" stroke="#ff0000" stroke-width="6"/>
<line x1="267.5" y1="324.8" x2="373.8" y2="324.8" stroke="#000000" stroke-width="6" stroke-dasharray="12 7"/>
<line x1="267.5" y1="380.0" x2="373.8" y2="380.0" stroke="#00ff00" stroke-width="6"/>
<line x1="267.5" y1="436.5" x2="373.8" y2="436.5" stroke="#0000ff" stroke-width="6"/>
<g font-family='"Liberation Sans", Arial, Helvetica, sans-serif' font-size="45" fill="#000">
<text x="384.5" y="283.1"><tspan font-weight="bold">1</tspan> in <tspan font-style="italic">n</tspan>-hexane</text>
<text x="384.5" y="339.6"><tspan font-weight="bold">1</tspan> in <tspan font-style="italic">n</tspan>-hexadecane</text>
<text x="384.5" y="395.6"><tspan font-weight="bold">2</tspan> in <tspan font-style="italic">n</tspan>-hexane</text>
<text x="384.5" y="451.3"><tspan font-weight="bold">3</tspan> in <tspan font-style="italic">n</tspan>-hexane</text>
</g>
<line x1="802.9" y1="1481.8" x2="911.1" y2="1481.8" stroke="#ff0000" stroke-width="6"/>
<line x1="802.9" y1="1537.5" x2="911.1" y2="1537.5" stroke="#000000" stroke-width="6" stroke-dasharray="12 7"/>
<line x1="802.9" y1="1593.5" x2="911.1" y2="1593.5" stroke="#00ff00" stroke-width="6"/>
<line x1="802.9" y1="1649.2" x2="911.1" y2="1649.2" stroke="#0000ff" stroke-width="6"/>
<g font-family='"Liberation Sans", Arial, Helvetica, sans-serif' font-size="45" fill="#000">
<text x="921.0" y="1497.1"><tspan font-weight="bold">1</tspan> in <tspan font-style="italic">n</tspan>-hexane</text>
<text x="921.0" y="1553.1"><tspan font-weight="bold">1</tspan> in <tspan font-style="italic">n</tspan>-hexadecane</text>
<text x="921.0" y="1608.8"><tspan font-weight="bold">2</tspan> in <tspan font-style="italic">n</tspan>-hexane</text>
<text x="921.0" y="1664.5"><tspan font-weight="bold">3</tspan> in <tspan font-style="italic">n</tspan>-hexane</text>
</g>
<g font-family='"Liberation Sans", Arial, Helvetica, sans-serif' fill="#000">
<text transform="translate(497.50,934.50) scale(0.965,1)" font-size="64.5" text-anchor="middle" >300</text>
<text transform="translate(881.80,934.50) scale(0.965,1)" font-size="64.5" text-anchor="middle" >400</text>
<text transform="translate(1266.10,934.50) scale(0.965,1)" font-size="64.5" text-anchor="middle" >500</text>
<text transform="translate(1650.40,934.50) scale(0.965,1)" font-size="64.5" text-anchor="middle" >600</text>
<text transform="translate(297.54,166.00) scale(0.965,1)" font-size="64.5" text-anchor="middle" >5.0</text>
<text transform="translate(403.42,166.00) scale(0.965,1)" font-size="64.5" text-anchor="middle" >4.5</text>
<text transform="translate(535.78,166.00) scale(0.965,1)" font-size="64.5" text-anchor="middle" >4.0</text>
<text transform="translate(705.94,166.00) scale(0.965,1)" font-size="64.5" text-anchor="middle" >3.5</text>
<text transform="translate(932.84,166.00) scale(0.965,1)" font-size="64.5" text-anchor="middle" >3.0</text>
<text transform="translate(1250.48,166.00) scale(0.965,1)" font-size="64.5" text-anchor="middle" >2.5</text>
<text transform="translate(1726.95,166.00) scale(0.965,1)" font-size="64.5" text-anchor="middle" >2.0</text>
<text transform="translate(205.50,809.00) scale(0.965,1)" font-size="64.5" text-anchor="end" >0.0</text>
<text transform="translate(205.50,545.00) scale(0.965,1)" font-size="64.5" text-anchor="end" >0.5</text>
<text transform="translate(205.50,281.00) scale(0.965,1)" font-size="64.5" text-anchor="end" >1.0</text>
<text transform="translate(399.65,1822.50) scale(0.965,1)" font-size="64.5" text-anchor="middle" >420</text>
<text transform="translate(703.75,1822.50) scale(0.965,1)" font-size="64.5" text-anchor="middle" >440</text>
<text transform="translate(1007.85,1822.50) scale(0.965,1)" font-size="64.5" text-anchor="middle" >460</text>
<text transform="translate(1311.95,1822.50) scale(0.965,1)" font-size="64.5" text-anchor="middle" >480</text>
<text transform="translate(1616.05,1822.50) scale(0.965,1)" font-size="64.5" text-anchor="middle" >500</text>
<text transform="translate(1920.15,1822.50) scale(0.965,1)" font-size="64.5" text-anchor="middle" >520</text>
<text transform="translate(297.47,1061.00) scale(0.965,1)" font-size="64.5" text-anchor="middle" >3.0</text>
<text transform="translate(514.16,1061.00) scale(0.965,1)" font-size="64.5" text-anchor="middle" >2.9</text>
<text transform="translate(746.32,1061.00) scale(0.965,1)" font-size="64.5" text-anchor="middle" >2.8</text>
<text transform="translate(995.69,1061.00) scale(0.965,1)" font-size="64.5" text-anchor="middle" >2.7</text>
<text transform="translate(1264.23,1061.00) scale(0.965,1)" font-size="64.5" text-anchor="middle" >2.6</text>
<text transform="translate(1554.26,1061.00) scale(0.965,1)" font-size="64.5" text-anchor="middle" >2.5</text>
<text transform="translate(1868.45,1061.00) scale(0.965,1)" font-size="64.5" text-anchor="middle" >2.4</text>
<text transform="translate(205.50,1706.00) scale(0.965,1)" font-size="64.5" text-anchor="end" >0.0</text>
<text transform="translate(205.50,1433.00) scale(0.965,1)" font-size="64.5" text-anchor="end" >0.5</text>
<text transform="translate(205.50,1160.00) scale(0.965,1)" font-size="64.5" text-anchor="end" >1.0</text>
<text x="1065.50" y="79.50" font-size="78" text-anchor="middle" textLength="401" lengthAdjust="spacingAndGlyphs">Energy (eV)</text>
<text x="1082.50" y="1913.40" font-size="78" text-anchor="middle" textLength="583" lengthAdjust="spacingAndGlyphs">Wavelength (nm)</text>
<text x="24.00" y="80.30" font-size="77" text-anchor="start" >(a)</text>
<text x="24.00" y="1043.30" font-size="77" text-anchor="start" >(b)</text>
<text transform="translate(80.7,504.4) rotate(-90)" font-size="78" text-anchor="middle" textLength="386" lengthAdjust="spacingAndGlyphs">OD (norm.)</text>
<text transform="translate(89.4,1393) rotate(-90)" font-size="78" text-anchor="middle" textLength="386" lengthAdjust="spacingAndGlyphs">OD (norm.)</text>
</g>
</svg></body></html>
